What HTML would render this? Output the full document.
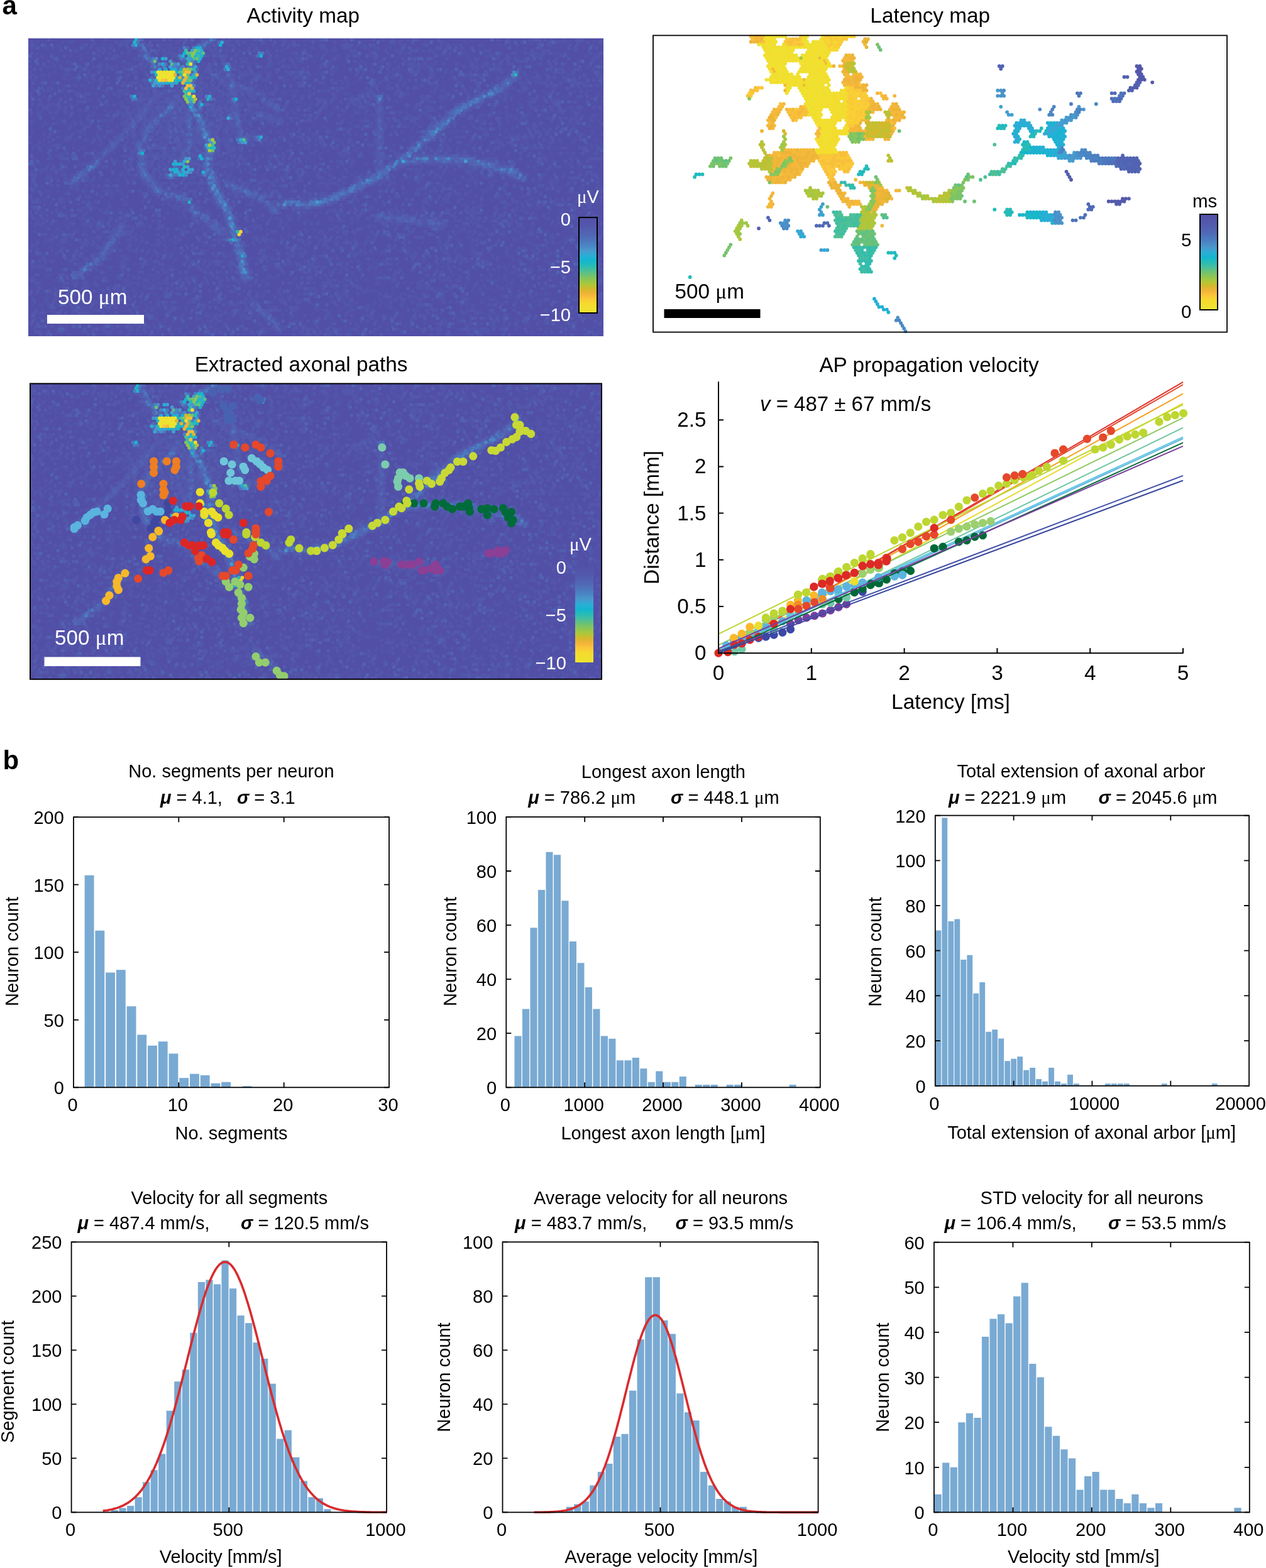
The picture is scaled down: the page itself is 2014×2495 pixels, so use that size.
<!DOCTYPE html>
<html><head><meta charset="utf-8"><title>Figure</title>
<style>html,body{margin:0;padding:0;background:#fff;} svg{display:block;} text{font-family:'Liberation Sans', Arial, Helvetica, sans-serif;}</style>
</head><body>
<svg width="2014" height="2495" viewBox="0 0 2014 2495">
<rect width="2014" height="2495" fill="#fff"/>
<text x="3.5" y="22.7" font-size="42" text-anchor="start" fill="#000" font-weight="bold">a</text>
<text x="4.5" y="1224.2" font-size="42" text-anchor="start" fill="#000" font-weight="bold">b</text>
<defs>
<clipPath id="cpA"><rect x="45" y="61" width="915" height="474"/></clipPath>
<clipPath id="cpE"><rect x="48" y="610" width="909" height="471"/></clipPath>
<linearGradient id="gA" x1="0" y1="0" x2="0" y2="1"><stop offset="0.000" stop-color="#5150a8"/><stop offset="0.100" stop-color="#5459ac"/><stop offset="0.200" stop-color="#4f6ab6"/><stop offset="0.300" stop-color="#4a87c5"/><stop offset="0.350" stop-color="#499acd"/><stop offset="0.400" stop-color="#2aaed6"/><stop offset="0.450" stop-color="#14b5cf"/><stop offset="0.500" stop-color="#25bcb8"/><stop offset="0.550" stop-color="#45bf9e"/><stop offset="0.600" stop-color="#6bc276"/><stop offset="0.650" stop-color="#8dc655"/><stop offset="0.700" stop-color="#acc83a"/><stop offset="0.750" stop-color="#d3b92c"/><stop offset="0.800" stop-color="#f2b33a"/><stop offset="0.850" stop-color="#fbc63a"/><stop offset="0.900" stop-color="#f5da2e"/><stop offset="1.000" stop-color="#eee42f"/></linearGradient>
<g id="actc"><g fill="none" stroke-width="5.8" stroke-linecap="round" ><path d="M62.4 63.2h0m586.5 0h0m69.5 0h0m19.9 0h0m161.5 4.3h0m-484.5 4.3h0m203.7 0h0m179 0h0m-688.4 4.3h0m89.5 0h0m9.9 0h0m357.9 0h0m328 0h0m49.7 0h0m-355.4 4.3h0m114.3 0h0m34.8 0h0m-598.9 4.3h0m700.8 0h0m39.8 0h0m-822.6 4.3h0m69.6 0h0m601.4 0h0m173.9 0h0m-459.7 4.3h0m273.4 0h0m-507 8.6h0m129.2 0h0m44.8 0h0m-146.7 4.3h0m437.4 0h0m-335.5 4.3h0m84.5 0h0m213.7 0h0m-422.4 8.6h0m-146.6 4.3h0m636.1 0h0m-633.6 4.3h0m77.1 4.3h0m417.5 0h0m14.9 0h0m39.7 0h0m5 0h0m54.7 0h0m89.4 0h0m-52.1 4.3h0m-623.8 4.3h0m263.4 0h0m258.5 0h0m-415 4.3h0m19.8 0h0m188.9 0h0m526.8 0h0m-728.1 4.3h0m119.3 0h0m278.3 0h0m84.5 0h0m206.3 4.3h0m-603.9 4.3h0m223.7 0h0m427.4 0h0m-77 13h0m-678.5 4.3h0m770.4 0h0m-608.8 4.3h0m536.7 0h0m-802.6 4.3h0m385.2 4.3h0m-395.2 4.3h0m268.4 0h0m19.9 0h0m402.6 0h0m-176.5 4.3h0m-424.9 4.3h0m338 0h0m255.9 4.3h0m-300.7 4.3h0m34.8 0h0m-116.8 4.3h0m47.2 4.3h0m109.4 0h0m372.7 0h0m-308.1 8.6h0m154.1 0h0m208.7 0h0m-762.9 4.3h0m174 0h0m228.6 0h0m-34.8 8.6h0m27.3 4.3h0m49.7 0h0m238.6 0h0m9.9 0h0m-489.5 4.3h0m84.5 0h0m457.2 0h0m-452.3 8.6h0m-216.2 4.3h0m673.5 4.3h0m-574.1 4.4h0m39.8 0h0m457.2 0h0m-506.9 8.6h0m308.1 0h0m206.3 4.3h0m-603.9 4.3h0m541.8 0h0m99.4 0h0m-521.9 8.6h0m-101.9 4.3h0m24.9 0h0m104.4 0h0m-340.5 4.3h0m59.6 0h0m390.2 4.3h0m-92 4.3h0m183.9 0h0m-544.2 4.3h0m99.4 0h0m54.7 0h0m342.9 0h0m211.2 4.3h0m144.2 0h0m-847.4 4.3h0m656 0h0m5 0h0m-196.3 4.3h0m-141.7 4.3h0m10 0h0m44.7 0h0m99.4 0h0m-280.8 4.3h0m253.5 0h0m370.2 4.3h0m-842.4 4.3h0m298.2 0h0m39.8 0h0m49.7 0h0m422.4 0h0m-598.8 4.3h0m39.7 0h0m183.9 0h0m74.6 0h0m347.9 0h0m-161.6 4.3h0m-395.1 4.3h0m24.9 0h0m541.7 0h0m-668.5 4.3h0m546.7 0h0m-678.4 4.3h0m-32.3 4.4h0m586.5 0h0m154 0h0m-733 4.3h0m357.8 0h0m159.1 0h0m-308.2 8.6h0m-151.6 4.3h0m84.5 0h0m628.7 4.3h0m-434.9 4.3h0m-285.7 4.3h0m581.5 0h0m-544.3 4.3h0m745.5 0h0m-844.9 8.6h0m29.9 0h0m178.9 0h0m59.6 0h0m298.2 0h0m-415 4.3h0m581.5 8.6h0m-489.5 4.3h0m79.5 0h0m9.9 0h0m154.1 0h0m-241 4.3h0m263.4 0h0m-439.9 4.3h0m-72 4.3h0m536.7 0h0m-380.2 4.3h0m671 0h0m-598.9 4.3h0m-82 4.3h0m59.6 0h0m275.9 4.3h0m208.7 0h0m-151.6 4.3h0m308.1 0h0m19.9 0h0m-658.5 4.3h0m99.4 0h0m-226.1 4.4h0m452.2 0h0m243.6 0h0m-62.2 4.3h0m99.4 0h0m-653.5 4.3h0m94.4 0h0m84.5 0h0m-360.3 4.3h0m502 0h0m49.7 0h0m24.8 0h0m298.2 0h0m-802.7 4.3h0m427.5 0h0m198.8 0h0m42.2 4.3h0m99.4 0h0m-708.2 4.3h0m203.8 0h0m178.9 0h0m34.8 0h0m24.8 0h0m-340.4 4.3h0m109.3 0h0m298.2 0h0m29.8 0h0m218.7 0h0m-703.2 4.3h0m347.9 0h0m357.8 0h0m-310.6 4.3h0m-290.8 4.3h0m-231.1 4.3h0m541.8 0h0m203.7 0h0m-429.9 4.3h0m-196.3 4.3h0m377.7 0h0" stroke="#5252a9"/><path d="M77.3 63.2h0m89.5 0h0m39.7 0h0m5 0h0m59.6 0h0m59.7 0h0m24.8 0h0m10 0h0m39.7 0h0m5 0h0m39.8 0h0m144.1 0h0m14.9 0h0m14.9 0h0m74.6 0h0m94.4 0h0m14.9 0h0m49.7 0h0m9.9 0h0m10 0h0m39.7 0h0m5 0h0m5 0h0m-812.6 4.3h0m34.8 0h0m34.8 0h0m14.9 0h0m4.9 0h0m19.9 0h0m5 0h0m129.2 0h0m5 0h0m24.8 0h0m29.9 0h0m34.7 0h0m79.6 0h0m89.4 0h0m5 0h0m9.9 0h0m64.6 0h0m109.4 0h0m49.7 0h0m14.9 0h0m9.9 0h0m34.8 0h0m14.9 0h0m19.9 0h0m5 0h0m-912 4.3h0m24.8 0h0m74.6 0h0m54.7 0h0m29.8 0h0m39.7 0h0m19.9 0h0m39.8 0h0m14.9 0h0m24.8 0h0m10 0h0m54.6 0h0m15 0h0m9.9 0h0m5 0h0m9.9 0h0m34.8 0h0m5 0h0m29.8 0h0m9.9 0h0m39.8 0h0m49.7 0h0m89.4 0h0m29.9 0h0m59.6 0h0m49.7 0h0m34.8 0h0m9.9 0h0m24.9 0h0m-797.7 4.3h0m9.9 0h0m10 0h0m9.9 0h0m29.8 0h0m19.9 0h0m10 0h0m4.9 0h0m14.9 0h0m79.6 0h0m9.9 0h0m29.8 0h0m34.8 0h0m49.7 0h0m39.8 0h0m14.9 0h0m5 0h0m29.8 0h0m4.9 0h0m5 0h0m24.9 0h0m19.8 0h0m99.4 0h0m10 0h0m24.8 0h0m124.3 0h0m54.7 0h0m34.7 0h0m-852.3 4.3h0m24.8 0h0m34.8 0h0m10 0h0m39.7 0h0m44.8 0h0m9.9 0h0m29.8 0h0m44.7 0h0m5 0h0m19.9 0h0m19.9 0h0m24.8 0h0m5 0h0m29.8 0h0m119.3 0h0m5 0h0m49.7 0h0m24.8 0h0m14.9 0h0m5 0h0m24.8 0h0m89.5 0h0m5 0h0m69.6 0h0m19.8 0h0m5 0h0m44.7 0h0m19.9 0h0m-772.8 4.3h0m9.9 0h0m19.9 0h0m9.9 0h0m19.9 0h0m14.9 0h0m34.8 0h0m74.6 0h0m119.3 0h0m4.9 0h0m14.9 0h0m104.4 0h0m24.9 0h0m19.8 0h0m14.9 0h0m144.2 0h0m19.9 0h0m4.9 0h0m14.9 0h0m10 0h0m54.6 0h0m39.8 0h0m14.9 0h0m-887.1 4.3h0m89.4 0h0m24.9 0h0m79.5 0h0m14.9 0h0m54.7 0h0m14.9 0h0m14.9 0h0m14.9 0h0m29.8 0h0m34.8 0h0m74.6 0h0m39.7 0h0m14.9 0h0m223.7 0h0m64.6 0h0m94.4 0h0m-867.2 4.3h0m129.2 0h0m59.6 0h0m10 0h0m69.5 0h0m5 0h0m24.9 0h0m69.5 0h0m10 0h0m49.7 0h0m39.7 0h0m44.8 0h0m59.6 0h0m54.7 0h0m44.7 0h0m5 0h0m44.7 0h0m5 0h0m9.9 0h0m39.8 0h0m24.8 0h0m59.7 0h0m-897.1 4.3h0m29.8 0h0m119.3 0h0m64.6 0h0m14.9 0h0m64.6 0h0m34.8 0h0m9.9 0h0m5 0h0m39.8 0h0m19.9 0h0m14.9 0h0m14.9 0h0m84.5 0h0m193.8 0h0m39.8 0h0m9.9 0h0m14.9 0h0m5 0h0m4.9 0h0m39.8 0h0m9.9 0h0m39.8 0h0m19.9 0h0m-827.5 4.3h0m44.7 0h0m74.6 0h0m4.9 0h0m10 0h0m44.7 0h0m59.6 0h0m54.7 0h0m19.9 0h0m223.6 0h0m5 0h0m19.9 0h0m29.8 0h0m19.9 0h0m49.7 0h0m19.9 0h0m14.9 0h0m49.7 0h0m14.9 0h0m-827.5 4.3h0m49.7 0h0m29.8 0h0m9.9 0h0m34.8 0h0m39.8 0h0m19.9 0h0m34.8 0h0m49.7 0h0m14.9 0h0m4.9 0h0m59.7 0h0m29.8 0h0m24.9 0h0m9.9 0h0m29.8 0h0m19.9 0h0m9.9 0h0m114.3 0h0m19.9 0h0m29.8 0h0m54.7 0h0m14.9 0h0m5 0h0m9.9 0h0m109.4 0h0m69.6 0h0m9.9 0h0m-892.1 4.3h0m94.4 0h0m19.9 0h0m149.1 0h0m14.9 0h0m9.9 0h0m129.3 0h0m44.7 0h0m44.7 0h0m44.8 0h0m9.9 0h0m29.8 0h0m10 0h0m29.8 0h0m94.4 0h0m5 0h0m19.9 0h0m59.6 0h0m19.9 0h0m19.9 0h0m4.9 0h0m-777.8 4.3h0m74.6 0h0m109.3 0h0m5 0h0m14.9 0h0m14.9 0h0m19.9 0h0m9.9 0h0m49.7 0h0m14.9 0h0m5 0h0m9.9 0h0m5 0h0m39.8 0h0m14.9 0h0m39.7 0h0m24.9 0h0m64.6 0h0m5 0h0m24.8 0h0m19.9 0h0m39.8 0h0m49.7 0h0m34.7 0h0m49.7 0h0m5 0h0m10 0h0m14.9 0h0m39.7 0h0m-902 4.3h0m4.9 0h0m14.9 0h0m10 0h0m44.7 0h0m24.9 0h0m54.6 0h0m39.8 0h0m74.6 0h0m29.8 0h0m24.8 0h0m10 0h0m4.9 0h0m5 0h0m14.9 0h0m54.7 0h0m29.8 0h0m34.8 0h0m39.8 0h0m59.6 0h0m9.9 0h0m49.7 0h0m54.7 0h0m9.9 0h0m10 0h0m64.6 0h0m9.9 0h0m19.9 0h0m14.9 0h0m79.5 0h0m5 0h0m-907 4.3h0m54.7 0h0m19.8 0h0m14.9 0h0m10 0h0m24.8 0h0m14.9 0h0m49.7 0h0m94.5 0h0m4.9 0h0m15 0h0m4.9 0h0m14.9 0h0m34.8 0h0m10 0h0m9.9 0h0m24.9 0h0m19.8 0h0m169 0h0m124.3 0h0m4.9 0h0m24.9 0h0m34.8 0h0m29.8 0h0m24.8 0h0m15 0h0m14.9 0h0m9.9 0h0m-797.7 4.3h0m24.9 0h0m9.9 0h0m74.6 0h0m114.3 0h0m9.9 0h0m14.9 0h0m29.8 0h0m19.9 0h0m29.8 0h0m29.9 0h0m44.7 0h0m69.6 0h0m14.9 0h0m24.8 0h0m14.9 0h0m19.9 0h0m24.9 0h0m54.6 0h0m49.7 0h0m114.4 0h0m29.8 0h0m-802.7 4.3h0m19.9 0h0m9.9 0h0m24.9 0h0m14.9 0h0m5 0h0m14.9 0h0m79.5 0h0m24.8 0h0m24.9 0h0m14.9 0h0m5 0h0m94.4 0h0m34.8 0h0m5 0h0m14.9 0h0m4.9 0h0m69.6 0h0m124.3 0h0m29.8 0h0m69.6 0h0m34.8 0h0m4.9 0h0m10 0h0m14.9 0h0m19.9 0h0m4.9 0h0m39.8 0h0m-852.4 4.3h0m54.7 0h0m34.8 0h0m39.8 0h0m54.6 0h0m49.7 0h0m10 0h0m39.7 0h0m19.9 0h0m29.8 0h0m159.1 0h0m19.9 0h0m54.6 0h0m114.3 0h0m49.7 0h0m34.8 0h0m10 0h0m4.9 0h0m34.8 0h0m10 0h0m4.9 0h0m14.9 0h0m-867.2 4.3h0m149.1 0h0m4.9 0h0m5 0h0m29.8 0h0m39.8 0h0m14.9 0h0m49.7 0h0m5 0h0m59.6 0h0m59.7 0h0m34.7 0h0m10 0h0m39.7 0h0m34.8 0h0m5 0h0m24.9 0h0m9.9 0h0m5 0h0m29.8 0h0m44.7 0h0m24.9 0h0m19.8 0h0m49.7 0h0m5 0h0m-767.9 4.3h0m44.8 0h0m54.6 0h0m19.9 0h0m5 0h0m39.8 0h0m24.8 0h0m5 0h0m19.9 0h0m4.9 0h0m44.8 0h0m19.8 0h0m24.9 0h0m9.9 0h0m14.9 0h0m15 0h0m19.8 0h0m84.5 0h0m14.9 0h0m54.7 0h0m39.8 0h0m59.6 0h0m34.8 0h0m14.9 0h0m19.9 0h0m14.9 0h0m49.7 0h0m9.9 0h0m44.8 0h0m44.7 0h0m-877.2 4.3h0m74.5 0h0m5 0h0m9.9 0h0m44.8 0h0m39.7 0h0m5 0h0m9.9 0h0m15 0h0m9.9 0h0m19.9 0h0m4.9 0h0m5 0h0m24.9 0h0m44.7 0h0m39.8 0h0m4.9 0h0m24.9 0h0m69.6 0h0m29.8 0h0m64.6 0h0m14.9 0h0m19.9 0h0m14.9 0h0m119.3 0h0m29.8 0h0m9.9 0h0m129.2 0h0m-882.1 4.3h0m139.1 0h0m34.8 0h0m19.9 0h0m19.9 0h0m49.7 0h0m24.8 0h0m10 0h0m4.9 0h0m10 0h0m34.8 0h0m4.9 0h0m15 0h0m4.9 0h0m44.8 0h0m14.9 0h0m49.7 0h0m84.5 0h0m54.6 0h0m29.8 0h0m5 0h0m49.7 0h0m29.8 0h0m10 0h0m9.9 0h0m49.7 0h0m64.6 0h0m5 0h0m24.8 0h0m-887.1 4.3h0m14.9 0h0m79.5 0h0m64.6 0h0m10 0h0m4.9 0h0m15 0h0m24.8 0h0m5 0h0m84.5 0h0m39.7 0h0m10 0h0m14.9 0h0m4.9 0h0m5 0h0m39.8 0h0m29.8 0h0m19.9 0h0m49.7 0h0m29.8 0h0m64.6 0h0m5 0h0m24.8 0h0m14.9 0h0m24.9 0h0m5 0h0m64.6 0h0m34.8 0h0m4.9 0h0m14.9 0h0m10 0h0m-782.8 4.3h0m29.8 0h0m5 0h0m29.8 0h0m34.8 0h0m24.8 0h0m24.9 0h0m5 0h0m4.9 0h0m5 0h0m69.6 0h0m14.9 0h0m5 0h0m4.9 0h0m24.9 0h0m14.9 0h0m29.8 0h0m49.7 0h0m54.7 0h0m14.9 0h0m14.9 0h0m5 0h0m9.9 0h0m114.3 0h0m49.7 0h0m5 0h0m139.2 0h0m34.8 0h0m44.7 0h0m-907 4.4h0m9.9 0h0m5 0h0m9.9 0h0m34.8 0h0m69.6 0h0m69.6 0h0m44.7 0h0m44.7 0h0m39.8 0h0m4.9 0h0m15 0h0m4.9 0h0m5 0h0m44.7 0h0m49.7 0h0m10 0h0m4.9 0h0m34.8 0h0m10 0h0m9.9 0h0m14.9 0h0m10 0h0m64.6 0h0m4.9 0h0m59.7 0h0m114.3 0h0m39.7 0h0m-812.5 4.3h0m34.8 0h0m49.7 0h0m39.8 0h0m5 0h0m39.7 0h0m59.7 0h0m14.9 0h0m14.9 0h0m24.8 0h0m44.8 0h0m9.9 0h0m10 0h0m9.9 0h0m5 0h0m19.8 0h0m39.8 0h0m19.9 0h0m5 0h0m54.6 0h0m5 0h0m19.9 0h0m24.8 0h0m39.8 0h0m19.9 0h0m74.5 0h0m29.8 0h0m44.8 0h0m14.9 0h0m29.8 0h0m44.7 0h0m5 0h0m19.9 0h0m9.9 0h0m-852.3 4.3h0m24.8 0h0m109.3 0h0m5 0h0m34.8 0h0m64.6 0h0m24.9 0h0m14.9 0h0m14.9 0h0m39.7 0h0m54.7 0h0m54.7 0h0m39.7 0h0m24.9 0h0m74.5 0h0m5 0h0m59.7 0h0m74.5 0h0m39.8 0h0m14.9 0h0m19.9 0h0m-837.5 4.3h0m19.9 0h0m9.9 0h0m14.9 0h0m79.6 0h0m24.8 0h0m24.9 0h0m104.3 0h0m29.9 0h0m74.5 0h0m64.6 0h0m59.7 0h0m14.9 0h0m29.8 0h0m24.8 0h0m39.8 0h0m64.6 0h0m154.1 0h0m19.9 0h0m4.9 0h0m-857.3 4.3h0m49.7 0h0m29.8 0h0m44.7 0h0m10 0h0m9.9 0h0m34.8 0h0m5 0h0m5 0h0m19.8 0h0m5 0h0m5 0h0m4.9 0h0m19.9 0h0m24.9 0h0m59.6 0h0m29.8 0h0m5 0h0m29.8 0h0m84.5 0h0m54.7 0h0m89.4 0h0m15 0h0m9.9 0h0m24.8 0h0m5 0h0m10 0h0m59.6 0h0m109.3 0h0m-832.4 4.3h0m54.6 0h0m39.8 0h0m24.8 0h0m10 0h0m24.8 0h0m19.9 0h0m24.9 0h0m39.7 0h0m19.9 0h0m5 0h0m9.9 0h0m49.7 0h0m5 0h0m5 0h0m19.8 0h0m5 0h0m5 0h0m14.9 0h0m29.8 0h0m9.9 0h0m114.4 0h0m39.7 0h0m10 0h0m19.8 0h0m14.9 0h0m94.5 0h0m24.8 0h0m10 0h0m59.6 0h0m9.9 0h0m10 0h0m-743 4.3h0m34.8 0h0m64.6 0h0m39.7 0h0m24.9 0h0m4.9 0h0m15 0h0m64.6 0h0m9.9 0h0m9.9 0h0m15 0h0m34.7 0h0m5 0h0m5 0h0m24.8 0h0m24.9 0h0m34.8 0h0m4.9 0h0m15 0h0m34.7 0h0m19.9 0h0m5 0h0m64.6 0h0m114.3 0h0m39.8 0h0m14.9 0h0m14.9 0h0m9.9 0h0m5 0h0m19.9 0h0m-892.1 4.3h0m19.8 0h0m15 0h0m34.7 0h0m10 0h0m14.9 0h0m49.7 0h0m9.9 0h0m149.1 0h0m15 0h0m4.9 0h0m59.7 0h0m109.3 0h0m49.7 0h0m19.9 0h0m24.8 0h0m49.7 0h0m5 0h0m29.8 0h0m129.2 0h0m69.6 0h0m-807.6 4.3h0m24.8 0h0m109.4 0h0m19.9 0h0m14.9 0h0m14.9 0h0m14.9 0h0m24.8 0h0m5 0h0m10 0h0m9.9 0h0m5 0h0m4.9 0h0m198.8 0h0m10 0h0m9.9 0h0m10 0h0m14.9 0h0m9.9 0h0m19.9 0h0m24.8 0h0m54.7 0h0m29.8 0h0m69.6 0h0m24.9 0h0m4.9 0h0m34.8 0h0m-777.8 4.3h0m114.3 0h0m5 0h0m24.8 0h0m104.4 0h0m5 0h0m14.9 0h0m99.4 0h0m59.6 0h0m10 0h0m9.9 0h0m19.9 0h0m188.9 0h0m19.8 0h0m54.7 0h0m9.9 0h0m24.9 0h0m9.9 0h0m24.9 0h0m-782.8 4.3h0m49.7 0h0m19.9 0h0m59.6 0h0m5 0h0m24.8 0h0m24.9 0h0m24.8 0h0m5 0h0m14.9 0h0m19.9 0h0m54.7 0h0m44.7 0h0m44.7 0h0m5 0h0m74.6 0h0m29.8 0h0m39.7 0h0m183.9 0h0m5 0h0m14.9 0h0m34.8 0h0m-837.4 4.3h0m10 0h0m34.8 0h0m39.7 0h0m49.7 0h0m19.9 0h0m24.9 0h0m29.8 0h0m9.9 0h0m19.9 0h0m34.8 0h0m19.9 0h0m14.9 0h0m19.9 0h0m4.9 0h0m15 0h0m44.7 0h0m39.7 0h0m193.9 0h0m4.9 0h0m69.6 0h0m5 0h0m59.6 0h0m24.9 0h0m9.9 0h0m49.7 0h0m5 0h0m34.8 0h0m-912 4.3h0m29.8 0h0m14.9 0h0m14.9 0h0m59.7 0h0m14.9 0h0m19.9 0h0m24.8 0h0m29.8 0h0m5 0h0m24.8 0h0m5 0h0m14.9 0h0m10 0h0m19.8 0h0m5 0h0m34.8 0h0m24.9 0h0m24.8 0h0m19.9 0h0m5 0h0m14.9 0h0m9.9 0h0m5 0h0m9.9 0h0m208.8 0h0m9.9 0h0m19.9 0h0m9.9 0h0m84.5 0h0m14.9 0h0m84.5 0h0m-817.6 4.3h0m5 0h0m49.7 0h0m14.9 0h0m10 0h0m34.7 0h0m15 0h0m14.9 0h0m19.9 0h0m39.7 0h0m5 0h0m5 0h0m39.7 0h0m39.8 0h0m4.9 0h0m129.3 0h0m49.7 0h0m14.9 0h0m9.9 0h0m99.4 0h0m10 0h0m34.7 0h0m74.6 0h0m39.8 0h0m24.8 0h0m-842.4 4.3h0m14.9 0h0m14.9 0h0m69.6 0h0m54.7 0h0m9.9 0h0m5 0h0m39.7 0h0m19.9 0h0m14.9 0h0m19.9 0h0m9.9 0h0m24.9 0h0m14.9 0h0m5 0h0m64.6 0h0m44.7 0h0m9.9 0h0m24.9 0h0m5 0h0m39.7 0h0m149.1 0h0m24.9 0h0m4.9 0h0m59.7 0h0m14.9 0h0m49.7 0h0m19.9 0h0m-792.7 4.3h0m4.9 0h0m5 0h0m79.5 0h0m24.9 0h0m14.9 0h0m19.9 0h0m19.8 0h0m10 0h0m44.7 0h0m10 0h0m39.7 0h0m5 0h0m29.8 0h0m44.7 0h0m24.9 0h0m39.7 0h0m34.8 0h0m24.9 0h0m24.8 0h0m5 0h0m9.9 0h0m59.7 0h0m14.9 0h0m124.2 0h0m15 0h0m14.9 0h0m19.8 0h0m109.4 0h0m-907 4.3h0m144.1 0h0m5 0h0m44.7 0h0m5 0h0m39.7 0h0m69.6 0h0m5 0h0m4.9 0h0m10 0h0m169 0h0m49.7 0h0m9.9 0h0m39.8 0h0m54.6 0h0m10 0h0m74.5 0h0m5 0h0m39.7 0h0m19.9 0h0m19.9 0h0m24.9 0h0m24.8 0h0m5 0h0m4.9 0h0m-867.2 4.3h0m114.3 0h0m29.8 0h0m5 0h0m4.9 0h0m19.9 0h0m19.9 0h0m5 0h0m54.7 0h0m29.8 0h0m14.9 0h0m5 0h0m4.9 0h0m10 0h0m14.9 0h0m34.8 0h0m24.8 0h0m44.7 0h0m119.3 0h0m44.8 0h0m4.9 0h0m5 0h0m19.9 0h0m19.9 0h0m24.8 0h0m14.9 0h0m174 0h0m24.8 0h0m-847.4 4.3h0m34.8 0h0m14.9 0h0m5 0h0m9.9 0h0m39.8 0h0m39.8 0h0m14.9 0h0m29.8 0h0m9.9 0h0m10 0h0m29.8 0h0m14.9 0h0m89.5 0h0m49.7 0h0m39.7 0h0m59.7 0h0m29.8 0h0m99.4 0h0m9.9 0h0m29.8 0h0m39.8 0h0m49.7 0h0m34.8 0h0m19.9 0h0m34.8 0h0m-867.3 4.3h0m14.9 0h0m5 0h0m49.7 0h0m49.7 0h0m34.8 0h0m29.8 0h0m5 0h0m4.9 0h0m5 0h0m24.8 0h0m10 0h0m9.9 0h0m24.9 0h0m4.9 0h0m15 0h0m4.9 0h0m34.8 0h0m10 0h0m9.9 0h0m5 0h0m9.9 0h0m9.9 0h0m10 0h0m84.5 0h0m49.7 0h0m14.9 0h0m19.9 0h0m79.5 0h0m19.9 0h0m24.8 0h0m84.5 0h0m-762.9 4.3h0m19.9 0h0m5 0h0m59.6 0h0m14.9 0h0m34.8 0h0m19.9 0h0m29.8 0h0m14.9 0h0m5 0h0m59.6 0h0m39.8 0h0m29.8 0h0m29.8 0h0m10 0h0m9.9 0h0m49.7 0h0m44.7 0h0m44.8 0h0m9.9 0h0m5 0h0m159 0h0m5 0h0m9.9 0h0m39.8 0h0m39.7 0h0m39.8 0h0m29.8 0h0m5 0h0m5 0h0m4.9 0h0m5 0h0m-807.6 4.3h0m9.9 0h0m19.9 0h0m29.8 0h0m9.9 0h0m19.9 0h0m44.8 0h0m24.8 0h0m5 0h0m24.8 0h0m14.9 0h0m24.9 0h0m9.9 0h0m19.9 0h0m34.8 0h0m24.9 0h0m59.6 0h0m14.9 0h0m19.9 0h0m39.7 0h0m19.9 0h0m159.1 0h0m4.9 0h0m29.9 0h0m119.2 0h0m-837.4 4.3h0m39.7 0h0m5 0h0m64.6 0h0m44.8 0h0m9.9 0h0m59.6 0h0m19.9 0h0m10 0h0m4.9 0h0m5 0h0m5 0h0m24.8 0h0m59.7 0h0m9.9 0h0m49.7 0h0m34.8 0h0m14.9 0h0m49.7 0h0m44.7 0h0m14.9 0h0m14.9 0h0m5 0h0m5 0h0m9.9 0h0m5 0h0m5 0h0m4.9 0h0m5 0h0m14.9 0h0m64.6 0h0m54.7 0h0m64.6 0h0m-847.4 4.3h0m10 0h0m79.5 0h0m4.9 0h0m29.9 0h0m9.9 0h0m29.8 0h0m24.9 0h0m44.7 0h0m44.7 0h0m24.9 0h0m34.8 0h0m14.9 0h0m5 0h0m59.6 0h0m44.7 0h0m59.7 0h0m4.9 0h0m34.8 0h0m5 0h0m29.8 0h0m64.6 0h0m10 0h0m4.9 0h0m15 0h0m74.5 0h0m34.8 0h0m9.9 0h0m5 0h0m19.9 0h0m24.8 0h0m-862.3 4.4h0m10 0h0m14.9 0h0m34.8 0h0m119.3 0h0m94.4 0h0m89.4 0h0m15 0h0m24.8 0h0m5 0h0m19.9 0h0m49.7 0h0m74.5 0h0m24.9 0h0m4.9 0h0m54.7 0h0m14.9 0h0m29.8 0h0m5 0h0m114.3 0h0m-807.6 4.3h0m139.1 0h0m39.8 0h0m9.9 0h0m10 0h0m44.7 0h0m49.7 0h0m24.9 0h0m14.9 0h0m59.6 0h0m14.9 0h0m193.9 0h0m39.7 0h0m124.3 0h0m104.3 0h0m5 0h0m-892.1 4.3h0m5 0h0m4.9 0h0m44.8 0h0m89.4 0h0m49.7 0h0m14.9 0h0m5 0h0m54.7 0h0m49.7 0h0m39.7 0h0m49.7 0h0m49.7 0h0m19.9 0h0m49.7 0h0m9.9 0h0m5 0h0m29.8 0h0m44.8 0h0m29.8 0h0m74.5 0h0m29.9 0h0m39.7 0h0m24.9 0h0m4.9 0h0m54.7 0h0m19.9 0h0m5 0h0m-892.2 4.3h0m19.9 0h0m5 0h0m24.8 0h0m29.9 0h0m4.9 0h0m10 0h0m74.5 0h0m29.8 0h0m10 0h0m14.9 0h0m29.8 0h0m54.7 0h0m84.5 0h0m9.9 0h0m19.9 0h0m34.8 0h0m19.9 0h0m34.8 0h0m59.6 0h0m19.9 0h0m19.9 0h0m34.7 0h0m34.8 0h0m14.9 0h0m64.7 0h0m94.4 0h0m5 0h0m34.7 0h0m-857.3 4.3h0m10 0h0m34.7 0h0m10 0h0m24.8 0h0m29.9 0h0m9.9 0h0m19.9 0h0m14.9 0h0m44.7 0h0m79.5 0h0m49.7 0h0m5 0h0m14.9 0h0m34.8 0h0m5 0h0m84.5 0h0m4.9 0h0m34.8 0h0m5 0h0m9.9 0h0m44.8 0h0m164 0h0m19.9 0h0m9.9 0h0m19.9 0h0m-822.6 4.3h0m24.9 0h0m44.7 0h0m79.5 0h0m24.9 0h0m29.8 0h0m5 0h0m9.9 0h0m29.8 0h0m5 0h0m14.9 0h0m5 0h0m19.9 0h0m39.7 0h0m24.9 0h0m19.9 0h0m29.8 0h0m49.7 0h0m19.9 0h0m14.9 0h0m49.7 0h0m24.8 0h0m5 0h0m59.6 0h0m44.8 0h0m24.8 0h0m49.7 0h0m69.6 0h0m29.8 0h0m10 0h0m-832.5 4.3h0m9.9 0h0m19.9 0h0m9.9 0h0m34.8 0h0m10 0h0m14.9 0h0m69.6 0h0m24.8 0h0m74.6 0h0m29.8 0h0m14.9 0h0m39.7 0h0m15 0h0m14.9 0h0m19.8 0h0m34.8 0h0m69.6 0h0m14.9 0h0m14.9 0h0m164 0h0m19.9 0h0m14.9 0h0m39.8 0h0m5 0h0m14.9 0h0m49.7 0h0m-812.6 4.3h0m178.9 0h0m69.6 0h0m263.4 0h0m64.6 0h0m19.9 0h0m89.4 0h0m69.6 0h0m79.5 0h0m10 0h0m-907 4.3h0m79.5 0h0m39.7 0h0m14.9 0h0m34.8 0h0m44.8 0h0m9.9 0h0m9.9 0h0m15 0h0m4.9 0h0m5 0h0m39.8 0h0m4.9 0h0m44.8 0h0m9.9 0h0m19.9 0h0m4.9 0h0m5 0h0m24.9 0h0m104.3 0h0m94.5 0h0m19.8 0h0m10 0h0m9.9 0h0m19.9 0h0m79.5 0h0m49.7 0h0m74.6 0h0m9.9 0h0m19.9 0h0m-698.3 4.3h0m24.9 0h0m4.9 0h0m10 0h0m9.9 0h0m19.9 0h0m34.8 0h0m14.9 0h0m39.8 0h0m24.8 0h0m49.7 0h0m19.9 0h0m5 0h0m49.7 0h0m94.4 0h0m5 0h0m49.7 0h0m9.9 0h0m5 0h0m9.9 0h0m64.6 0h0m54.7 0h0m79.5 0h0m-892.1 4.3h0m94.4 0h0m59.7 0h0m49.7 0h0m59.6 0h0m79.5 0h0m19.9 0h0m14.9 0h0m84.5 0h0m5 0h0m39.7 0h0m24.9 0h0m9.9 0h0m39.8 0h0m69.6 0h0m14.9 0h0m44.7 0h0m34.8 0h0m-743 4.3h0m34.8 0h0m9.9 0h0m5 0h0m94.4 0h0m44.7 0h0m24.9 0h0m9.9 0h0m59.7 0h0m119.2 0h0m15 0h0m9.9 0h0m14.9 0h0m14.9 0h0m34.8 0h0m19.9 0h0m34.8 0h0m49.7 0h0m29.8 0h0m9.9 0h0m19.9 0h0m5 0h0m19.9 0h0m84.5 0h0m29.8 0h0m29.8 0h0m19.9 0h0m9.9 0h0m14.9 0h0m-867.2 4.3h0m44.7 0h0m34.8 0h0m9.9 0h0m10 0h0m129.2 0h0m119.3 0h0m9.9 0h0m19.9 0h0m4.9 0h0m10 0h0m89.4 0h0m19.9 0h0m14.9 0h0m39.8 0h0m64.6 0h0m5 0h0m49.7 0h0m24.8 0h0m44.8 0h0m19.8 0h0m5 0h0m14.9 0h0m79.5 0h0m14.9 0h0m5 0h0m-762.9 4.3h0m24.9 0h0m99.4 0h0m74.5 0h0m154.1 0h0m49.7 0h0m34.8 0h0m29.8 0h0m188.9 0h0m24.8 0h0m10 0h0m19.8 0h0m24.9 0h0m14.9 0h0m9.9 0h0m5 0h0m-887.1 4.3h0m4.9 0h0m89.5 0h0m94.4 0h0m44.7 0h0m10 0h0m5 0h0m14.9 0h0m29.8 0h0m24.8 0h0m49.7 0h0m79.6 0h0m9.9 0h0m54.7 0h0m24.8 0h0m84.5 0h0m69.6 0h0m9.9 0h0m10 0h0m24.8 0h0m14.9 0h0m109.4 0h0m24.8 0h0m-877.2 4.3h0m29.8 0h0m34.8 0h0m5 0h0m29.8 0h0m9.9 0h0m39.8 0h0m84.5 0h0m5 0h0m94.4 0h0m34.8 0h0m14.9 0h0m89.5 0h0m34.8 0h0m9.9 0h0m54.7 0h0m9.9 0h0m34.8 0h0m34.8 0h0m29.8 0h0m9.9 0h0m39.8 0h0m124.3 0h0m-867.3 4.3h0m34.8 0h0m14.9 0h0m74.5 0h0m79.6 0h0m14.9 0h0m24.8 0h0m29.8 0h0m10 0h0m44.7 0h0m54.7 0h0m14.9 0h0m39.7 0h0m34.8 0h0m14.9 0h0m39.8 0h0m29.8 0h0m29.8 0h0m29.9 0h0m44.7 0h0m34.8 0h0m9.9 0h0m5 0h0m5 0h0m39.7 0h0m34.8 0h0m54.7 0h0m-842.4 4.3h0m24.8 0h0m29.8 0h0m29.9 0h0m64.6 0h0m44.7 0h0m89.5 0h0m39.7 0h0m19.9 0h0m84.5 0h0m24.8 0h0m69.6 0h0m44.8 0h0m9.9 0h0m5 0h0m29.8 0h0m14.9 0h0m44.7 0h0m64.6 0h0m10 0h0m4.9 0h0m19.9 0h0m44.8 0h0m69.5 0h0m10 0h0m-892.1 4.3h0m14.9 0h0m39.7 0h0m69.6 0h0m19.9 0h0m64.6 0h0m44.7 0h0m5 0h0m99.4 0h0m49.7 0h0m14.9 0h0m49.7 0h0m34.8 0h0m9.9 0h0m14.9 0h0m84.5 0h0m5 0h0m5 0h0m9.9 0h0m54.7 0h0m9.9 0h0m10 0h0m29.8 0h0m19.9 0h0m19.8 0h0m19.9 0h0m19.9 0h0m14.9 0h0m14.9 0h0m-827.5 4.3h0m84.5 0h0m14.9 0h0m10 0h0m14.9 0h0m24.8 0h0m19.9 0h0m9.9 0h0m69.6 0h0m34.8 0h0m14.9 0h0m5 0h0m14.9 0h0m34.8 0h0m19.9 0h0m94.4 0h0m54.7 0h0m4.9 0h0m5 0h0m64.6 0h0m5 0h0m54.7 0h0m39.7 0h0m19.9 0h0m29.8 0h0m59.7 0h0m19.8 0h0m-832.4 4.3h0m14.9 0h0m79.5 0h0m34.8 0h0m19.9 0h0m9.9 0h0m24.9 0h0m64.6 0h0m129.2 0h0m49.7 0h0m9.9 0h0m54.7 0h0m64.6 0h0m9.9 0h0m5 0h0m10 0h0m9.9 0h0m14.9 0h0m34.8 0h0m84.5 0h0m14.9 0h0m5 0h0m9.9 0h0m5 0h0m19.9 0h0m29.8 0h0m9.9 0h0m19.9 0h0m49.7 0h0m-812.6 4.3h0m9.9 0h0m5 0h0m14.9 0h0m24.9 0h0m4.9 0h0m14.9 0h0m19.9 0h0m14.9 0h0m39.8 0h0m29.8 0h0m29.8 0h0m24.9 0h0m29.8 0h0m5 0h0m173.9 0h0m59.7 0h0m19.9 0h0m14.9 0h0m19.8 0h0m24.9 0h0m39.8 0h0m59.6 0h0m5 0h0m69.5 0h0m29.9 0h0m-852.4 4.3h0m14.9 0h0m64.6 0h0m29.8 0h0m24.9 0h0m39.8 0h0m14.9 0h0m69.5 0h0m24.9 0h0m54.7 0h0m109.3 0h0m5 0h0m14.9 0h0m29.8 0h0m69.6 0h0m14.9 0h0m39.8 0h0m4.9 0h0m34.8 0h0m79.5 0h0m99.4 0h0m10 0h0m-807.7 4.3h0m44.8 0h0m9.9 0h0m5 0h0m5 0h0m14.9 0h0m9.9 0h0m79.5 0h0m5 0h0m14.9 0h0m44.7 0h0m79.6 0h0m4.9 0h0m49.7 0h0m19.9 0h0m5 0h0m24.8 0h0m10 0h0m44.7 0h0m59.6 0h0m5 0h0m19.9 0h0m44.7 0h0m24.9 0h0m9.9 0h0m89.5 0h0m9.9 0h0m59.7 0h0m44.7 0h0m-892.1 4.4h0m4.9 0h0m34.8 0h0m5 0h0m19.9 0h0m4.9 0h0m39.8 0h0m24.9 0h0m4.9 0h0m44.8 0h0m14.9 0h0m79.5 0h0m14.9 0h0m5 0h0m19.8 0h0m39.8 0h0m89.5 0h0m34.8 0h0m14.9 0h0m44.7 0h0m5 0h0m24.8 0h0m5 0h0m44.7 0h0m74.6 0h0m14.9 0h0m19.9 0h0m44.7 0h0m5 0h0m-743.1 4.3h0m10 0h0m39.7 0h0m5 0h0m169 0h0m39.8 0h0m34.7 0h0m5 0h0m119.3 0h0m9.9 0h0m84.5 0h0m10 0h0m29.8 0h0m5 0h0m4.9 0h0m159.1 0h0m49.7 0h0m29.8 0h0m14.9 0h0m29.8 0h0m-877.2 4.3h0m5 0h0m14.9 0h0m5 0h0m24.8 0h0m79.5 0h0m10 0h0m9.9 0h0m24.9 0h0m34.7 0h0m54.7 0h0m5 0h0m5 0h0m59.6 0h0m14.9 0h0m24.9 0h0m24.8 0h0m5 0h0m29.8 0h0m9.9 0h0m74.6 0h0m34.8 0h0m14.9 0h0m54.7 0h0m14.9 0h0m39.7 0h0m5 0h0m34.8 0h0m24.8 0h0m49.7 0h0m79.6 0h0m-847.4 4.3h0m39.7 0h0m10 0h0m19.8 0h0m19.9 0h0m89.5 0h0m69.6 0h0m54.6 0h0m10 0h0m69.6 0h0m9.9 0h0m44.7 0h0m19.9 0h0m24.9 0h0m59.6 0h0m9.9 0h0m59.7 0h0m19.9 0h0m59.6 0h0m79.5 0h0m10 0h0m19.8 0h0m10 0h0m-857.3 4.3h0m79.5 0h0m4.9 0h0m10 0h0m59.6 0h0m44.8 0h0m104.3 0h0m34.8 0h0m64.6 0h0m49.7 0h0m10 0h0m4.9 0h0m14.9 0h0m94.5 0h0m84.5 0h0m44.7 0h0m54.7 0h0m39.7 0h0m14.9 0h0m69.6 0h0m5 0h0m-842.4 4.3h0m54.6 0h0m5 0h0m5 0h0m39.7 0h0m94.5 0h0m159 0h0m5 0h0m14.9 0h0m44.7 0h0m104.4 0h0m39.8 0h0m24.8 0h0m9.9 0h0m124.3 0h0m29.8 0h0m69.6 0h0m5 0h0m19.8 0h0m-902 4.3h0m9.9 0h0m104.4 0h0m29.8 0h0m24.9 0h0m29.8 0h0m59.6 0h0m14.9 0h0m99.4 0h0m64.6 0h0m89.5 0h0m14.9 0h0m119.3 0h0m44.7 0h0m54.7 0h0m29.8 0h0m19.9 0h0m69.6 0h0m-862.3 4.3h0m24.8 0h0m10 0h0m19.8 0h0m54.7 0h0m59.7 0h0m14.9 0h0m39.7 0h0m34.8 0h0m14.9 0h0m14.9 0h0m15 0h0m44.7 0h0m44.7 0h0m99.4 0h0m10 0h0m79.5 0h0m14.9 0h0m14.9 0h0m34.8 0h0m44.7 0h0m49.7 0h0m49.7 0h0m19.9 0h0m9.9 0h0m19.9 0h0m-777.8 4.3h0m29.8 0h0m39.8 0h0m74.5 0h0m74.6 0h0m9.9 0h0m19.9 0h0m89.5 0h0m14.9 0h0m19.9 0h0m14.9 0h0m49.7 0h0m89.4 0h0m5 0h0m24.8 0h0m10 0h0m19.9 0h0m14.9 0h0m104.3 0h0m-762.9 4.3h0m49.7 0h0m15 0h0m4.9 0h0m29.8 0h0m34.8 0h0m24.9 0h0m29.8 0h0m154.1 0h0m5 0h0m4.9 0h0m10 0h0m9.9 0h0m14.9 0h0m44.7 0h0m19.9 0h0m5 0h0m9.9 0h0m84.5 0h0m34.8 0h0m19.9 0h0m19.9 0h0m29.8 0h0m64.6 0h0m49.7 0h0m5 0h0m49.7 0h0m24.8 0h0m19.9 0h0m14.9 0h0m-892.1 4.3h0m9.9 0h0m10 0h0m29.8 0h0m24.8 0h0m59.7 0h0m54.7 0h0m54.6 0h0m19.9 0h0m14.9 0h0m10 0h0m19.8 0h0m89.5 0h0m29.8 0h0m79.5 0h0m44.8 0h0m99.4 0h0m19.8 0h0m10 0h0m14.9 0h0m69.6 0h0m64.6 0h0m19.9 0h0m39.7 0h0m-757.9 4.3h0m59.6 0h0m5 0h0m44.7 0h0m10 0h0m19.9 0h0m9.9 0h0m5 0h0m24.8 0h0m34.8 0h0m29.8 0h0m14.9 0h0m19.9 0h0m5 0h0m14.9 0h0m5 0h0m54.6 0h0m59.7 0h0m9.9 0h0m144.2 0h0m4.9 0h0m5 0h0m59.6 0h0m39.8 0h0m79.5 0h0m-902 4.3h0m9.9 0h0m84.5 0h0m29.8 0h0m14.9 0h0m34.8 0h0m74.6 0h0m14.9 0h0m14.9 0h0m44.7 0h0m69.6 0h0m34.8 0h0m19.9 0h0m4.9 0h0m10 0h0m44.7 0h0m109.3 0h0m44.8 0h0m9.9 0h0m69.6 0h0m94.4 0h0m-787.7 4.3h0m54.6 0h0m39.8 0h0m64.6 0h0m59.7 0h0m49.7 0h0m9.9 0h0m69.6 0h0m34.8 0h0m29.8 0h0m39.7 0h0m34.8 0h0m34.8 0h0m14.9 0h0m39.8 0h0m39.8 0h0m14.9 0h0m44.7 0h0m9.9 0h0m59.7 0h0m14.9 0h0m5 0h0m29.8 0h0m4.9 0h0m19.9 0h0m10 0h0m4.9 0h0m-797.7 4.3h0m59.7 0h0m24.8 0h0m5 0h0m59.6 0h0m39.8 0h0m124.3 0h0m39.7 0h0m39.8 0h0m99.4 0h0m64.6 0h0m9.9 0h0m34.8 0h0m79.5 0h0m19.9 0h0m54.7 0h0m-797.7 4.3h0m5 0h0m89.4 0h0m14.9 0h0m134.2 0h0m104.4 0h0m19.9 0h0m39.7 0h0m15 0h0m109.3 0h0m54.7 0h0m64.6 0h0m19.9 0h0m14.9 0h0m49.7 0h0m34.8 0h0m29.8 0h0m34.8 0h0m19.8 0h0m-822.5 4.3h0m39.8 0h0m19.8 0h0m5 0h0m29.8 0h0m44.8 0h0m29.8 0h0m29.8 0h0m19.9 0h0m14.9 0h0m119.3 0h0m9.9 0h0m5 0h0m104.4 0h0m9.9 0h0m104.4 0h0m89.4 0h0m54.7 0h0m79.5 0h0m19.9 0h0m-902.1 4.3h0m39.8 0h0m39.8 0h0m34.7 0h0m59.7 0h0m34.8 0h0m19.9 0h0m14.9 0h0m29.8 0h0m34.8 0h0m9.9 0h0m5 0h0m19.9 0h0m124.2 0h0m10 0h0m19.8 0h0m5 0h0m114.3 0h0m34.8 0h0m10 0h0m14.9 0h0m44.7 0h0m54.7 0h0m94.4 0h0m9.9 0h0m-877.2 4.3h0m5 0h0m39.8 0h0m4.9 0h0m14.9 0h0m14.9 0h0m15 0h0m114.3 0h0m9.9 0h0m24.9 0h0m9.9 0h0m9.9 0h0m10 0h0m19.9 0h0m29.8 0h0m9.9 0h0m14.9 0h0m19.9 0h0m34.8 0h0m59.6 0h0m5 0h0m74.6 0h0m34.7 0h0m34.8 0h0m89.5 0h0m54.7 0h0m24.8 0h0m19.9 0h0m39.8 0h0m54.6 0h0m5 0h0m-837.5 4.3h0m15 0h0m19.8 0h0m74.6 0h0m14.9 0h0m29.8 0h0m74.6 0h0m49.7 0h0m74.5 0h0m54.7 0h0m5 0h0m19.8 0h0m10 0h0m5 0h0m188.8 0h0m14.9 0h0m104.4 0h0m74.5 0h0m-887.1 4.3h0m39.8 0h0m34.7 0h0m99.4 0h0m29.9 0h0m14.9 0h0m29.8 0h0m134.2 0h0m44.7 0h0m10 0h0m14.9 0h0m54.6 0h0m5 0h0m104.4 0h0m9.9 0h0m29.8 0h0m19.9 0h0m59.7 0h0m64.6 0h0m39.7 0h0m19.9 0h0m-862.3 4.3h0m19.9 0h0m9.9 0h0m59.7 0h0m14.9 0h0m9.9 0h0m24.9 0h0m64.6 0h0m9.9 0h0m34.8 0h0m34.8 0h0m84.5 0h0m14.9 0h0m139.2 0h0m74.5 0h0m34.8 0h0m134.2 0h0m114.3 0h0m-892.1 4.3h0m59.6 0h0m5 0h0m5 0h0m79.5 0h0m29.8 0h0m9.9 0h0m24.9 0h0m19.9 0h0m4.9 0h0m94.5 0h0m64.6 0h0m39.7 0h0m5 0h0m10 0h0m49.7 0h0m19.8 0h0m34.8 0h0m10 0h0m59.6 0h0m154.1 0h0m24.8 0h0m-762.9 4.3h0m84.5 0h0m29.8 0h0m10 0h0m104.4 0h0m79.5 0h0m39.7 0h0m24.9 0h0m64.6 0h0m9.9 0h0m5 0h0m9.9 0h0m59.7 0h0m9.9 0h0m14.9 0h0m14.9 0h0m29.9 0h0m19.8 0h0m144.2 0h0m-792.7 4.4h0m19.8 0h0m14.9 0h0m94.5 0h0m24.8 0h0m99.4 0h0m5 0h0m5 0h0m29.8 0h0m44.7 0h0m10 0h0m44.7 0h0m14.9 0h0m169 0h0m9.9 0h0m5 0h0m24.8 0h0m34.8 0h0m34.8 0h0m5 0h0m39.7 0h0m89.5 0h0m39.8 0h0m4.9 0h0m14.9 0h0m5 0h0m-882.2 4.3h0m29.9 0h0m14.9 0h0m54.6 0h0m10 0h0m49.7 0h0m24.8 0h0m24.9 0h0m9.9 0h0m5 0h0m29.8 0h0m24.9 0h0m14.9 0h0m39.7 0h0m19.9 0h0m19.9 0h0m19.9 0h0m24.8 0h0m5 0h0m14.9 0h0m39.8 0h0m89.4 0h0m34.8 0h0m49.7 0h0m24.9 0h0m74.5 0h0m24.9 0h0m54.6 0h0m64.6 0h0m-872.2 4.3h0m24.9 0h0m9.9 0h0m64.6 0h0m24.9 0h0m49.7 0h0m9.9 0h0m59.6 0h0m5 0h0m39.8 0h0m4.9 0h0m5 0h0m79.5 0h0m79.5 0h0m19.9 0h0m29.8 0h0m54.7 0h0m29.8 0h0m5 0h0m59.6 0h0m19.9 0h0m24.9 0h0m19.9 0h0m59.6 0h0m39.8 0h0m4.9 0h0m-822.5 4.3h0m64.6 0h0m39.8 0h0m29.8 0h0m59.6 0h0m5 0h0m44.7 0h0m10 0h0m59.6 0h0m9.9 0h0m34.8 0h0m29.9 0h0m4.9 0h0m104.4 0h0m44.7 0h0m64.6 0h0m24.9 0h0m134.2 0h0m74.5 0h0m24.9 0h0m-887.2 4.3h0m39.8 0h0m59.6 0h0m49.7 0h0m24.9 0h0m9.9 0h0m29.8 0h0m5 0h0m94.4 0h0m19.9 0h0m5 0h0m5 0h0m24.8 0h0m14.9 0h0m5 0h0m19.9 0h0m4.9 0h0m49.7 0h0m39.8 0h0m24.8 0h0m10 0h0m54.7 0h0m9.9 0h0m19.9 0h0m9.9 0h0m5 0h0m54.7 0h0m4.9 0h0m44.8 0h0m19.8 0h0m49.7 0h0m49.7 0h0m24.9 0h0m-887.2 4.3h0m10 0h0m4.9 0h0m19.9 0h0m14.9 0h0m24.9 0h0m5 0h0m4.9 0h0m24.9 0h0m19.9 0h0m84.5 0h0m89.4 0h0m164 0h0m29.8 0h0m129.3 0h0m54.6 0h0m19.9 0h0m5 0h0m24.8 0h0m54.7 0h0m39.8 0h0m49.7 0h0m-812.6 4.3h0m4.9 0h0m14.9 0h0m10 0h0m64.6 0h0m19.9 0h0m99.4 0h0m19.9 0h0m19.8 0h0m94.5 0h0m19.8 0h0m34.8 0h0m39.8 0h0m29.8 0h0m19.9 0h0m64.6 0h0m19.9 0h0m29.8 0h0m79.5 0h0m39.8 0h0m9.9 0h0m-693.3 4.3h0m14.9 0h0m49.7 0h0m19.9 0h0m44.7 0h0m24.9 0h0m29.8 0h0m49.7 0h0m5 0h0m24.8 0h0m10 0h0m4.9 0h0m69.6 0h0m10 0h0m74.5 0h0m29.8 0h0m5 0h0m34.8 0h0m59.6 0h0m129.2 0h0m54.7 0h0m5 0h0m14.9 0h0m-817.6 4.3h0m29.8 0h0m49.7 0h0m89.5 0h0m59.6 0h0m15 0h0m149.1 0h0m74.5 0h0m9.9 0h0m69.6 0h0m49.7 0h0m29.8 0h0m49.7 0h0m5 0h0m5 0h0m9.9 0h0m64.6 0h0m5 0h0m9.9 0h0m5 0h0m14.9 0h0m-852.3 4.3h0m54.6 0h0m10 0h0m89.4 0h0m49.7 0h0m104.4 0h0m54.7 0h0m144.1 0h0m139.2 0h0m24.8 0h0m29.8 0h0m34.8 0h0m24.9 0h0m44.7 0h0m54.7 0h0m5 0h0m-857.4 4.3h0m10 0h0m14.9 0h0m14.9 0h0m69.6 0h0m19.8 0h0m19.9 0h0m14.9 0h0m10 0h0m14.9 0h0m89.4 0h0m144.2 0h0m4.9 0h0m19.9 0h0m64.6 0h0m34.8 0h0m19.9 0h0m119.3 0h0m-593.9 4.3h0m14.9 0h0m44.7 0h0m9.9 0h0m10 0h0m159 0h0m49.7 0h0m10 0h0m19.9 0h0m14.9 0h0m4.9 0h0m5 0h0m44.7 0h0m24.9 0h0m5 0h0m29.8 0h0m34.8 0h0m54.6 0h0m10 0h0m39.7 0h0m10 0h0m9.9 0h0m10 0h0m4.9 0h0m14.9 0h0m14.9 0h0m34.8 0h0m24.9 0h0m39.7 0h0m15 0h0m14.9 0h0m29.8 0h0m-867.3 4.3h0m39.8 0h0m14.9 0h0m44.7 0h0m39.8 0h0m39.7 0h0m14.9 0h0m15 0h0m14.9 0h0m34.8 0h0m49.7 0h0m19.8 0h0m59.7 0h0m9.9 0h0m19.9 0h0m19.9 0h0m64.6 0h0m44.7 0h0m59.7 0h0m44.7 0h0m19.9 0h0m9.9 0h0m29.8 0h0m34.8 0h0m39.8 0h0m-812.6 4.3h0m9.9 0h0m164 0h0m34.8 0h0m19.9 0h0m74.6 0h0m99.4 0h0m19.8 0h0m5 0h0m9.9 0h0m19.9 0h0m14.9 0h0m14.9 0h0m5 0h0m129.2 0h0m64.6 0h0m10 0h0m5 0h0m34.7 0h0m134.2 0h0m10 0h0m4.9 0h0m10 0h0" stroke="#5357ab"/><path d="M146.9 63.2h0m114.3 0h0m253.5 0h0m144.1 0h0m193.8 0h0m-559.1 4.3h0m511.9 0h0m14.9 0h0m-579 4.3h0m10 0h0m-191.4 4.3h0m69.6 0h0m84.5 0h0m427.4 0h0m9.9 0h0m64.7 0h0m34.7 0h0m59.7 0h0m-698.3 4.3h0m134.2 0h0m39.7 0h0m84.5 0h0m338 0h0m14.9 0h0m29.8 0h0m-603.8 4.3h0m447.3 0h0m-514.4 4.3h0m139.1 0h0m5 0h0m99.4 0h0m14.9 0h0m10 0h0m233.5 0h0m109.4 0h0m154.1 0h0m49.7 0h0m-728.1 4.3h0m59.7 0h0m139.2 0h0m472.1 0h0m9.9 0h0m-613.8 4.3h0m-176.4 4.3h0m556.7 0h0m24.8 0h0m253.5 0h0m-598.9 4.3h0m89.4 0h0m144.2 0h0m308.1 0h0m-728.1 4.3h0m24.9 0h0m114.3 0h0m124.2 0h0m69.6 0h0m114.3 0h0m10 0h0m119.2 0h0m94.5 0h0m44.7 0h0m59.6 0h0m-231.1 4.3h0m293.3 0h0m-713.2 4.3h0m243.5 0h0m183.9 0h0m69.6 0h0m-569.1 4.3h0m54.7 0h0m29.8 0h0m99.4 0h0m34.8 0h0m29.8 0h0m34.8 0h0m169 0h0m193.8 0h0m5 0h0m-584 4.3h0m124.2 0h0m54.7 0h0m94.4 0h0m318.1 0h0m114.3 0h0m19.9 0h0m-524.3 4.3h0m164 0h0m99.4 0h0m69.6 0h0m34.8 0h0m44.7 0h0m-733.1 4.3h0m114.3 0h0m89.5 0h0m178.9 0h0m99.4 0h0m39.8 0h0m104.3 0h0m24.9 0h0m14.9 0h0m34.8 0h0m99.4 0h0m-847.4 4.3h0m94.4 0h0m59.7 0h0m154 0h0m14.9 0h0m10 0h0m5 0h0m129.2 0h0m273.3 0h0m-708.2 4.3h0m14.9 0h0m164 0h0m94.5 0h0m29.8 0h0m402.5 0h0m49.7 0h0m-787.7 4.3h0m24.8 0h0m169 0h0m49.7 0h0m64.6 0h0m5 0h0m263.4 0h0m203.8 0h0m64.6 0h0m-827.5 4.3h0m203.8 0h0m89.4 0h0m213.7 0h0m10 0h0m39.7 0h0m124.3 0h0m-648.6 4.3h0m129.2 0h0m24.9 0h0m19.8 0h0m263.5 0h0m19.8 0h0m49.7 0h0m328.1 0h0m-842.5 4.3h0m64.6 0h0m94.5 0h0m14.9 0h0m9.9 0h0m79.6 0h0m49.7 0h0m9.9 0h0m29.8 0h0m59.7 0h0m64.6 0h0m89.4 0h0m218.7 0h0m14.9 0h0m-668.5 4.4h0m54.7 0h0m44.7 0h0m59.7 0h0m337.9 0h0m19.9 0h0m5 0h0m19.9 0h0m9.9 0h0m99.4 0h0m-772.8 4.3h0m119.3 0h0m54.6 0h0m49.7 0h0m39.8 0h0m173.9 0h0m54.7 0h0m94.4 0h0m188.9 0h0m-842.4 4.3h0m173.9 0h0m39.8 0h0m59.6 0h0m69.6 0h0m49.7 0h0m5 0h0m29.8 0h0m9.9 0h0m24.9 0h0m208.7 0h0m24.9 0h0m109.3 0h0m-623.7 4.3h0m29.8 0h0m10 0h0m29.8 0h0m29.8 0h0m49.7 0h0m34.8 0h0m89.4 0h0m119.3 0h0m164 0h0m-613.8 4.3h0m10 0h0m44.7 0h0m69.6 0h0m44.7 0h0m39.8 0h0m49.7 0h0m283.3 0h0m144.1 0h0m-792.7 4.3h0m188.8 0h0m19.9 0h0m24.9 0h0m54.6 0h0m19.9 0h0m59.7 0h0m168.9 0h0m104.4 0h0m5 0h0m169 0h0m-777.8 4.3h0m54.6 0h0m64.6 0h0m124.3 0h0m29.8 0h0m69.6 0h0m34.8 0h0m213.7 0h0m64.6 0h0m-549.2 4.3h0m34.8 0h0m9.9 0h0m24.9 0h0m54.7 0h0m4.9 0h0m134.2 0h0m129.2 0h0m-444.8 4.3h0m74.6 0h0m39.7 0h0m14.9 0h0m44.8 0h0m352.8 0h0m5 0h0m-449.8 4.3h0m5 0h0m24.9 0h0m29.8 0h0m14.9 0h0m69.6 0h0m298.2 0h0m4.9 0h0m5 0h0m14.9 0h0m74.6 0h0m-539.3 4.3h0m59.7 0h0m19.8 0h0m59.7 0h0m213.7 0h0m9.9 0h0m74.6 0h0m19.9 0h0m44.7 0h0m-549.2 4.3h0m198.8 0h0m89.5 0h0m119.2 0h0m154.1 0h0m-628.7 4.3h0m64.6 0h0m89.5 0h0m39.7 0h0m24.9 0h0m49.7 0h0m357.8 0h0m-564.1 4.3h0m89.5 0h0m5 0h0m14.9 0h0m24.8 0h0m24.9 0h0m144.1 0h0m178.9 0h0m14.9 0h0m14.9 0h0m-524.3 4.3h0m5 0h0m4.9 0h0m39.8 0h0m44.7 0h0m34.8 0h0m10 0h0m99.4 0h0m258.4 0h0m109.3 0h0m149.1 0h0m-747.9 4.3h0m333 0h0m89.4 0h0m64.6 0h0m29.8 0h0m159.1 0h0m-683.4 4.3h0m5 0h0m114.3 0h0m49.7 0h0m492 0h0m-757.9 4.3h0m94.4 0h0m104.4 0h0m14.9 0h0m19.9 0h0m233.6 0h0m4.9 0h0m104.4 0h0m44.7 0h0m74.6 0h0m-454.8 4.3h0m19.9 0h0m14.9 0h0m248.5 0h0m5 0h0m-559.1 4.3h0m69.5 0h0m44.8 0h0m84.5 0h0m89.4 0h0m233.6 0h0m34.8 0h0m54.7 0h0m14.9 0h0m5 0h0m9.9 0h0m9.9 0h0m5 0h0m14.9 0h0m-613.8 4.3h0m49.7 0h0m49.7 0h0m14.9 0h0m24.9 0h0m39.7 0h0m188.9 0h0m159 0h0m15 0h0m34.7 0h0m174 0h0m-797.7 4.3h0m169 0h0m74.5 0h0m29.9 0h0m352.8 0h0m233.6 0h0m-867.2 4.3h0m104.3 0h0m178.9 0h0m44.8 0h0m49.7 0h0m14.9 0h0m69.6 0h0m104.3 0h0m5 0h0m9.9 0h0m5 0h0m5 0h0m5 0h0m9.9 0h0m69.6 0h0m64.6 0h0m69.6 0h0m-743.1 4.3h0m109.4 0h0m94.4 0h0m10 0h0m154 0h0m34.8 0h0m208.8 0h0m24.8 0h0m34.8 0h0m5 0h0m4.9 0h0m5 0h0m5 0h0m119.3 0h0m-792.8 4.4h0m10 0h0m64.6 0h0m49.7 0h0m24.8 0h0m29.9 0h0m283.3 0h0m4.9 0h0m24.9 0h0m-449.8 4.3h0m54.7 0h0m79.5 0h0m169 0h0m203.7 0h0m79.6 0h0m29.8 0h0m9.9 0h0m19.9 0h0m84.5 0h0m-772.9 4.3h0m24.9 0h0m159 0h0m10 0h0m19.9 0h0m432.3 0h0m24.9 0h0m-678.4 4.3h0m442.3 0h0m14.9 0h0m213.7 0h0m84.5 0h0m-832.4 4.3h0m29.8 0h0m263.4 0h0m9.9 0h0m24.9 0h0m24.8 0h0m44.8 0h0m-340.5 4.3h0m104.4 0h0m34.8 0h0m39.7 0h0m69.6 0h0m5 0h0m5 0h0m124.2 0h0m203.8 0h0m238.5 0h0m-877.2 4.3h0m114.3 0h0m193.9 0h0m19.8 0h0m69.6 0h0m288.3 0h0m-350.4 4.3h0m19.9 0h0m134.2 0h0m29.8 0h0m139.2 0h0m114.3 0h0m19.8 0h0m-479.6 4.3h0m10 0h0m24.8 0h0m79.5 0h0m129.3 0h0m9.9 0h0m-454.8 4.3h0m64.7 0h0m44.7 0h0m154.1 0h0m69.5 0h0m54.7 0h0m74.6 0h0m159 0h0m19.9 0h0m29.8 0h0m-544.2 4.3h0m99.4 0h0m5 0h0m29.8 0h0m44.7 0h0m69.6 0h0m5 0h0m54.6 0h0m-275.8 4.3h0m14.9 0h0m119.3 0h0m-350.4 4.3h0m124.2 0h0m54.7 0h0m124.3 0h0m4.9 0h0m19.9 0h0m39.8 0h0m4.9 0h0m39.8 0h0m34.8 0h0m134.2 0h0m183.9 0h0m-738.1 4.3h0m164 0h0m5 0h0m139.2 0h0m74.5 0h0m318.1 0h0m49.7 0h0m5 0h0m9.9 0h0m-420 4.3h0m-410 4.3h0m39.8 0h0m253.5 0h0m173.9 0h0m-350.4 4.3h0m114.3 0h0m49.7 0h0m79.5 0h0m119.3 0h0m178.9 0h0m-633.6 4.3h0m14.9 0h0m4.9 0h0m104.4 0h0m29.8 0h0m54.7 0h0m5 0h0m44.7 0h0m263.4 0h0m19.9 0h0m5 0h0m24.8 0h0m-459.7 4.3h0m19.9 0h0m367.8 0h0m4.9 0h0m19.9 0h0m5 0h0m14.9 0h0m49.7 0h0m134.2 0h0m-743 4.3h0m228.6 0h0m89.4 0h0m213.8 0h0m14.9 0h0m9.9 0h0m49.7 0h0m14.9 0h0m5 0h0m94.4 0h0m-584 4.3h0m119.3 0h0m323.1 0h0m29.8 0h0m-504.5 4.3h0m114.3 0h0m59.7 0h0m253.5 0h0m323 0h0m-588.9 4.3h0m24.8 0h0m5 0h0m308.1 0h0m-519.4 4.3h0m24.9 0h0m407.5 0h0m-419.9 4.4h0m14.9 0h0m94.4 0h0m34.8 0h0m24.9 0h0m248.5 0h0m34.7 0h0m49.7 0h0m-593.9 4.3h0m377.8 0h0m49.7 0h0m178.9 0h0m19.9 0h0m-539.3 4.3h0m139.2 0h0m596.4 0h0m-584 4.3h0m44.7 0h0m74.6 0h0m144.1 0h0m178.9 0h0m-593.9 4.3h0m293.2 0h0m94.5 0h0m168.9 0h0m129.3 0h0m54.6 0h0m-787.7 4.3h0m44.7 0h0m114.3 0h0m179 0h0m218.6 0h0m24.9 0h0m64.6 0h0m5 0h0m114.3 0h0m-787.8 4.3h0m357.9 0h0m64.6 0h0m-469.7 4.3h0m99.4 0h0m9.9 0h0m149.2 0h0m29.8 0h0m94.4 0h0m238.6 0h0m-564.1 4.3h0m49.7 0h0m506.9 0h0m193.8 0h0m-718.1 4.3h0m9.9 0h0m472.2 0h0m-216.2 4.3h0m308.1 0h0m44.7 0h0m-618.7 4.3h0m631.2 0h0m49.7 0h0m89.4 0h0m-787.7 4.3h0m64.6 0h0m223.6 0h0m333 0h0m-673.4 4.3h0m24.8 0h0m99.4 0h0m273.4 0h0m14.9 0h0m382.7 0h0m-753 4.3h0m39.8 0h0m218.7 0h0m362.8 0h0m99.4 0h0m-459.7 4.3h0m193.8 0h0m27.3 4.3h0m10 0h0m4.9 0h0m19.9 0h0m208.8 0h0m49.7 0h0m-797.7 4.3h0m64.6 0h0m223.6 0h0m298.2 0h0m5 0h0m-211.2 4.3h0m79.5 0h0m119.3 0h0m213.7 0h0m-703.3 4.3h0m328.1 0h0m19.8 0h0m174 0h0m139.1 0h0m29.9 0h0m24.8 0h0m-733.1 4.3h0m313.1 0h0m164.1 0h0m293.2 0h0m-484.6 4.3h0m94.4 0h0m258.5 0h0m-539.3 4.3h0m79.6 0h0m44.7 0h0m139.1 0h0m169 0h0m39.8 0h0m24.8 0h0m-504.4 4.3h0m5 0h0m407.5 0h0m129.2 0h0m19.9 0h0m-718.2 4.4h0m19.9 0h0m223.7 0h0m134.1 0h0m5 0h0m49.7 0h0m387.7 0h0m-559.1 4.3h0m34.7 0h0m-86.9 4.3h0m203.7 0h0m323.1 0h0m-757.9 4.3h0m825 0h0m-534.3 4.3h0m328 0h0m-390.1 4.3h0m59.6 0h0m49.7 0h0m39.8 0h0m129.2 0h0m39.8 0h0m-579 4.3h0m183.8 0h0m188.9 0h0m263.4 0h0m-613.8 4.3h0m124.3 0h0m39.7 0h0m64.6 0h0m308.2 0h0m139.1 0h0m29.9 0h0m89.4 0h0m-787.7 4.3h0m19.9 0h0m124.2 0h0m64.6 0h0m139.2 0h0m19.9 0h0m288.2 0h0m99.4 0h0m-623.7 4.3h0m228.6 0h0m19.9 0h0m417.5 0h0m-817.6 4.3h0m54.7 0h0m546.7 0h0m19.8 0h0m29.9 0h0m-350.4 4.3h0m442.3 0h0m-564.1 4.3h0m84.5 0h0m5 0h0m169 0h0m79.5 0h0m313.1 0h0m44.7 0h0m-857.3 4.3h0m69.6 0h0m208.7 0h0m54.7 0h0" stroke="#535dae"/><path d="M201.6 63.2h0m49.7 0h0m34.7 0h0m5 0h0m29.8 0h0m24.9 0h0m29.8 0h0m5 0h0m39.7 0h0m34.8 0h0m34.8 0h0m10 0h0m49.7 0h0m14.9 0h0m74.5 0h0m109.4 0h0m84.4 0h0m10 0h0m5 0h0m49.7 0h0m59.6 0h0m-907 4.3h0m9.9 0h0m39.8 0h0m9.9 0h0m79.5 0h0m5 0h0m84.5 0h0m5 0h0m19.8 0h0m15 0h0m233.5 0h0m124.3 0h0m29.8 0h0m34.8 0h0m89.5 0h0m14.9 0h0m44.7 0h0m5 0h0m9.9 0h0m19.9 0h0m-832.5 4.3h0m39.8 0h0m29.8 0h0m5 0h0m9.9 0h0m19.9 0h0m59.6 0h0m5 0h0m5 0h0m39.7 0h0m5 0h0m24.8 0h0m24.9 0h0m5 0h0m34.8 0h0m4.9 0h0m79.5 0h0m84.5 0h0m10 0h0m59.6 0h0m34.8 0h0m29.8 0h0m19.9 0h0m44.7 0h0m24.9 0h0m9.9 0h0m74.6 0h0m-827.5 4.3h0m4.9 0h0m14.9 0h0m5 0h0m10 0h0m9.9 0h0m39.8 0h0m24.8 0h0m19.9 0h0m9.9 0h0m79.6 0h0m4.9 0h0m5 0h0m5 0h0m4.9 0h0m64.6 0h0m10 0h0m34.8 0h0m134.2 0h0m44.7 0h0m19.9 0h0m24.8 0h0m44.8 0h0m168.9 0h0m49.7 0h0m-767.8 4.3h0m44.7 0h0m109.3 0h0m74.6 0h0m99.4 0h0m5 0h0m69.5 0h0m10 0h0m4.9 0h0m94.5 0h0m4.9 0h0m39.8 0h0m14.9 0h0m44.7 0h0m29.9 0h0m99.4 0h0m-802.7 4.3h0m203.8 0h0m5 0h0m9.9 0h0m5 0h0m4.9 0h0m39.8 0h0m9.9 0h0m5 0h0m34.8 0h0m44.7 0h0m39.8 0h0m54.7 0h0m44.7 0h0m5 0h0m79.5 0h0m44.7 0h0m24.9 0h0m19.8 0h0m5 0h0m39.8 0h0m69.5 0h0m5 0h0m29.8 0h0m5 0h0m-777.8 4.3h0m129.2 0h0m24.9 0h0m4.9 0h0m129.3 0h0m69.5 0h0m10 0h0m24.8 0h0m29.8 0h0m5 0h0m54.7 0h0m109.3 0h0m10 0h0m19.8 0h0m10 0h0m29.8 0h0m5 0h0m4.9 0h0m59.7 0h0m9.9 0h0m10 0h0m29.8 0h0m39.7 0h0m15 0h0m-897.1 4.3h0m79.5 0h0m44.7 0h0m10 0h0m34.7 0h0m5 0h0m114.3 0h0m34.8 0h0m14.9 0h0m5 0h0m14.9 0h0m64.6 0h0m5 0h0m59.6 0h0m104.4 0h0m149.1 0h0m34.8 0h0m9.9 0h0m114.3 0h0m-857.3 4.3h0m14.9 0h0m39.8 0h0m79.5 0h0m5 0h0m19.9 0h0m34.7 0h0m34.8 0h0m124.3 0h0m29.8 0h0m24.9 0h0m24.8 0h0m49.7 0h0m29.8 0h0m5 0h0m19.9 0h0m14.9 0h0m5 0h0m9.9 0h0m14.9 0h0m5 0h0m14.9 0h0m54.7 0h0m24.8 0h0m74.6 0h0m109.3 0h0m-872.2 4.3h0m49.7 0h0m34.7 0h0m34.8 0h0m24.9 0h0m94.4 0h0m49.7 0h0m19.9 0h0m5 0h0m34.8 0h0m9.9 0h0m24.9 0h0m44.7 0h0m9.9 0h0m49.7 0h0m10 0h0m9.9 0h0m29.8 0h0m39.8 0h0m29.8 0h0m39.8 0h0m39.7 0h0m44.8 0h0m39.7 0h0m44.7 0h0m-827.5 4.3h0m5 0h0m9.9 0h0m24.9 0h0m34.8 0h0m5 0h0m9.9 0h0m14.9 0h0m5 0h0m4.9 0h0m10 0h0m24.8 0h0m5 0h0m99.4 0h0m19.9 0h0m9.9 0h0m14.9 0h0m5 0h0m5 0h0m49.7 0h0m24.8 0h0m14.9 0h0m44.8 0h0m19.8 0h0m69.6 0h0m14.9 0h0m39.8 0h0m5 0h0m4.9 0h0m10 0h0m69.6 0h0m29.8 0h0m9.9 0h0m5 0h0m34.8 0h0m109.3 0h0m-837.4 4.3h0m14.9 0h0m14.9 0h0m9.9 0h0m29.8 0h0m29.9 0h0m14.9 0h0m9.9 0h0m5 0h0m9.9 0h0m79.6 0h0m59.6 0h0m59.6 0h0m94.5 0h0m4.9 0h0m39.8 0h0m14.9 0h0m119.3 0h0m44.7 0h0m5 0h0m129.2 0h0m34.8 0h0m19.9 0h0m9.9 0h0m-907 4.3h0m39.7 0h0m19.9 0h0m19.9 0h0m69.6 0h0m14.9 0h0m19.9 0h0m84.5 0h0m39.7 0h0m59.7 0h0m9.9 0h0m5 0h0m54.6 0h0m94.5 0h0m39.7 0h0m14.9 0h0m49.7 0h0m34.8 0h0m39.8 0h0m54.7 0h0m14.9 0h0m24.8 0h0m39.8 0h0m-827.5 4.3h0m39.7 0h0m5 0h0m29.8 0h0m5 0h0m178.9 0h0m10 0h0m24.8 0h0m39.8 0h0m4.9 0h0m54.7 0h0m14.9 0h0m10 0h0m19.8 0h0m10 0h0m64.6 0h0m39.8 0h0m39.7 0h0m14.9 0h0m19.9 0h0m54.7 0h0m64.6 0h0m84.5 0h0m9.9 0h0m5 0h0m-832.5 4.3h0m39.8 0h0m84.5 0h0m124.2 0h0m59.6 0h0m44.8 0h0m44.7 0h0m5 0h0m9.9 0h0m99.4 0h0m34.8 0h0m5 0h0m59.6 0h0m29.8 0h0m19.9 0h0m10 0h0m54.6 0h0m34.8 0h0m10 0h0m4.9 0h0m24.9 0h0m24.8 0h0m29.8 0h0m19.9 0h0m5 0h0m-902.1 4.3h0m54.7 0h0m24.9 0h0m4.9 0h0m24.9 0h0m54.6 0h0m94.5 0h0m5 0h0m44.7 0h0m34.8 0h0m19.9 0h0m9.9 0h0m29.8 0h0m10 0h0m74.5 0h0m9.9 0h0m19.9 0h0m154.1 0h0m64.6 0h0m34.8 0h0m14.9 0h0m14.9 0h0m14.9 0h0m29.8 0h0m-817.5 4.3h0m4.9 0h0m119.3 0h0m14.9 0h0m14.9 0h0m49.7 0h0m29.9 0h0m9.9 0h0m14.9 0h0m49.7 0h0m49.7 0h0m39.8 0h0m64.6 0h0m9.9 0h0m29.8 0h0m49.7 0h0m10 0h0m44.7 0h0m19.9 0h0m24.8 0h0m49.7 0h0m10 0h0m39.7 0h0m5 0h0m14.9 0h0m5 0h0m49.7 0h0m19.9 0h0m4.9 0h0m-812.6 4.3h0m10 0h0m5 0h0m64.6 0h0m64.6 0h0m54.7 0h0m79.5 0h0m24.8 0h0m129.2 0h0m49.7 0h0m39.8 0h0m19.9 0h0m24.8 0h0m10 0h0m134.2 0h0m44.7 0h0m79.5 0h0m-902 4.3h0m24.8 0h0m24.9 0h0m34.7 0h0m10 0h0m54.7 0h0m59.6 0h0m14.9 0h0m5 0h0m4.9 0h0m29.9 0h0m14.9 0h0m4.9 0h0m5 0h0m19.9 0h0m44.7 0h0m19.9 0h0m99.4 0h0m14.9 0h0m10 0h0m39.7 0h0m44.7 0h0m114.4 0h0m9.9 0h0m19.9 0h0m34.8 0h0m4.9 0h0m64.6 0h0m39.8 0h0m-867.3 4.3h0m19.9 0h0m5 0h0m19.9 0h0m64.6 0h0m39.7 0h0m49.7 0h0m69.6 0h0m5 0h0m9.9 0h0m5 0h0m19.9 0h0m49.7 0h0m39.7 0h0m10 0h0m9.9 0h0m19.9 0h0m19.9 0h0m5 0h0m69.5 0h0m14.9 0h0m84.5 0h0m14.9 0h0m5 0h0m99.4 0h0m24.9 0h0m34.8 0h0m49.7 0h0m24.8 0h0m-787.7 4.3h0m19.8 0h0m19.9 0h0m5 0h0m19.9 0h0m14.9 0h0m34.8 0h0m4.9 0h0m5 0h0m54.7 0h0m9.9 0h0m10 0h0m99.4 0h0m4.9 0h0m14.9 0h0m24.9 0h0m54.7 0h0m4.9 0h0m19.9 0h0m5 0h0m9.9 0h0m59.7 0h0m94.4 0h0m14.9 0h0m39.8 0h0m9.9 0h0m64.6 0h0m79.5 0h0m-882.1 4.3h0m34.8 0h0m19.9 0h0m10 0h0m94.4 0h0m5 0h0m24.8 0h0m10 0h0m4.9 0h0m94.5 0h0m9.9 0h0m5 0h0m4.9 0h0m19.9 0h0m5 0h0m149.1 0h0m19.9 0h0m9.9 0h0m49.7 0h0m34.8 0h0m9.9 0h0m24.9 0h0m104.4 0h0m49.7 0h0m39.7 0h0m54.7 0h0m-822.6 4.3h0m5 0h0m59.7 0h0m59.6 0h0m54.7 0h0m29.8 0h0m9.9 0h0m5 0h0m19.9 0h0m9.9 0h0m10 0h0m24.8 0h0m39.8 0h0m54.6 0h0m14.9 0h0m19.9 0h0m19.9 0h0m14.9 0h0m5 0h0m114.3 0h0m64.6 0h0m5 0h0m4.9 0h0m5 0h0m39.8 0h0m14.9 0h0m44.7 0h0m-822.5 4.3h0m139.1 0h0m5 0h0m5 0h0m14.9 0h0m84.5 0h0m19.9 0h0m24.8 0h0m24.9 0h0m4.9 0h0m10 0h0m79.5 0h0m34.8 0h0m54.7 0h0m19.8 0h0m44.8 0h0m49.7 0h0m19.8 0h0m69.6 0h0m34.8 0h0m34.8 0h0m5 0h0m64.6 0h0m-827.5 4.4h0m4.9 0h0m34.8 0h0m34.8 0h0m10 0h0m4.9 0h0m19.9 0h0m5 0h0m14.9 0h0m5 0h0m4.9 0h0m5 0h0m29.8 0h0m5 0h0m5 0h0m19.8 0h0m64.7 0h0m4.9 0h0m5 0h0m59.6 0h0m24.9 0h0m39.7 0h0m10 0h0m74.5 0h0m14.9 0h0m59.7 0h0m79.5 0h0m59.6 0h0m10 0h0m34.8 0h0m-767.9 4.3h0m89.5 0h0m69.5 0h0m5 0h0m19.9 0h0m19.9 0h0m59.6 0h0m10 0h0m9.9 0h0m19.9 0h0m19.9 0h0m19.8 0h0m10 0h0m44.7 0h0m14.9 0h0m5 0h0m54.7 0h0m49.7 0h0m64.6 0h0m29.8 0h0m9.9 0h0m19.9 0h0m144.1 0h0m5 0h0m24.9 0h0m24.8 0h0m5 0h0m-842.4 4.3h0m9.9 0h0m14.9 0h0m74.6 0h0m44.7 0h0m5 0h0m29.8 0h0m9.9 0h0m24.9 0h0m9.9 0h0m119.3 0h0m5 0h0m9.9 0h0m39.8 0h0m84.5 0h0m14.9 0h0m94.4 0h0m19.9 0h0m14.9 0h0m14.9 0h0m178.9 0h0m24.9 0h0m9.9 0h0m-857.3 4.3h0m19.9 0h0m64.6 0h0m24.8 0h0m19.9 0h0m5 0h0m14.9 0h0m4.9 0h0m19.9 0h0m10 0h0m34.8 0h0m49.7 0h0m29.8 0h0m29.8 0h0m5 0h0m4.9 0h0m19.9 0h0m5 0h0m9.9 0h0m19.9 0h0m10 0h0m59.6 0h0m19.9 0h0m24.8 0h0m34.8 0h0m39.8 0h0m24.8 0h0m109.4 0h0m14.9 0h0m9.9 0h0m19.9 0h0m14.9 0h0m24.9 0h0m4.9 0h0m19.9 0h0m69.6 0h0m-912 4.3h0m79.5 0h0m19.9 0h0m19.9 0h0m34.8 0h0m89.4 0h0m44.7 0h0m10 0h0m14.9 0h0m24.8 0h0m15 0h0m34.7 0h0m5 0h0m49.7 0h0m14.9 0h0m19.9 0h0m34.8 0h0m29.8 0h0m10 0h0m9.9 0h0m39.8 0h0m4.9 0h0m14.9 0h0m10 0h0m49.7 0h0m34.8 0h0m4.9 0h0m14.9 0h0m29.9 0h0m24.8 0h0m89.5 0h0m14.9 0h0m5 0h0m-753 4.3h0m39.8 0h0m29.8 0h0m5 0h0m119.2 0h0m69.6 0h0m14.9 0h0m109.4 0h0m14.9 0h0m44.7 0h0m9.9 0h0m29.9 0h0m49.7 0h0m29.8 0h0m44.7 0h0m29.8 0h0m34.8 0h0m5 0h0m39.8 0h0m24.8 0h0m-892.1 4.3h0m5 0h0m44.7 0h0m19.9 0h0m9.9 0h0m14.9 0h0m19.9 0h0m9.9 0h0m5 0h0m19.9 0h0m29.8 0h0m29.8 0h0m54.7 0h0m59.6 0h0m14.9 0h0m5 0h0m5 0h0m5 0h0m4.9 0h0m59.7 0h0m109.3 0h0m34.8 0h0m9.9 0h0m24.9 0h0m44.7 0h0m10 0h0m69.5 0h0m5 0h0m34.8 0h0m19.9 0h0m29.8 0h0m94.4 0h0m-877.2 4.3h0m14.9 0h0m10 0h0m4.9 0h0m94.5 0h0m19.8 0h0m15 0h0m29.8 0h0m29.8 0h0m34.8 0h0m14.9 0h0m5 0h0m9.9 0h0m5 0h0m64.6 0h0m29.8 0h0m99.4 0h0m104.4 0h0m54.7 0h0m9.9 0h0m24.8 0h0m15 0h0m74.5 0h0m24.9 0h0m39.7 0h0m5 0h0m5 0h0m9.9 0h0m-857.3 4.3h0m14.9 0h0m59.6 0h0m29.8 0h0m14.9 0h0m15 0h0m24.8 0h0m24.9 0h0m9.9 0h0m14.9 0h0m29.8 0h0m94.5 0h0m19.8 0h0m14.9 0h0m5 0h0m74.6 0h0m49.7 0h0m44.7 0h0m29.8 0h0m10 0h0m89.4 0h0m24.9 0h0m29.8 0h0m109.3 0h0m10 0h0m24.8 0h0m-887.1 4.3h0m208.7 0h0m5 0h0m9.9 0h0m10 0h0m9.9 0h0m44.7 0h0m5 0h0m24.9 0h0m4.9 0h0m14.9 0h0m5 0h0m64.6 0h0m34.8 0h0m29.8 0h0m74.6 0h0m14.9 0h0m44.7 0h0m104.4 0h0m9.9 0h0m24.9 0h0m9.9 0h0m10 0h0m49.7 0h0m49.7 0h0m-862.3 4.3h0m39.7 0h0m29.8 0h0m10 0h0m74.5 0h0m14.9 0h0m24.9 0h0m19.9 0h0m9.9 0h0m19.9 0h0m74.5 0h0m29.9 0h0m4.9 0h0m34.8 0h0m5 0h0m193.8 0h0m24.9 0h0m39.7 0h0m10 0h0m4.9 0h0m5 0h0m5 0h0m9.9 0h0m34.8 0h0m29.8 0h0m64.6 0h0m14.9 0h0m59.7 0h0m-807.6 4.3h0m34.7 0h0m19.9 0h0m10 0h0m9.9 0h0m9.9 0h0m24.9 0h0m14.9 0h0m10 0h0m14.9 0h0m54.6 0h0m10 0h0m9.9 0h0m10 0h0m39.7 0h0m5 0h0m84.5 0h0m34.8 0h0m14.9 0h0m9.9 0h0m10 0h0m104.3 0h0m139.2 0h0m5 0h0m9.9 0h0m24.8 0h0m79.6 0h0m-713.2 4.3h0m34.8 0h0m24.8 0h0m79.5 0h0m5 0h0m5 0h0m159 0h0m49.7 0h0m24.9 0h0m54.6 0h0m5 0h0m64.6 0h0m9.9 0h0m24.9 0h0m14.9 0h0m29.8 0h0m5 0h0m9.9 0h0m10 0h0m14.9 0h0m-772.9 4.3h0m49.7 0h0m15 0h0m4.9 0h0m64.6 0h0m10 0h0m9.9 0h0m19.9 0h0m9.9 0h0m10 0h0m79.5 0h0m9.9 0h0m10 0h0m54.7 0h0m14.9 0h0m69.5 0h0m5 0h0m29.8 0h0m5 0h0m99.4 0h0m24.9 0h0m99.4 0h0m24.8 0h0m44.7 0h0m79.6 0h0m34.7 0h0m-787.7 4.3h0m74.5 0h0m10 0h0m14.9 0h0m5 0h0m84.5 0h0m4.9 0h0m14.9 0h0m24.9 0h0m5 0h0m24.8 0h0m14.9 0h0m19.9 0h0m29.8 0h0m54.7 0h0m14.9 0h0m94.4 0h0m5 0h0m24.8 0h0m104.4 0h0m10 0h0m39.7 0h0m34.8 0h0m19.9 0h0m19.9 0h0m-857.4 4.3h0m5 0h0m9.9 0h0m89.5 0h0m29.8 0h0m39.8 0h0m9.9 0h0m19.9 0h0m34.8 0h0m19.9 0h0m9.9 0h0m59.7 0h0m14.9 0h0m14.9 0h0m5 0h0m9.9 0h0m64.6 0h0m19.9 0h0m34.8 0h0m79.5 0h0m9.9 0h0m74.6 0h0m29.8 0h0m5 0h0m9.9 0h0m10 0h0m14.9 0h0m14.9 0h0m44.7 0h0m24.9 0h0m9.9 0h0m64.6 0h0m9.9 0h0m-872.2 4.3h0m39.8 0h0m14.9 0h0m34.8 0h0m39.7 0h0m24.9 0h0m34.8 0h0m39.7 0h0m10 0h0m34.8 0h0m24.8 0h0m69.6 0h0m39.7 0h0m5 0h0m24.9 0h0m19.8 0h0m34.8 0h0m114.3 0h0m15 0h0m29.8 0h0m99.4 0h0m14.9 0h0m5 0h0m9.9 0h0m24.8 0h0m10 0h0m9.9 0h0m39.8 0h0m14.9 0h0m-867.3 4.3h0m14.9 0h0m19.9 0h0m24.9 0h0m14.9 0h0m104.4 0h0m4.9 0h0m10 0h0m19.8 0h0m5 0h0m14.9 0h0m104.4 0h0m49.7 0h0m44.7 0h0m44.8 0h0m29.8 0h0m9.9 0h0m19.9 0h0m84.5 0h0m14.9 0h0m9.9 0h0m29.9 0h0m19.8 0h0m164 0h0m-852.3 4.3h0m5 0h0m79.5 0h0m34.8 0h0m19.8 0h0m5 0h0m5 0h0m34.8 0h0m4.9 0h0m24.9 0h0m54.7 0h0m9.9 0h0m59.6 0h0m59.7 0h0m14.9 0h0m34.8 0h0m5 0h0m44.7 0h0m39.7 0h0m29.9 0h0m4.9 0h0m10 0h0m9.9 0h0m10 0h0m14.9 0h0m69.5 0h0m59.7 0h0m59.6 0h0m-812.6 4.3h0m44.8 0h0m19.8 0h0m5 0h0m9.9 0h0m24.9 0h0m9.9 0h0m5 0h0m29.8 0h0m14.9 0h0m89.5 0h0m104.4 0h0m59.6 0h0m34.8 0h0m34.8 0h0m39.8 0h0m188.8 0h0m59.7 0h0m44.7 0h0m49.7 0h0m-907 4.3h0m29.8 0h0m159 0h0m64.6 0h0m54.7 0h0m9.9 0h0m14.9 0h0m5 0h0m39.8 0h0m39.7 0h0m19.9 0h0m69.6 0h0m59.6 0h0m139.2 0h0m5 0h0m4.9 0h0m14.9 0h0m79.6 0h0m54.6 0h0m-862.3 4.3h0m54.7 0h0m34.8 0h0m39.8 0h0m69.5 0h0m5 0h0m14.9 0h0m44.8 0h0m29.8 0h0m9.9 0h0m5 0h0m5 0h0m168.9 0h0m263.4 0h0m44.8 0h0m24.8 0h0m10 0h0m4.9 0h0m24.9 0h0m-847.4 4.3h0m14.9 0h0m49.7 0h0m5 0h0m64.6 0h0m39.7 0h0m19.9 0h0m10 0h0m34.8 0h0m84.4 0h0m84.5 0h0m109.4 0h0m4.9 0h0m10 0h0m5 0h0m99.4 0h0m44.7 0h0m54.7 0h0m109.3 0h0m-852.4 4.3h0m188.9 0h0m24.9 0h0m4.9 0h0m29.8 0h0m10 0h0m49.7 0h0m5 0h0m29.8 0h0m4.9 0h0m64.7 0h0m89.4 0h0m164 0h0m129.2 0h0m69.6 0h0m-857.3 4.4h0m5 0h0m19.8 0h0m5 0h0m84.5 0h0m24.9 0h0m34.7 0h0m19.9 0h0m10 0h0m44.7 0h0m9.9 0h0m19.9 0h0m24.9 0h0m14.9 0h0m9.9 0h0m10 0h0m44.7 0h0m69.6 0h0m9.9 0h0m64.6 0h0m44.7 0h0m24.9 0h0m5 0h0m4.9 0h0m29.9 0h0m39.7 0h0m5 0h0m5 0h0m24.8 0h0m79.5 0h0m-802.6 4.3h0m4.9 0h0m44.8 0h0m44.7 0h0m5 0h0m44.7 0h0m24.8 0h0m149.2 0h0m74.5 0h0m64.6 0h0m10 0h0m34.7 0h0m15 0h0m29.8 0h0m64.6 0h0m19.9 0h0m9.9 0h0m24.9 0h0m24.8 0h0m9.9 0h0m34.8 0h0m5 0h0m-713.2 4.3h0m19.9 0h0m14.9 0h0m5 0h0m79.5 0h0m9.9 0h0m5 0h0m9.9 0h0m24.9 0h0m99.4 0h0m9.9 0h0m44.8 0h0m19.8 0h0m54.7 0h0m14.9 0h0m54.7 0h0m14.9 0h0m64.6 0h0m29.8 0h0m29.8 0h0m15 0h0m4.9 0h0m44.8 0h0m9.9 0h0m44.7 0h0m29.8 0h0m64.7 0h0m34.7 0h0m-842.4 4.3h0m24.9 0h0m44.7 0h0m39.8 0h0m59.6 0h0m24.9 0h0m14.9 0h0m4.9 0h0m15 0h0m29.8 0h0m24.8 0h0m10 0h0m69.5 0h0m74.6 0h0m24.8 0h0m24.9 0h0m34.8 0h0m39.7 0h0m19.9 0h0m19.9 0h0m79.5 0h0m5 0h0m5 0h0m29.8 0h0m84.5 0h0m9.9 0h0m-797.7 4.3h0m19.9 0h0m14.9 0h0m24.9 0h0m19.8 0h0m39.8 0h0m24.9 0h0m29.8 0h0m19.9 0h0m49.7 0h0m14.9 0h0m49.7 0h0m79.5 0h0m29.8 0h0m89.5 0h0m24.8 0h0m19.9 0h0m9.9 0h0m39.8 0h0m14.9 0h0m19.9 0h0m5 0h0m9.9 0h0m29.8 0h0m34.8 0h0m14.9 0h0m49.7 0h0m64.6 0h0m-902 4.3h0m124.2 0h0m79.5 0h0m44.8 0h0m14.9 0h0m69.6 0h0m9.9 0h0m5 0h0m19.9 0h0m49.7 0h0m39.7 0h0m10 0h0m4.9 0h0m5 0h0m9.9 0h0m24.9 0h0m39.7 0h0m5 0h0m5 0h0m39.7 0h0m15 0h0m24.8 0h0m9.9 0h0m5 0h0m19.9 0h0m19.9 0h0m34.8 0h0m74.5 0h0m24.9 0h0m4.9 0h0m64.6 0h0m-882.1 4.3h0m49.7 0h0m19.8 0h0m10 0h0m124.2 0h0m44.8 0h0m14.9 0h0m24.8 0h0m49.7 0h0m5 0h0m34.8 0h0m59.6 0h0m34.8 0h0m54.7 0h0m44.7 0h0m44.7 0h0m15 0h0m4.9 0h0m14.9 0h0m39.8 0h0m49.7 0h0m19.9 0h0m74.5 0h0m49.7 0h0m-897.1 4.3h0m64.6 0h0m5 0h0m49.7 0h0m64.6 0h0m19.9 0h0m5 0h0m14.9 0h0m39.8 0h0m4.9 0h0m29.8 0h0m49.7 0h0m24.9 0h0m24.8 0h0m69.6 0h0m19.9 0h0m9.9 0h0m64.7 0h0m49.7 0h0m4.9 0h0m64.6 0h0m39.8 0h0m5 0h0m94.4 0h0m14.9 0h0m34.8 0h0m29.8 0h0m-882.2 4.3h0m19.9 0h0m14.9 0h0m14.9 0h0m44.8 0h0m9.9 0h0m14.9 0h0m14.9 0h0m29.8 0h0m5 0h0m29.8 0h0m10 0h0m39.7 0h0m10 0h0m89.4 0h0m188.9 0h0m79.5 0h0m59.7 0h0m19.8 0h0m5 0h0m19.9 0h0m119.3 0h0m29.8 0h0m-837.5 4.3h0m69.6 0h0m5 0h0m14.9 0h0m49.7 0h0m94.4 0h0m29.9 0h0m4.9 0h0m10 0h0m4.9 0h0m24.9 0h0m69.6 0h0m79.5 0h0m19.9 0h0m24.8 0h0m34.8 0h0m34.8 0h0m34.8 0h0m208.7 0h0m14.9 0h0m10 0h0m-847.4 4.3h0m39.7 0h0m24.9 0h0m14.9 0h0m149.1 0h0m54.7 0h0m104.3 0h0m10 0h0m5 0h0m4.9 0h0m203.8 0h0m59.6 0h0m29.9 0h0m9.9 0h0m24.8 0h0m124.3 0h0m-887.1 4.3h0m39.8 0h0m9.9 0h0m149.2 0h0m9.9 0h0m34.8 0h0m24.8 0h0m39.8 0h0m29.8 0h0m14.9 0h0m19.9 0h0m5 0h0m9.9 0h0m24.9 0h0m84.5 0h0m54.6 0h0m29.8 0h0m29.9 0h0m14.9 0h0m39.7 0h0m44.8 0h0m74.5 0h0m29.8 0h0m64.6 0h0m-887.1 4.3h0m19.9 0h0m19.9 0h0m99.4 0h0m24.8 0h0m39.8 0h0m19.8 0h0m19.9 0h0m34.8 0h0m243.5 0h0m15 0h0m109.3 0h0m5 0h0m139.1 0h0m29.8 0h0m15 0h0m49.7 0h0m9.9 0h0m-887.1 4.3h0m54.7 0h0m19.9 0h0m114.3 0h0m10 0h0m9.9 0h0m9.9 0h0m24.9 0h0m29.8 0h0m49.7 0h0m5 0h0m4.9 0h0m15 0h0m19.8 0h0m124.3 0h0m59.6 0h0m34.8 0h0m24.9 0h0m19.8 0h0m64.7 0h0m39.7 0h0m5 0h0m34.8 0h0m-713.2 4.3h0m4.9 0h0m15 0h0m19.8 0h0m5 0h0m99.4 0h0m5 0h0m39.7 0h0m104.4 0h0m54.7 0h0m24.8 0h0m10 0h0m64.6 0h0m14.9 0h0m34.8 0h0m129.2 0h0m64.6 0h0m9.9 0h0m10 0h0m9.9 0h0m5 0h0m49.7 0h0m19.9 0h0m-738.1 4.3h0m5 0h0m29.8 0h0m59.7 0h0m34.8 0h0m9.9 0h0m24.8 0h0m119.3 0h0m5 0h0m5 0h0m4.9 0h0m5 0h0m29.8 0h0m5 0h0m59.6 0h0m14.9 0h0m15 0h0m4.9 0h0m5 0h0m29.8 0h0m14.9 0h0m44.8 0h0m39.7 0h0m64.6 0h0m10 0h0m44.7 0h0m14.9 0h0m5 0h0m34.8 0h0m-862.3 4.3h0m24.8 0h0m44.7 0h0m44.8 0h0m19.9 0h0m44.7 0h0m54.7 0h0m24.8 0h0m139.2 0h0m29.8 0h0m14.9 0h0m29.8 0h0m5 0h0m34.8 0h0m44.7 0h0m14.9 0h0m84.5 0h0m24.9 0h0m69.5 0h0m29.9 0h0m24.8 0h0m49.7 0h0m19.9 0h0m-748 4.3h0m14.9 0h0m39.8 0h0m44.7 0h0m54.7 0h0m34.8 0h0m49.7 0h0m24.8 0h0m5 0h0m84.5 0h0m19.9 0h0m69.5 0h0m14.9 0h0m5 0h0m34.8 0h0m24.9 0h0m129.2 0h0m69.6 0h0m34.7 0h0m-822.5 4.3h0m5 0h0m9.9 0h0m5 0h0m39.7 0h0m39.8 0h0m59.6 0h0m10 0h0m134.2 0h0m9.9 0h0m149.1 0h0m19.9 0h0m74.5 0h0m15 0h0m24.8 0h0m34.8 0h0m29.8 0h0m119.3 0h0m29.8 0h0m-877.2 4.3h0m9.9 0h0m19.9 0h0m14.9 0h0m44.8 0h0m14.9 0h0m24.8 0h0m14.9 0h0m114.4 0h0m34.7 0h0m64.7 0h0m39.7 0h0m5 0h0m24.8 0h0m19.9 0h0m19.9 0h0m9.9 0h0m10 0h0m9.9 0h0m5 0h0m24.8 0h0m24.9 0h0m14.9 0h0m74.5 0h0m24.9 0h0m19.9 0h0m4.9 0h0m10 0h0m19.9 0h0m139.1 0h0m29.8 0h0m-902 4.3h0m9.9 0h0m5 0h0m49.7 0h0m19.9 0h0m4.9 0h0m5 0h0m5 0h0m154.1 0h0m24.8 0h0m24.9 0h0m24.8 0h0m29.8 0h0m49.7 0h0m174 0h0m49.7 0h0m79.5 0h0m-703.3 4.3h0m10 0h0m9.9 0h0m29.8 0h0m5 0h0m24.9 0h0m49.7 0h0m24.8 0h0m14.9 0h0m5 0h0m99.4 0h0m69.6 0h0m4.9 0h0m39.8 0h0m5 0h0m4.9 0h0m5 0h0m74.6 0h0m4.9 0h0m14.9 0h0m39.8 0h0m5 0h0m14.9 0h0m19.9 0h0m19.8 0h0m19.9 0h0m5 0h0m34.8 0h0m34.8 0h0m39.7 0h0m59.7 0h0m39.7 0h0m10 0h0m39.7 0h0m-827.5 4.3h0m89.5 0h0m89.4 0h0m24.9 0h0m9.9 0h0m84.5 0h0m19.9 0h0m34.8 0h0m24.8 0h0m15 0h0m39.7 0h0m69.6 0h0m124.2 0h0m39.8 0h0m14.9 0h0m5 0h0m39.7 0h0m-777.8 4.3h0m34.8 0h0m10 0h0m34.8 0h0m94.4 0h0m99.4 0h0m5 0h0m64.6 0h0m124.2 0h0m44.8 0h0m129.2 0h0m34.8 0h0m19.8 0h0m24.9 0h0m24.8 0h0m19.9 0h0m5 0h0m44.7 0h0m64.6 0h0m5 0h0m9.9 0h0m-867.2 4.4h0m14.9 0h0m119.3 0h0m29.8 0h0m39.7 0h0m174 0h0m14.9 0h0m119.3 0h0m54.7 0h0m64.6 0h0m9.9 0h0m29.8 0h0m14.9 0h0m34.8 0h0m24.9 0h0m9.9 0h0m39.8 0h0m39.7 0h0m39.8 0h0m-872.2 4.3h0m84.4 0h0m39.8 0h0m5 0h0m9.9 0h0m39.8 0h0m54.7 0h0m29.8 0h0m4.9 0h0m5 0h0m24.9 0h0m34.8 0h0m4.9 0h0m24.9 0h0m54.6 0h0m39.8 0h0m44.7 0h0m10 0h0m149.1 0h0m129.2 0h0m24.8 0h0m-827.5 4.3h0m34.8 0h0m39.8 0h0m9.9 0h0m29.8 0h0m15 0h0m59.6 0h0m9.9 0h0m10 0h0m134.2 0h0m14.9 0h0m4.9 0h0m54.7 0h0m24.9 0h0m19.8 0h0m15 0h0m14.9 0h0m19.8 0h0m49.7 0h0m94.5 0h0m34.8 0h0m59.6 0h0m14.9 0h0m59.7 0h0m4.9 0h0m19.9 0h0m-852.4 4.3h0m24.9 0h0m9.9 0h0m24.9 0h0m5 0h0m29.8 0h0m19.9 0h0m19.8 0h0m19.9 0h0m29.8 0h0m69.6 0h0m99.4 0h0m10 0h0m74.5 0h0m24.9 0h0m14.9 0h0m124.2 0h0m24.9 0h0m4.9 0h0m49.7 0h0m89.5 0h0m5 0h0m44.7 0h0m29.8 0h0m-862.3 4.3h0m34.8 0h0m19.9 0h0m39.8 0h0m29.8 0h0m64.6 0h0m14.9 0h0m34.8 0h0m29.8 0h0m9.9 0h0m34.8 0h0m24.9 0h0m9.9 0h0m79.5 0h0m5 0h0m69.6 0h0m9.9 0h0m10 0h0m64.6 0h0m54.7 0h0m49.7 0h0m34.7 0h0m64.7 0h0m9.9 0h0m39.8 0h0m24.8 0h0m24.9 0h0m-897.1 4.3h0m9.9 0h0m19.9 0h0m99.4 0h0m5 0h0m34.7 0h0m44.8 0h0m14.9 0h0m29.8 0h0m79.5 0h0m34.8 0h0m5 0h0m44.7 0h0m74.6 0h0m69.6 0h0m4.9 0h0m29.8 0h0m74.6 0h0m9.9 0h0m14.9 0h0m54.7 0h0m24.9 0h0m4.9 0h0m-752.9 4.3h0m9.9 0h0m44.7 0h0m69.6 0h0m5 0h0m24.8 0h0m24.9 0h0m29.8 0h0m34.8 0h0m44.7 0h0m69.6 0h0m59.7 0h0m59.6 0h0m19.9 0h0m19.9 0h0m9.9 0h0m24.8 0h0m5 0h0m10 0h0m9.9 0h0m44.7 0h0m19.9 0h0m44.7 0h0m34.8 0h0m14.9 0h0m5 0h0m5 0h0m19.9 0h0m49.7 0h0m4.9 0h0m-777.8 4.3h0m29.8 0h0m99.4 0h0m10 0h0m9.9 0h0m84.5 0h0m14.9 0h0m44.8 0h0m49.7 0h0m9.9 0h0m5 0h0m4.9 0h0m29.9 0h0m44.7 0h0m9.9 0h0m10 0h0m9.9 0h0m14.9 0h0m5 0h0m39.7 0h0m54.7 0h0m19.9 0h0m24.8 0h0m99.4 0h0m29.9 0h0m69.5 0h0m-882.1 4.3h0m64.6 0h0m19.9 0h0m39.7 0h0m59.7 0h0m49.7 0h0m39.7 0h0m19.9 0h0m5 0h0m59.6 0h0m19.9 0h0m14.9 0h0m49.7 0h0m24.8 0h0m24.9 0h0m173.9 0h0m19.9 0h0m5 0h0m5 0h0m19.8 0h0m10 0h0m14.9 0h0m5 0h0m59.6 0h0m34.8 0h0m44.7 0h0m-837.4 4.3h0m59.6 0h0m24.9 0h0m39.7 0h0m29.9 0h0m9.9 0h0m39.8 0h0m54.6 0h0m19.9 0h0m5 0h0m9.9 0h0m29.8 0h0m144.2 0h0m44.7 0h0m44.7 0h0m64.6 0h0m49.7 0h0m29.9 0h0m9.9 0h0m84.5 0h0m34.8 0h0m-782.8 4.3h0m29.8 0h0m84.5 0h0m59.6 0h0m29.9 0h0m29.8 0h0m29.8 0h0m59.6 0h0m59.7 0h0m14.9 0h0m34.8 0h0m14.9 0h0m54.7 0h0m9.9 0h0m29.8 0h0m14.9 0h0m19.9 0h0m24.9 0h0m9.9 0h0m5 0h0m69.6 0h0m19.8 0h0m5 0h0m9.9 0h0m19.9 0h0m-852.3 4.3h0m4.9 0h0m69.6 0h0m5 0h0m34.8 0h0m34.8 0h0m24.8 0h0m10 0h0m89.4 0h0m39.8 0h0m14.9 0h0m79.5 0h0m5 0h0m44.7 0h0m64.6 0h0m14.9 0h0m14.9 0h0m29.9 0h0m49.7 0h0m14.9 0h0m14.9 0h0m19.9 0h0m24.8 0h0m54.7 0h0m94.4 0h0m-847.4 4.3h0m10 0h0m4.9 0h0m54.7 0h0m24.9 0h0m19.8 0h0m74.6 0h0m24.8 0h0m94.5 0h0m29.8 0h0m29.8 0h0m64.6 0h0m5 0h0m24.8 0h0m24.9 0h0m5 0h0m39.7 0h0m10 0h0m79.5 0h0m24.8 0h0m59.7 0h0m39.7 0h0m74.6 0h0m4.9 0h0m10 0h0m34.8 0h0m-812.6 4.3h0m9.9 0h0m49.7 0h0m94.5 0h0m9.9 0h0m44.7 0h0m74.6 0h0m19.9 0h0m54.6 0h0m29.8 0h0m29.9 0h0m9.9 0h0m54.7 0h0m19.9 0h0m64.6 0h0m14.9 0h0m49.7 0h0m9.9 0h0m49.7 0h0m34.8 0h0m64.6 0h0m49.7 0h0m5 0h0m-792.7 4.3h0m94.4 0h0m5 0h0m84.5 0h0m14.9 0h0m129.2 0h0m29.8 0h0m14.9 0h0m5 0h0m14.9 0h0m44.7 0h0m114.3 0h0m94.5 0h0m-758 4.3h0m19.9 0h0m5 0h0m24.8 0h0m34.8 0h0m34.8 0h0m64.6 0h0m5 0h0m9.9 0h0m174 0h0m134.2 0h0m49.7 0h0m29.8 0h0m34.8 0h0m44.7 0h0m10 0h0m74.5 0h0m19.9 0h0m9.9 0h0m14.9 0h0m24.9 0h0m5 0h0m4.9 0h0m29.9 0h0m44.7 0h0m-907 4.3h0m39.7 0h0m59.7 0h0m59.6 0h0m5 0h0m29.8 0h0m5 0h0m24.8 0h0m9.9 0h0m24.9 0h0m69.6 0h0m44.7 0h0m5 0h0m4.9 0h0m5 0h0m29.8 0h0m39.8 0h0m9.9 0h0m29.9 0h0m24.8 0h0m54.7 0h0m59.6 0h0m10 0h0m34.7 0h0m39.8 0h0m19.9 0h0m39.7 0h0m89.5 0h0m5 0h0m-812.6 4.3h0m4.9 0h0m79.6 0h0m4.9 0h0m39.8 0h0m104.4 0h0m4.9 0h0m29.9 0h0m34.8 0h0m49.7 0h0m24.8 0h0m34.8 0h0m19.9 0h0m19.9 0h0m14.9 0h0m19.8 0h0m10 0h0m89.4 0h0m10 0h0m14.9 0h0m19.9 0h0m19.9 0h0m14.9 0h0m4.9 0h0m5 0h0m14.9 0h0m10 0h0m84.4 0h0m44.8 0h0m14.9 0h0m-842.4 4.3h0m14.9 0h0m74.5 0h0m5 0h0m5 0h0m4.9 0h0m29.9 0h0m4.9 0h0m5 0h0m203.8 0h0m34.8 0h0m14.9 0h0m24.8 0h0m64.6 0h0m39.8 0h0m9.9 0h0m10 0h0m19.8 0h0m223.7 0h0m-847.4 4.3h0m79.5 0h0m59.7 0h0m4.9 0h0m14.9 0h0m15 0h0m14.9 0h0m104.3 0h0m10 0h0m59.6 0h0m54.7 0h0m34.8 0h0m34.8 0h0m24.8 0h0m94.5 0h0m4.9 0h0m5 0h0m54.7 0h0m9.9 0h0m49.7 0h0m14.9 0h0m29.8 0h0m34.8 0h0m14.9 0h0m10 0h0m24.8 0h0m-832.5 4.3h0m99.4 0h0m24.9 0h0m34.8 0h0m39.7 0h0m188.9 0h0m19.9 0h0m39.7 0h0m15 0h0m34.7 0h0m39.8 0h0m39.8 0h0m4.9 0h0m14.9 0h0m15 0h0m14.9 0h0m14.9 0h0m24.8 0h0m10 0h0m14.9 0h0m14.9 0h0m14.9 0h0m5 0h0m84.5 0h0m19.8 0h0m-847.4 4.3h0m24.9 0h0m44.7 0h0m44.8 0h0m9.9 0h0m9.9 0h0m10 0h0m119.3 0h0m29.8 0h0m9.9 0h0m14.9 0h0m34.8 0h0m69.6 0h0m9.9 0h0m19.9 0h0m14.9 0h0m10 0h0m29.8 0h0m9.9 0h0m5 0h0m5 0h0m99.4 0h0m4.9 0h0m5 0h0m5 0h0m39.7 0h0m10 0h0m5 0h0m19.8 0h0m119.3 0h0m24.9 0h0m-872.3 4.3h0m104.4 0h0m9.9 0h0m14.9 0h0m29.9 0h0m29.8 0h0m164 0h0m9.9 0h0m54.7 0h0m69.6 0h0m94.4 0h0m5 0h0m34.8 0h0m14.9 0h0m24.8 0h0m19.9 0h0m19.9 0h0m54.7 0h0m54.6 0h0m5 0h0m29.8 0h0m-827.5 4.3h0m89.5 0h0m193.8 0h0m59.7 0h0m29.8 0h0m9.9 0h0m34.8 0h0m9.9 0h0m154.1 0h0m5 0h0m44.7 0h0m29.8 0h0m64.6 0h0m10 0h0m9.9 0h0m94.5 0h0m29.8 0h0m-842.4 4.4h0m69.5 0h0m5 0h0m74.6 0h0m104.3 0h0m49.7 0h0m44.8 0h0m19.8 0h0m5 0h0m5 0h0m124.2 0h0m84.5 0h0m89.5 0h0m9.9 0h0m34.8 0h0m34.8 0h0m84.5 0h0m14.9 0h0m-882.2 4.3h0m29.8 0h0m39.8 0h0m5 0h0m34.8 0h0m39.7 0h0m29.8 0h0m44.8 0h0m4.9 0h0m59.7 0h0m14.9 0h0m14.9 0h0m5 0h0m34.8 0h0m94.4 0h0m19.9 0h0m9.9 0h0m5 0h0m5 0h0m29.8 0h0m9.9 0h0m34.8 0h0m24.9 0h0m49.7 0h0m9.9 0h0m14.9 0h0m24.9 0h0m4.9 0h0m19.9 0h0m29.8 0h0m29.8 0h0m10 0h0m-807.6 4.3h0m9.9 0h0m5 0h0m54.6 0h0m109.4 0h0m39.7 0h0m119.3 0h0m109.4 0h0m49.7 0h0m9.9 0h0m34.8 0h0m9.9 0h0m10 0h0m4.9 0h0m44.8 0h0m79.5 0h0m39.7 0h0m-668.4 4.3h0m4.9 0h0m15 0h0m34.7 0h0m49.7 0h0m15 0h0m4.9 0h0m5 0h0m9.9 0h0m29.9 0h0m9.9 0h0m134.2 0h0m5 0h0m69.5 0h0m44.8 0h0m9.9 0h0m24.9 0h0m4.9 0h0m79.6 0h0m84.4 0h0m174 0h0m34.8 0h0m-892.1 4.3h0m14.9 0h0m34.8 0h0m9.9 0h0m24.9 0h0m9.9 0h0m9.9 0h0m44.8 0h0m49.7 0h0m29.8 0h0m54.7 0h0m29.8 0h0m24.8 0h0m49.7 0h0m49.7 0h0m10 0h0m24.8 0h0m14.9 0h0m109.4 0h0m69.5 0h0m10 0h0m34.8 0h0m99.4 0h0m29.8 0h0m14.9 0h0m-807.6 4.3h0m94.4 0h0m24.9 0h0m14.9 0h0m14.9 0h0m39.7 0h0m24.9 0h0m39.8 0h0m9.9 0h0m24.8 0h0m258.5 0h0m39.7 0h0m39.8 0h0m24.9 0h0m14.9 0h0m49.7 0h0m64.6 0h0m14.9 0h0m49.7 0h0m-847.4 4.3h0m29.8 0h0m149.1 0h0m19.9 0h0m14.9 0h0m14.9 0h0m5 0h0m39.7 0h0m5 0h0m19.9 0h0m5 0h0m34.8 0h0m74.5 0h0m24.9 0h0m34.7 0h0m164.1 0h0m9.9 0h0m19.9 0h0m14.9 0h0m14.9 0h0m19.9 0h0m109.3 0h0m-882.2 4.3h0m10 0h0m99.4 0h0m4.9 0h0m39.8 0h0m39.8 0h0m69.6 0h0m19.8 0h0m24.9 0h0m19.9 0h0m79.5 0h0m64.6 0h0m14.9 0h0m114.3 0h0m114.3 0h0m29.8 0h0m10 0h0m9.9 0h0m74.6 0h0m4.9 0h0m39.8 0h0m19.9 0h0m-887.2 4.3h0m59.7 0h0m19.9 0h0m9.9 0h0m44.7 0h0m5 0h0m9.9 0h0m39.8 0h0m49.7 0h0m19.9 0h0m14.9 0h0m39.7 0h0m39.8 0h0m14.9 0h0m29.8 0h0m10 0h0m64.6 0h0m64.6 0h0m29.8 0h0m34.8 0h0m34.8 0h0m19.9 0h0m19.9 0h0m74.5 0h0m34.8 0h0m19.9 0h0m39.7 0h0m-842.4 4.3h0m19.9 0h0m24.8 0h0m5 0h0m24.9 0h0m24.8 0h0m69.6 0h0m79.5 0h0m19.9 0h0m89.5 0h0m94.4 0h0m39.8 0h0m49.7 0h0m59.6 0h0m29.8 0h0m5 0h0m29.8 0h0m24.9 0h0m14.9 0h0m19.8 0h0m34.8 0h0m5 0h0m59.6 0h0m-792.7 4.3h0m14.9 0h0m54.7 0h0m59.6 0h0m24.9 0h0m9.9 0h0m24.9 0h0m84.5 0h0m64.6 0h0m5 0h0m4.9 0h0m14.9 0h0m54.7 0h0m24.9 0h0m94.4 0h0m9.9 0h0m44.8 0h0m19.8 0h0m39.8 0h0m24.8 0h0m5 0h0m14.9 0h0m5 0h0m14.9 0h0m69.6 0h0m14.9 0h0m39.8 0h0m-892.2 4.3h0m34.8 0h0m14.9 0h0m74.6 0h0m24.8 0h0m49.7 0h0m29.9 0h0m4.9 0h0m54.7 0h0m79.5 0h0m10 0h0m19.8 0h0m19.9 0h0m24.9 0h0m9.9 0h0m10 0h0m24.8 0h0m14.9 0h0m44.7 0h0m15 0h0m39.7 0h0m14.9 0h0m19.9 0h0m9.9 0h0m29.9 0h0m19.8 0h0m24.9 0h0m19.9 0h0m24.8 0h0m74.6 0h0m14.9 0h0m-807.6 4.3h0m34.7 0h0m29.9 0h0m4.9 0h0m5 0h0m29.8 0h0m10 0h0m124.2 0h0m178.9 0h0m5 0h0m29.8 0h0m14.9 0h0m183.9 0h0m14.9 0h0m10 0h0m69.6 0h0m19.8 0h0m84.5 0h0m-842.4 4.3h0m29.8 0h0m34.8 0h0m29.8 0h0m124.3 0h0m5 0h0m44.7 0h0m24.8 0h0m79.6 0h0m24.8 0h0m19.9 0h0m14.9 0h0m39.8 0h0m14.9 0h0m99.4 0h0m19.9 0h0m29.8 0h0m154 0h0m29.9 0h0" stroke="#5254aa"/><path d="M216.5 63.2h0m-2.5 4.3h0m96.9 21.5h0m5 8.6h0m-69.6 17.2h0m2.5 4.3h0m62.1 4.3h0m-27.3 4.3h0m-12.5 4.3h0m10 0h0m19.9 8.6h0m29.8 17.2h0m-52.2 116.3h0m22.4 47.3h0m69.5 60.3h0m14.9 25.8h0" stroke="#1cb8c4"/><path d="M221.4 63.2h0m106.9 4.3h0m-101.9 4.3h0m89.5 0h0m-84.5 8.6h0m178.9 8.6h0m-116.8 4.3h0m-49.7 8.6h0m119.3 0h0m-77.1 4.3h0m-2.4 4.3h0m539.2 4.3h0m-516.9 17.2h0m474.7 12.9h0m9.9 0h0m-183.9 8.6h0m-390.1 4.3h0m546.7 0h0m-390.2 4.3h0m387.7 0h0m-22.4 4.4h0m-429.9 4.3h0m-44.7 8.6h0m44.7 0h0m422.5 0h0m-7.5 4.3h0m-355.3 4.3h0m347.9 0h0m4.9 0h0m-400.1 4.3h0m-19.8 8.6h0m402.5 0h0m-2.5 4.3h0m-17.4 4.3h0m-360.3 4.3h0m357.9 8.6h0m-380.2 4.3h0m357.8 8.6h0m-429.9 4.3h0m101.9 4.3h0m4.9 0h0m318.1 0h0m-318.1 8.6h0m333 0h0m39.8 0h0m24.8 0h0m5 0h0m5 0h0m-589 4.3h0m174 0h0m318.1 0h0m9.9 0h0m19.9 0h0m29.8 0h0m-479.6 4.3h0m-77 4.3h0m129.2 0h0m502 0h0m-551.7 8.7h0m44.7 0h0m333 0h0m208.8 0h0m4.9 0h0m-539.2 4.3h0m-156.6 4.3h0m149.1 0h0m551.7 0h0m-484.6 4.3h0m253.5 0h0m-12.4 4.3h0m4.9 0h0m-216.2 4.3h0m-121.7 4.3h0m94.4 0h0m211.2 4.3h0m-290.7 4.3h0m84.5 0h0m-67.1 4.3h0m248.5 0h0m-226.2 4.3h0m49.7 0h0m183.9 0h0m-77 4.3h0m9.9 0h0m49.7 0h0m-57.1 4.3h0m19.9 0h0m14.9 0h0m9.9 0h0m-201.3 4.3h0m54.7 0h0m-37.3 12.9h0m44.8 0h0m0 8.6h0m4.9 8.6h0m0 8.6h0m-2.5 4.4h0m10 8.6h0m-5 8.6h0m5 0h0m0 8.6h0m-2.5 4.3h0m-241.1 21.5h0" stroke="#4e71ba"/><path d="M226.4 63.2h0m79.5 0h0m109.4 0h0m104.3 0h0m39.8 0h0m223.6 0h0m-459.7 4.3h0m10 0h0m238.5 0h0m29.8 0h0m84.5 0h0m149.1 0h0m44.8 0h0m-812.6 4.3h0m14.9 0h0m780.3 0h0m-758 4.3h0m218.7 0h0m616.3 0h0m-713.2 4.3h0m14.9 0h0m109.4 0h0m37.2 4.3h0m10 0h0m84.5 0h0m89.4 0h0m159.1 0h0m34.8 0h0m24.8 0h0m-743 4.3h0m188.8 0h0m387.7 0h0m-534.3 4.3h0m59.7 0h0m333 0h0m168.9 0h0m15 0h0m4.9 0h0m114.3 0h0m-728.1 4.3h0m233.6 0h0m5 0h0m223.6 0h0m34.8 0h0m372.8 0h0m-807.7 4.3h0m19.9 0h0m203.8 0h0m14.9 0h0m159.1 0h0m79.5 0h0m318.1 0h0m-792.8 4.3h0m288.3 0h0m164 0h0m34.8 0h0m208.7 0h0m24.9 0h0m109.3 0h0m-832.5 4.3h0m89.5 0h0m34.8 0h0m14.9 0h0m323.1 0h0m69.5 0h0m49.7 0h0m24.9 0h0m-534.3 4.3h0m114.3 0h0m174 0h0m39.7 0h0m84.5 0h0m129.2 0h0m-598.8 4.3h0m497 0h0m104.3 0h0m19.9 0h0m14.9 0h0m-643.6 4.3h0m64.6 0h0m293.2 0h0m29.9 0h0m69.5 0h0m-395.1 4.3h0m179 0h0m223.6 0h0m84.5 0h0m94.4 0h0m44.8 0h0m89.4 0h0m-832.5 4.3h0m19.9 0h0m94.4 0h0m298.2 0h0m104.4 0h0m223.7 0h0m-608.9 4.3h0m169 0h0m10 0h0m69.5 0h0m273.4 0h0m79.5 0h0m-628.7 4.3h0m188.9 0h0m24.8 0h0m-330.5 4.3h0m208.8 0h0m487 0h0m-345.4 4.3h0m323 0h0m34.8 0h0m-638.6 4.3h0m34.8 0h0m114.3 0h0m298.2 0h0m144.1 0h0m154.1 0h0m-822.5 4.3h0m288.2 0h0m104.4 0h0m308.1 0h0m-514.4 4.3h0m34.8 0h0m492.1 0h0m24.8 0h0m104.4 0h0m-733.1 4.4h0m114.3 0h0m49.7 0h0m5 0h0m44.7 0h0m54.7 0h0m9.9 0h0m154.1 0h0m342.9 0h0m-797.7 4.3h0m303.2 0h0m174 0h0m129.2 0h0m14.9 0h0m-489.6 4.3h0m14.9 0h0m29.9 0h0m134.2 0h0m154 0h0m64.6 0h0m69.6 0h0m129.2 0h0m-588.9 4.3h0m34.8 0h0m59.6 0h0m457.3 0h0m-608.9 4.3h0m39.8 0h0m39.8 0h0m19.8 0h0m89.5 0h0m308.1 0h0m164 0h0m-658.5 4.3h0m24.9 0h0m29.8 0h0m124.2 0h0m114.4 0h0m173.9 0h0m-544.2 4.3h0m64.6 0h0m39.8 0h0m44.7 0h0m29.8 0h0m-111.8 4.3h0m24.8 0h0m59.7 0h0m4.9 0h0m114.4 0h0m24.8 0h0m387.7 0h0m4.9 0h0m59.7 0h0m34.8 0h0m-613.8 4.3h0m64.6 0h0m203.7 0h0m19.9 0h0m29.8 0h0m74.6 0h0m-628.7 4.3h0m198.8 0h0m24.8 0h0m15 0h0m223.6 0h0m357.8 0h0m-812.6 4.3h0m114.4 0h0m29.8 0h0m39.7 0h0m10 0h0m9.9 0h0m24.9 0h0m69.5 0h0m288.3 0h0m218.7 0h0m24.8 0h0m-688.3 4.3h0m5 0h0m99.4 0h0m49.7 0h0m84.5 0h0m114.3 0h0m14.9 0h0m109.3 0h0m178.9 0h0m19.9 0h0m-633.7 4.3h0m109.4 0h0m4.9 0h0m5 0h0m14.9 0h0m104.4 0h0m9.9 0h0m243.6 0h0m173.9 0h0m-743 4.3h0m44.7 0h0m64.6 0h0m64.7 0h0m39.7 0h0m44.7 0h0m362.9 0h0m114.3 0h0m-708.3 4.3h0m308.2 0h0m39.7 0h0m-350.4 4.3h0m24.9 0h0m59.6 0h0m273.4 0h0m243.5 0h0m-718.1 4.3h0m134.1 0h0m24.9 0h0m14.9 0h0m49.7 0h0m228.6 0h0m59.7 0h0m24.8 0h0m124.3 0h0m-594 4.3h0m29.9 0h0m452.2 0h0m169 0h0m139.2 0h0m-842.4 4.3h0m29.8 0h0m144.1 0h0m10 0h0m24.8 0h0m139.2 0h0m14.9 0h0m193.8 0h0m-449.8 4.3h0m5 0h0m64.6 0h0m39.8 0h0m104.3 0h0m183.9 0h0m104.4 0h0m124.2 0h0m-733 4.3h0m4.9 0h0m104.4 0h0m64.6 0h0m432.4 0h0m5 0h0m-678.4 4.3h0m119.2 0h0m29.9 0h0m24.8 0h0m328 0h0m44.8 0h0m9.9 0h0m74.6 0h0m14.9 0h0m4.9 0h0m29.9 0h0m19.8 0h0m15 0h0m4.9 0h0m19.9 0h0m19.9 0h0m-762.9 4.3h0m183.9 0h0m164 0h0m208.7 0h0m144.2 0h0m4.9 0h0m34.8 0h0m94.4 0h0m-782.7 4.3h0m183.9 0h0m154 0h0m19.9 0h0m318.1 0h0m39.8 0h0m124.2 0h0m-882.2 4.4h0m174 0h0m94.4 0h0m79.5 0h0m19.9 0h0m29.8 0h0m54.7 0h0m99.4 0h0m169 0h0m44.7 0h0m-688.3 4.3h0m24.8 0h0m64.6 0h0m362.8 0h0m193.9 0h0m19.8 0h0m-668.4 4.3h0m104.3 0h0m104.4 0h0m258.5 0h0m14.9 0h0m29.8 0h0m134.2 0h0m34.8 0h0m44.7 0h0m-628.7 4.3h0m9.9 0h0m104.4 0h0m119.3 0h0m154.1 0h0m44.7 0h0m159 0h0m10 0h0m-698.3 4.3h0m109.3 0h0m89.5 0h0m4.9 0h0m64.7 0h0m173.9 0h0m352.9 0h0m14.9 0h0m-867.3 4.3h0m29.8 0h0m10 0h0m566.6 0h0m84.5 0h0m-524.4 4.3h0m104.4 0h0m29.8 0h0m183.9 0h0m119.3 0h0m-434.9 4.3h0m9.9 0h0m15 0h0m79.5 0h0m29.8 0h0m417.5 0h0m44.7 0h0m69.6 0h0m-762.9 4.3h0m64.6 0h0m124.2 0h0m49.7 0h0m164.1 0h0m-295.8 4.3h0m39.8 0h0m24.9 0h0m34.7 0h0m49.7 0h0m-171.4 4.3h0m39.7 0h0m19.9 0h0m49.7 0h0m14.9 0h0m49.7 0h0m14.9 0h0m24.9 0h0m139.1 0h0m99.4 0h0m183.9 0h0m-743 4.3h0m134.2 0h0m29.8 0h0m74.6 0h0m54.7 0h0m94.4 0h0m-166.5 4.3h0m34.8 0h0m238.5 0h0m238.6 0h0m9.9 0h0m-777.8 4.3h0m258.5 0h0m109.3 0h0m54.7 0h0m69.6 0h0m69.5 0h0m-588.9 4.3h0m169 0h0m134.2 0h0m64.6 0h0m4.9 0h0m15 0h0m24.8 0h0m248.5 0h0m149.1 0h0m-623.7 4.3h0m4.9 0h0m54.7 0h0m89.5 0h0m34.8 0h0m149.1 0h0m183.9 0h0m144.1 0h0m-733.1 4.3h0m34.8 0h0m178.9 0h0m49.7 0h0m34.8 0h0m134.2 0h0m69.6 0h0m9.9 0h0m14.9 0h0m233.6 0h0m-842.4 4.3h0m109.3 0h0m124.3 0h0m208.7 0h0m64.6 0h0m84.5 0h0m124.3 0h0m-593.9 4.3h0m109.3 0h0m34.8 0h0m278.3 0h0m14.9 0h0m188.9 0h0m-703.3 4.3h0m203.8 0h0m293.2 0h0m14.9 0h0m15 0h0m14.9 0h0m223.6 0h0m-748 4.3h0m149.1 0h0m362.8 0h0m14.9 0h0m114.4 0h0m-633.7 4.3h0m29.8 0h0m352.9 0h0m253.4 0h0m109.4 0h0m-718.2 4.3h0m149.1 0h0m5 0h0m9.9 0h0m34.8 0h0m303.2 0h0m164 0h0m-668.5 4.3h0m203.8 0h0m218.7 0h0m178.9 0h0m19.9 0h0m49.7 0h0m-797.7 4.4h0m39.8 0h0m238.5 0h0m139.2 0h0m139.1 0h0m248.5 0h0m-688.3 4.3h0m154.1 0h0m159 0h0m144.1 0h0m5 0h0m-519.4 4.3h0m656.1 0h0m129.2 0h0m19.9 0h0m-469.7 4.3h0m342.9 0h0m-415 4.3h0m333 0h0m79.6 0h0m-415 4.3h0m119.2 0h0m59.7 0h0m34.8 0h0m323 0h0m-738 4.3h0m362.8 0h0m74.5 0h0m24.9 0h0m34.8 0h0m14.9 0h0m139.1 0h0m54.7 0h0m-812.6 4.3h0m233.6 0h0m516.9 0h0m-723.1 4.3h0m59.6 0h0m99.4 0h0m258.4 0h0m34.8 0h0m283.3 0h0m10 0h0m39.7 0h0m-723.1 4.3h0m59.6 0h0m154.1 0h0m119.3 0h0m208.7 0h0m54.7 0h0m-708.2 4.3h0m104.3 0h0m159.1 0h0m64.6 0h0m9.9 0h0m59.7 0h0m437.3 0h0m-733.1 4.3h0m154.1 0h0m84.5 0h0m49.7 0h0m84.5 0h0m79.5 0h0m54.7 0h0m5 0h0m94.4 0h0m119.3 0h0m34.8 0h0m19.8 0h0m-449.8 4.3h0m84.5 0h0m89.5 0h0m24.8 0h0m84.5 0h0m-638.6 4.3h0m9.9 0h0m5 0h0m690.8 0h0m-718.1 4.3h0m9.9 0h0m5 0h0m263.4 0h0m69.6 0h0m44.7 0h0m159 0h0m218.7 0h0m-772.8 4.3h0m4.9 0h0m5 0h0m5 0h0m64.6 0h0m79.5 0h0m114.3 0h0m164 0h0m154.1 0h0m-608.8 4.3h0m24.8 0h0m10 0h0m238.5 0h0m14.9 0h0m15 0h0m531.7 0h0m-623.7 4.3h0m-27.3 4.3h0m501.9 0h0m-464.6 4.3h0m-211.3 4.3h0m89.5 0h0m149.1 0h0m34.8 0h0m352.8 0h0m-658.5 4.3h0m39.8 0h0m203.8 0h0m417.4 0h0m109.4 0h0m44.7 0h0m-593.9 4.3h0m198.8 0h0m24.8 0h0m179 0h0m-464.7 4.3h0m79.5 0h0m34.8 0h0m159 0h0m188.9 0h0m29.8 0h0m178.9 0h0m-713.2 4.4h0m-2.5 4.3h0m233.6 0h0m313.1 0h0m169 0h0m-807.6 4.3h0m69.6 0h0m44.7 0h0m188.9 0h0m9.9 0h0m94.4 0h0m174 0h0m-554.2 4.3h0m447.3 0h0m144.2 0h0m-300.7 4.3h0m387.6 0h0m149.1 0h0m-733.1 4.3h0m99.5 0h0m79.5 0h0m19.9 0h0m303.1 0h0m-454.7 4.3h0m154 0h0m10 0h0m109.3 0h0m382.7 0h0m-643.6 4.3h0m298.2 0h0m119.3 0h0m109.3 0h0m34.8 0h0m-772.8 4.3h0m337.9 0h0m99.4 0h0m44.8 0h0m74.5 0h0m-395.1 4.3h0m198.8 0h0m9.9 0h0m29.9 0h0m9.9 0h0m154.1 0h0m24.8 0h0m59.7 0h0m39.7 0h0m19.9 0h0m-648.6 4.3h0m14.9 0h0m29.8 0h0m84.5 0h0m69.6 0h0m114.3 0h0m19.9 0h0m452.3 0h0m-817.6 4.3h0m5 0h0m169 0h0m49.7 0h0m59.6 0h0m64.6 0h0m139.2 0h0m44.7 0h0m-256 4.3h0m44.8 0h0m119.2 0h0m109.4 0h0m114.3 0h0m-420 4.3h0m238.6 0h0" stroke="#5262b1"/><path d="M296 63.2h0m29.8 0h0m104.4 0h0m79.5 0h0m154.1 0h0m-425 4.3h0m99.4 0h0m39.8 0h0m59.6 0h0m29.9 0h0m29.8 0h0m159 0h0m-603.8 4.3h0m84.4 0h0m54.7 0h0m44.7 0h0m104.4 0h0m129.2 0h0m79.6 0h0m9.9 0h0m29.8 0h0m89.5 0h0m34.8 0h0m144.1 0h0m-638.7 4.3h0m109.4 0h0m367.8 0h0m29.8 0h0m129.2 0h0m49.7 0h0m-723.1 4.3h0m39.7 0h0m174 0h0m29.8 0h0m59.6 0h0m179 0h0m-613.8 4.3h0m178.9 0h0m19.9 0h0m178.9 0h0m278.3 0h0m159.1 0h0m9.9 0h0m84.5 0h0m-857.3 4.3h0m84.4 0h0m94.5 0h0m74.5 0h0m74.6 0h0m59.6 0h0m5 0h0m69.6 0h0m34.8 0h0m208.7 0h0m-748 4.3h0m119.3 0h0m248.5 0h0m59.6 0h0m44.8 0h0m79.5 0h0m49.7 0h0m19.9 0h0m4.9 0h0m218.7 0h0m-549.2 4.3h0m482.1 0h0m-767.9 4.3h0m154.1 0h0m109.4 0h0m333 0h0m84.4 0h0m34.8 0h0m99.4 0h0m54.7 0h0m-782.8 4.3h0m59.7 0h0m39.7 0h0m159.1 0h0m506.9 0h0m-867.3 4.3h0m49.7 0h0m99.4 0h0m129.3 0h0m34.8 0h0m29.8 0h0m208.7 0h0m178.9 0h0m84.5 0h0m-713.2 4.3h0m29.8 0h0m149.1 0h0m15 0h0m14.9 0h0m34.8 0h0m64.6 0h0m24.8 0h0m283.3 0h0m-489.5 4.3h0m84.5 0h0m44.7 0h0m14.9 0h0m347.9 0h0m154.1 0h0m-872.3 4.3h0m263.4 0h0m19.9 0h0m19.9 0h0m5 0h0m183.9 0h0m24.8 0h0m109.3 0h0m39.8 0h0m99.4 0h0m49.7 0h0m-534.3 4.3h0m278.4 0h0m44.7 0h0m19.9 0h0m74.5 0h0m154.1 0h0m-857.3 4.3h0m14.9 0h0m253.4 0h0m29.9 0h0m4.9 0h0m10 0h0m34.8 0h0m283.2 0h0m238.6 0h0m-713.2 4.3h0m59.7 0h0m14.9 0h0m9.9 0h0m34.8 0h0m29.8 0h0m5 0h0m14.9 0h0m84.5 0h0m14.9 0h0m5 0h0m313.1 0h0m144.1 0h0m-872.2 4.3h0m104.3 0h0m54.7 0h0m19.9 0h0m74.5 0h0m24.9 0h0m253.5 0h0m208.7 0h0m94.4 0h0m-658.5 4.3h0m5 0h0m29.8 0h0m39.8 0h0m29.8 0h0m24.8 0h0m10 0h0m9.9 0h0m114.3 0h0m129.2 0h0m134.2 0h0m-628.7 4.3h0m59.7 0h0m44.7 0h0m64.6 0h0m9.9 0h0m14.9 0h0m19.9 0h0m10 0h0m19.8 0h0m10 0h0m19.9 0h0m4.9 0h0m14.9 0h0m149.1 0h0m129.3 0h0m59.6 0h0m104.4 0h0m9.9 0h0m-638.6 4.3h0m4.9 0h0m64.7 0h0m173.9 0h0m79.5 0h0m109.4 0h0m64.6 0h0m188.8 0h0m-837.4 4.3h0m129.2 0h0m19.9 0h0m24.8 0h0m49.7 0h0m5 0h0m178.9 0h0m54.7 0h0m5 0h0m34.8 0h0m203.7 0h0m-668.4 4.3h0m89.4 0h0m44.8 0h0m14.9 0h0m79.5 0h0m69.6 0h0m74.5 0h0m99.4 0h0m84.5 0h0m159 0h0m19.9 0h0m14.9 0h0m49.7 0h0m-842.4 4.4h0m139.2 0h0m9.9 0h0m39.8 0h0m29.8 0h0m59.6 0h0m54.7 0h0m9.9 0h0m169 0h0m44.8 0h0m114.3 0h0m-688.4 4.3h0m19.9 0h0m109.3 0h0m24.9 0h0m19.9 0h0m4.9 0h0m5 0h0m19.9 0h0m5 0h0m9.9 0h0m54.7 0h0m9.9 0h0m10 0h0m4.9 0h0m164 0h0m64.6 0h0m149.1 0h0m54.7 0h0m-668.5 4.3h0m64.7 0h0m24.8 0h0m24.9 0h0m44.7 0h0m34.8 0h0m4.9 0h0m10 0h0m5 0h0m9.9 0h0m9.9 0h0m5 0h0m223.7 0h0m293.2 0h0m-842.4 4.3h0m64.6 0h0m74.5 0h0m14.9 0h0m19.9 0h0m19.9 0h0m9.9 0h0m19.9 0h0m14.9 0h0m5 0h0m9.9 0h0m15 0h0m24.8 0h0m9.9 0h0m54.7 0h0m10 0h0m183.8 0h0m24.9 0h0m84.5 0h0m24.8 0h0m-519.3 4.3h0m14.9 0h0m34.8 0h0m84.5 0h0m19.8 0h0m114.3 0h0m10 0h0m109.3 0h0m174 0h0m54.6 0h0m-623.7 4.3h0m9.9 0h0m10 0h0m14.9 0h0m44.7 0h0m5 0h0m14.9 0h0m19.9 0h0m94.4 0h0m5 0h0m178.9 0h0m19.9 0h0m19.9 0h0m14.9 0h0m84.5 0h0m4.9 0h0m39.8 0h0m134.2 0h0m-708.2 4.3h0m14.9 0h0m4.9 0h0m5 0h0m19.9 0h0m9.9 0h0m5 0h0m5 0h0m4.9 0h0m5 0h0m74.6 0h0m64.6 0h0m9.9 0h0m188.9 0h0m89.4 0h0m74.6 0h0m-564.1 4.3h0m39.8 0h0m14.9 0h0m4.9 0h0m24.9 0h0m69.6 0h0m14.9 0h0m49.7 0h0m89.4 0h0m69.6 0h0m164 0h0m10 0h0m14.9 0h0m64.6 0h0m99.4 0h0m-753 4.3h0m10 0h0m39.7 0h0m89.5 0h0m29.8 0h0m338 0h0m-579 4.3h0m24.8 0h0m39.8 0h0m4.9 0h0m5 0h0m5 0h0m74.5 0h0m19.9 0h0m19.9 0h0m5 0h0m14.9 0h0m64.6 0h0m188.8 0h0m293.3 0h0m-723.2 4.3h0m39.8 0h0m14.9 0h0m24.9 0h0m54.6 0h0m39.8 0h0m14.9 0h0m144.1 0h0m49.7 0h0m54.7 0h0m233.6 0h0m-628.7 4.3h0m49.7 0h0m9.9 0h0m19.9 0h0m19.9 0h0m5 0h0m288.2 0h0m14.9 0h0m10 0h0m44.7 0h0m119.3 0h0m49.7 0h0m-733.1 4.3h0m44.7 0h0m29.8 0h0m10 0h0m14.9 0h0m24.8 0h0m5 0h0m24.9 0h0m29.8 0h0m5 0h0m9.9 0h0m298.2 0h0m59.6 0h0m24.9 0h0m119.3 0h0m19.8 0h0m15 0h0m9.9 0h0m19.9 0h0m-792.7 4.3h0m64.6 0h0m144.1 0h0m129.2 0h0m14.9 0h0m44.8 0h0m29.8 0h0m44.7 0h0m44.7 0h0m89.5 0h0m129.2 0h0m59.7 0h0m44.7 0h0m-693.3 4.3h0m49.7 0h0m4.9 0h0m10 0h0m29.8 0h0m273.4 0h0m4.9 0h0m5 0h0m69.6 0h0m134.2 0h0m-564.1 4.3h0m34.8 0h0m4.9 0h0m10 0h0m44.7 0h0m5 0h0m54.6 0h0m124.3 0h0m129.2 0h0m-593.9 4.3h0m29.8 0h0m79.5 0h0m44.8 0h0m9.9 0h0m14.9 0h0m14.9 0h0m24.9 0h0m4.9 0h0m24.9 0h0m74.5 0h0m144.2 0h0m149.1 0h0m74.5 0h0m109.4 0h0m89.4 0h0m-663.5 4.3h0m54.7 0h0m119.3 0h0m139.1 0h0m84.5 0h0m149.1 0h0m99.4 0h0m-857.3 4.3h0m59.6 0h0m124.3 0h0m14.9 0h0m278.3 0h0m19.9 0h0m69.6 0h0m14.9 0h0m34.8 0h0m14.9 0h0m119.3 0h0m99.4 0h0m-812.6 4.3h0m104.3 0h0m24.9 0h0m14.9 0h0m29.8 0h0m10 0h0m9.9 0h0m74.6 0h0m218.6 0h0m34.8 0h0m19.9 0h0m10 0h0m4.9 0h0m14.9 0h0m10 0h0m19.9 0h0m19.8 0h0m5 0h0m5 0h0m-593.9 4.3h0m99.4 0h0m19.8 0h0m333 0h0m49.7 0h0m34.8 0h0m-454.7 4.3h0m9.9 0h0m24.9 0h0m54.6 0h0m104.4 0h0m49.7 0h0m149.1 0h0m39.8 0h0m24.8 0h0m29.8 0h0m54.7 0h0m79.5 0h0m5 0h0m39.7 0h0m-752.9 4.3h0m34.8 0h0m59.6 0h0m54.7 0h0m9.9 0h0m5 0h0m5 0h0m29.8 0h0m24.8 0h0m293.3 0h0m14.9 0h0m54.6 0h0m79.6 0h0m4.9 0h0m-713.2 4.3h0m49.7 0h0m64.6 0h0m15 0h0m19.8 0h0m34.8 0h0m29.9 0h0m19.8 0h0m19.9 0h0m64.6 0h0m79.5 0h0m104.4 0h0m5 0h0m19.9 0h0m69.5 0h0m10 0h0m49.7 0h0m-554.2 4.4h0m14.9 0h0m24.9 0h0m213.7 0h0m308.1 0h0m14.9 0h0m-693.3 4.3h0m34.8 0h0m14.9 0h0m203.8 0h0m402.6 0h0m-623.8 4.3h0m94.5 0h0m263.4 0h0m193.8 0h0m149.1 0h0m59.6 0h0m-638.6 4.3h0m49.7 0h0m34.8 0h0m178.9 0h0m39.8 0h0m34.8 0h0m278.3 0h0m59.6 0h0m-807.6 4.3h0m208.7 0h0m39.8 0h0m178.9 0h0m39.8 0h0m-459.8 4.3h0m114.4 0h0m4.9 0h0m79.6 0h0m54.6 0h0m193.9 0h0m-380.3 4.3h0m49.7 0h0m19.9 0h0m24.9 0h0m14.9 0h0m288.2 0h0m-534.2 4.3h0m283.3 0h0m34.8 0h0m19.8 0h0m253.5 0h0m34.8 0h0m29.8 0h0m174 0h0m-817.6 4.3h0m198.8 0h0m114.3 0h0m94.4 0h0m69.6 0h0m34.8 0h0m29.8 0h0m238.6 0h0m44.7 0h0m19.9 0h0m-842.4 4.3h0m44.7 0h0m44.7 0h0m74.6 0h0m19.9 0h0m19.9 0h0m154 0h0m-345.4 4.3h0m49.7 0h0m134.2 0h0m14.9 0h0m99.4 0h0m9.9 0h0m134.2 0h0m44.8 0h0m69.5 0h0m154.1 0h0m-728.1 4.3h0m298.2 0h0m44.7 0h0m94.5 0h0m49.7 0h0m109.3 0h0m109.4 0h0m-708.3 4.3h0m99.4 0h0m139.2 0h0m19.9 0h0m9.9 0h0m44.7 0h0m79.6 0h0m39.7 0h0m39.8 0h0m273.3 0h0m59.7 0h0m-569.1 4.3h0m69.6 0h0m59.6 0h0m10 0h0m34.8 0h0m49.7 0h0m24.8 0h0m-439.8 4.3h0m39.7 0h0m169 0h0m39.8 0h0m89.4 0h0m5 0h0m9.9 0h0m10 0h0m4.9 0h0m24.9 0h0m-350.4 4.3h0m169 0h0m154.1 0h0m347.9 0h0m-758 4.3h0m109.4 0h0m397.6 0h0m54.6 0h0m94.5 0h0m74.5 0h0m-723.1 4.3h0m253.5 0h0m99.4 0h0m173.9 0h0m5 0h0m14.9 0h0m89.4 0h0m49.7 0h0m159.1 0h0m-718.2 4.3h0m183.9 0h0m14.9 0h0m149.1 0h0m109.4 0h0m124.2 0h0m74.6 0h0m64.6 0h0m-579 4.3h0m4.9 0h0m283.3 0h0m39.8 0h0m34.8 0h0m89.4 0h0m14.9 0h0m-683.3 4.3h0m54.6 0h0m19.9 0h0m139.2 0h0m4.9 0h0m24.9 0h0m64.6 0h0m59.6 0h0m124.3 0h0m5 0h0m39.7 0h0m49.7 0h0m34.8 0h0m5 0h0m178.9 0h0m-663.5 4.3h0m74.6 0h0m14.9 0h0m337.9 0h0m5 0h0m5 0h0m9.9 0h0m54.7 0h0m49.7 0h0m-628.7 4.3h0m99.4 0h0m84.5 0h0m84.5 0h0m119.2 0h0m59.7 0h0m19.9 0h0m283.2 0h0m-782.7 4.3h0m54.6 0h0m94.5 0h0m44.7 0h0m14.9 0h0m5 0h0m114.3 0h0m74.5 0h0m10 0h0m54.7 0h0m-499.5 4.4h0m74.5 0h0m164 0h0m427.4 0h0m104.4 0h0m59.7 0h0m-772.9 4.3h0m10 0h0m4.9 0h0m69.6 0h0m19.9 0h0m34.8 0h0m49.7 0h0m14.9 0h0m477.1 0h0m-718.2 4.3h0m218.7 0h0m64.6 0h0m104.4 0h0m427.4 0h0m-892.1 4.3h0m174 0h0m149.1 0h0m4.9 0h0m129.3 0h0m34.7 0h0m15 0h0m198.8 0h0m-598.9 4.3h0m139.1 0h0m34.8 0h0m278.3 0h0m89.5 0h0m79.5 0h0m139.2 0h0m-613.8 4.3h0m59.6 0h0m169 0h0m99.4 0h0m-544.2 4.3h0m24.8 0h0m49.7 0h0m5 0h0m49.7 0h0m188.9 0h0m198.8 0h0m164 0h0m-648.6 4.3h0m183.9 0h0m447.3 0h0m5 0h0m134.1 0h0m39.8 0h0m-792.7 4.3h0m149.1 0h0m124.2 0h0m-315.6 4.3h0m193.9 0h0m288.2 0h0m29.9 0h0m29.8 0h0m64.6 0h0m5 0h0m24.8 0h0m9.9 0h0m104.4 0h0m-708.2 4.3h0m84.5 0h0m14.9 0h0m99.4 0h0m154.1 0h0m24.8 0h0m169 0h0m-574.1 4.3h0m39.8 0h0m69.6 0h0m64.6 0h0m74.6 0h0m168.9 0h0m5 0h0m74.6 0h0m-474.7 4.3h0m213.7 0h0m34.8 0h0m49.7 0h0m377.7 0h0m39.8 0h0m94.4 0h0m-877.2 4.3h0m169 0h0m29.8 0h0m149.1 0h0m149.1 0h0m84.5 0h0m169 0h0m84.5 0h0m39.7 0h0m-698.2 4.3h0m44.7 0h0m39.7 0h0m10 0h0m14.9 0h0m14.9 0h0m24.9 0h0m84.4 0h0m19.9 0h0m129.2 0h0m-574 4.3h0m338 0h0m9.9 0h0m119.3 0h0m164 0h0m9.9 0h0m-593.9 4.3h0m198.8 0h0m437.4 0h0m-693.3 4.3h0m183.9 0h0m159 0h0m14.9 0h0m218.7 0h0m248.5 0h0m64.6 0h0m14.9 0h0m-663.5 4.3h0m49.7 0h0m109.4 0h0m39.7 0h0m377.7 0h0m74.6 0h0m-757.9 4.3h0m104.3 0h0m84.5 0h0m39.8 0h0m218.7 0h0m49.7 0h0m39.7 0h0m5 0h0m188.9 0h0m-782.8 4.3h0m49.7 0h0m59.6 0h0m14.9 0h0m39.8 0h0m79.5 0h0m-325.5 4.3h0m49.7 0h0m9.9 0h0m258.5 0h0m29.8 0h0m54.6 0h0m-365.3 4.3h0m179 0h0m248.5 0h0m208.7 0h0m109.3 0h0m10 0h0m114.3 0h0m-797.7 4.3h0m64.6 0h0m183.9 0h0m208.8 0h0m337.9 0h0m-842.4 4.4h0m119.3 0h0m109.3 0h0m218.7 0h0m308.1 0h0m-743 4.3h0m54.7 0h0m79.5 0h0m124.3 0h0m69.5 0h0m427.5 0h0m49.7 0h0m-847.4 4.3h0m64.6 0h0m34.8 0h0m173.9 0h0m49.7 0h0m278.3 0h0m104.4 0h0m29.8 0h0m59.7 0h0m-703.3 4.3h0m89.5 0h0m49.7 0h0m29.8 0h0m64.6 0h0m54.7 0h0m333 0h0m-673.5 4.3h0m183.9 0h0m14.9 0h0m99.4 0h0m10 0h0m4.9 0h0m347.9 0h0m-688.3 4.3h0m29.8 0h0m288.3 0h0m14.9 0h0m288.3 0h0m109.3 0h0m-648.6 4.3h0m64.6 0h0m387.7 0h0m29.8 0h0m9.9 0h0m193.9 0h0m-767.9 4.3h0m84.5 0h0m497 0h0m79.5 0h0m10 0h0m24.8 0h0m44.7 0h0m94.5 0h0m-877.2 4.3h0m69.5 0h0m5 0h0m44.7 0h0m318.1 0h0m342.9 0h0m94.5 0h0m19.9 0h0m-887.2 4.3h0m109.3 0h0m49.7 0h0m283.3 0h0m29.9 0h0m64.6 0h0m39.7 0h0m64.6 0h0m119.3 0h0m49.7 0h0m34.8 0h0m49.7 0h0m-882.2 4.3h0m129.3 0h0m114.3 0h0m44.7 0h0m24.8 0h0m49.7 0h0m-300.6 4.3h0m19.8 0h0m174 0h0m64.6 0h0m24.9 0h0m104.3 0h0m10 0h0m144.1 0h0m64.6 0h0m-683.4 4.3h0m5 0h0m14.9 0h0m19.9 0h0m208.7 0h0m104.4 0h0m34.8 0h0m144.1 0h0m84.5 0h0m39.8 0h0m228.6 0h0m-683.4 4.3h0m258.5 0h0m89.4 0h0m104.4 0h0m99.4 0h0m99.4 0h0" stroke="#5459ac"/><path d="M335.7 63.2h0m-124.2 8.6h0m82 4.3h0m14.9 0h0m104.4 8.6h0m-126.8 4.3h0m-42.2 4.3h0m44.7 0h0m-42.2 12.9h0m59.6 0h0m-62.1 21.5h0m564.1 4.3h0m-516.9 8.6h0m37.3 12.9h0m429.9 4.3h0m-457.2 8.7h0m447.3 0h0m-15 8.6h0m-422.4 8.6h0m12.4 21.5h0m89.5 17.2h0m263.4 0h0m-454.8 21.5h0m442.4 8.6h0m9.9 0h0m-42.2 4.3h0m129.2 0h0m-616.3 8.6h0m186.4 4.4h0m288.2 0h0m179 0h0m-509.5 4.3h0m539.3 4.3h0m-226.2 4.3h0m-12.4 4.3h0m-27.3 12.9h0m-2.5 4.3h0m-216.2 4.3h0m183.9 8.6h0m-176.4 4.3h0m121.7 4.3h0m-114.3 8.6h0m12.4 30.1h0m-4.9 17.3h0m17.4 21.5h0m4.9 0h0m-253.4 25.8h0m250.9 4.3h0" stroke="#4b80c1"/><path d="M340.7 63.2h0m7.5 4.3h0m-27.4 4.3h0m-22.3 4.3h0m-59.7 17.2h0m72.1 4.3h0m-2.5 4.3h0m57.2 4.3h0m-52.2 4.3h0m49.7 8.6h0m-121.8 4.3h0m576.5 0h0m-509.4 4.3h0m497 0h0m-564.1 4.3h0m556.7 8.6h0m-2.5 4.3h0m-193.9 8.6h0m179 0h0m-34.8 8.6h0m-429.9 4.4h0m427.4 0h0m-477.1 8.6h0m457.2 0h0m-2.5 4.3h0m-474.6 12.9h0m54.7 0h0m79.5 0h0m-2.5 4.3h0m323 0h0m-380.2 4.3h0m372.8 0h0m-390.2 12.9h0m-72 4.3h0m99.4 0h0m357.8 0h0m-459.7 4.3h0m101.9 4.3h0m337.9 0h0m-447.3 8.6h0m79.6 0h0m303.1 0h0m37.3 12.9h0m5 0h0m-330.5 4.3h0m9.9 0h0m372.8 0h0m4.9 0h0m14.9 0h0m29.9 0h0m-459.8 4.3h0m372.8 0h0m49.7 0h0m14.9 0h0m-400.1 4.3h0m432.4 0h0m5 0h0m19.8 0h0m-559.1 4.3h0m104.4 0h0m293.2 0h0m149.1 0h0m-544.2 4.4h0m109.3 0h0m278.4 0h0m173.9 0h0m5 0h0m-191.4 4.3h0m10 0h0m5 0h0m-489.6 4.3h0m139.2 0h0m-146.7 4.3h0m472.2 0h0m5 0h0m9.9 0h0m-489.5 4.3h0m119.2 0h0m124.3 8.6h0m218.7 0h0m-206.3 4.3h0m198.8 0h0m-231.1 4.3h0m203.8 0h0m-270.9 4.3h0m119.3 0h0m5 0h0m139.1 0h0m-251 4.3h0m59.7 0h0m69.6 0h0m124.2 0h0m-255.9 4.3h0m9.9 0h0m5 0h0m114.3 0h0m109.3 0h0m10 0h0m-106.9 4.3h0m-72.1 4.3h0m89.5 0h0m-79.5 8.6h0m74.5 0h0m-121.7 4.3h0m290.7 4.3h0m-275.8 4.3h0m39.7 0h0m318.1 8.6h0m-320.5 12.9h0m7.4 4.4h0m-193.8 8.6h0m-7.5 4.3h0m193.9 0h0m9.9 0h0m-206.3 4.3h0m-2.5 4.3h0m206.3 4.3h0m9.9 0h0m-221.1 4.3h0m216.2 4.3h0m-226.2 4.3h0m228.7 0h0m4.9 0h0m-7.4 12.9h0m2.5 4.3h0m-265.9 12.9h0m278.3 0h0m32.3 64.6h0" stroke="#4f6ab6"/><path d="M218.9 67.5h0m106.9 4.3h0m-96.9 4.3h0m188.9 8.6h0m-186.4 4.3h0m2.5 4.3h0m7.4 4.3h0m22.4 4.3h0m17.4 4.3h0m19.9 0h0m57.1 4.3h0m-54.7 8.6h0m-54.6 17.2h0m9.9 0h0m109.4 0h0m419.9 4.3h0m-579 12.9h0m2.5 4.3h0m124.2 0h0m34.8 0h0m-52.1 4.3h0m432.3 0h0m5 0h0m-487.1 8.7h0m4.9 0h0m44.8 0h0m417.4 0h0m5 0h0m-429.9 4.3h0m417.5 0h0m-2.5 4.3h0m-469.7 4.3h0m62.2 4.3h0m-2.5 4.3h0m7.4 4.3h0m382.7 0h0m5 0h0m-385.2 12.9h0m362.8 0h0m-2.5 4.3h0m5 0h0m-280.8 4.3h0m-32.3 4.3h0m2.5 4.3h0m283.3 8.6h0m-439.9 4.3h0m437.4 0h0m-12.4 4.3h0m-10 8.6h0m129.2 8.6h0m10 0h0m-161.5 4.3h0m9.9 0h0m-484.6 4.4h0m661 0h0m-474.6 4.3h0m9.9 0h0m472.2 0h0m-579 4.3h0m44.7 0h0m49.7 0h0m9.9 0h0m268.4 0h0m-265.9 4.3h0m-4.9 8.6h0m4.9 0h0m238.6 0h0m-12.4 4.3h0m-7.5 4.3h0m-305.6 4.3h0m139.1 0h0m151.6 4.3h0m5 0h0m-196.3 4.3h0m183.8 0h0m-186.3 4.3h0m169 0h0m-161.6 4.3h0m99.4 0h0m10 0h0m9.9 0h0m19.9 0h0m5 0h0m14.9 0h0m-37.3 4.3h0m14.9 0h0m9.9 0h0m-146.6 4.3h0m-44.7 8.6h0m54.7 0h0m0 17.2h0m7.4 21.6h0m17.4 30.1h0m-246 12.9h0m238.6 0h0m4.9 0h0m-2.5 4.3h0" stroke="#4c78be"/><path d="M353.1 67.5h0m-32.3 12.9h0m-7.4 4.3h0m5 0h0m-59.7 17.2h0m101.9 4.3h0m-106.9 4.3h0m109.4 0h0m-54.7 8.6h0m-27.3 4.3h0m-42.3 4.3h0m12.5 4.3h0m47.2 12.9h0m34.8 8.6h0m-32.3 4.3h0m29.8 77.5h0m-37.3 21.5h0m7.5 13h0m-7.5 4.3h0" stroke="#2aaed6"/><path d="M216.5 71.8h0m101.9 4.3h0m-27.4 12.9h0m29.8 0h0m-62.1 4.3h0m59.7 0h0m-39.8 17.2h0m9.9 17.2h0m12.5 4.3h0m7.4 12.9h0m-94.4 8.6h0m106.8 13h0m-17.4 4.3h0m111.9 47.3h0m-32.3 4.3h0m-64.6 25.8h0m-37.3 12.9h0m4.9 0h0m-4.9 8.7h0m9.9 0h0m32.3 4.3h0m-37.3 4.3h0" stroke="#1fb2d2"/><path d="M221.4 71.8h0m12.5 12.9h0m7.4 21.5h0m10 0h0m86.9 12.9h0m5 0h0m467.2 8.6h0m-439.9 4.3h0m432.4 0h0m-12.4 4.3h0m9.9 0h0m-7.4 4.3h0m-7.5 4.3h0m2.5 4.3h0m-22.3 4.3h0m9.9 0h0m-355.4 4.3h0m347.9 0h0m-166.5 4.3h0m-330.5 4.4h0m166.5 4.3h0m288.3 0h0m5 0h0m-499.5 4.3h0m69.6 0h0m415 4.3h0m-350.4 4.3h0m9.9 0h0m39.8 0h0m-111.9 4.3h0m10 0h0m64.6 0h0m226.1 4.3h0m99.4 0h0m5 0h0m-459.7 4.3h0m69.6 0h0m377.7 0h0m-484.6 4.3h0m24.8 0h0m5 0h0m84.5 0h0m372.8 0h0m-464.7 4.3h0m372.7 0h0m-370.3 4.3h0m94.5 0h0m-32.3 4.3h0m382.7 0h0m-77.1 4.3h0m69.6 0h0m5 0h0m4.9 0h0m-355.3 4.3h0m64.6 0h0m270.9 4.3h0m-484.6 4.3h0m44.7 0h0m429.9 4.3h0m14.9 0h0m-370.2 4.3h0m29.8 0h0m-161.5 4.3h0m161.5 4.3h0m315.6 4.3h0m14.9 0h0m94.4 0h0m-116.8 4.3h0m14.9 0h0m19.9 0h0m44.8 0h0m19.8 0h0m10 0h0m9.9 0h0m-603.8 4.3h0m69.5 0h0m551.7 0h0m-633.7 4.3h0m646.1 0h0m22.4 4.4h0m9.9 0h0m-688.3 4.3h0m203.8 0h0m-106.9 4.3h0m367.8 0h0m14.9 0h0m208.7 0h0m-583.9 4.3h0m34.8 0h0m566.5 0h0m-713.2 4.3h0m477.2 0h0m233.5 0h0m-588.9 4.3h0m99.4 0h0m228.6 0h0m19.9 0h0m-345.4 4.3h0m89.4 0h0m233.6 0h0m5 0h0m-191.3 4.3h0m183.9 0h0m-320.6 4.3h0m9.9 0h0m139.2 0h0m169 0h0m-156.6 4.3h0m124.3 0h0m19.8 0h0m-285.7 4.3h0m258.4 0h0m-22.4 4.3h0m-141.6 4.3h0m67.1 4.3h0m59.6 0h0m2.5 4.3h0m-186.4 4.3h0m57.2 4.3h0m2.5 4.3h0m-42.3 4.3h0m293.3 0h0m4.9 0h0m14.9 0h0m24.9 0h0m-330.5 4.3h0m34.8 0h0m283.3 0h0m9.9 0h0m29.8 0h0m-340.4 4.3h0m352.9 0h0m-360.4 4.3h0m5 0h0m5 8.6h0m-161.6 4.4h0m174 8.6h0m-181.4 4.3h0m198.8 8.6h0m-211.2 4.3h0m-14.9 17.2h0m-12.5 4.3h0m253.5 8.6h0m0 8.6h0m-2.5 4.3h0m22.4 47.4h0m-2.5 4.3h0m24.8 17.2h0" stroke="#5066b4"/><path d="M350.7 71.8h0m-37.3 4.3h0m-19.9 8.6h0m121.8 4.3h0m-151.6 21.5h0m9.9 0h0m14.9 0h0m-7.4 4.3h0m-14.9 17.2h0m29.8 0h0m79.5 25.8h0m-39.8 77.5h0m-109.3 8.6h0m94.4 8.6h0m-44.7 8.6h0m0 8.7h0m14.9 8.6h0" stroke="#14b5cf"/><path d="M296 80.4h0m19.9 8.6h0m-14.9 8.6h0m2.4 47.3h0m-4.9 8.6h0m4.9 0h0" stroke="#35beab"/><path d="M305.9 80.4h0m-42.2 12.9h0m34.8 0h0m-27.4 12.9h0m39.8 0h0m-54.7 25.8h0m5 0h0m-17.4 4.3h0m29.8 0h0m89.5 51.7h0m27.3 38.7h0m-62.1 4.3h0m313.1 25.8h0m-342.9 8.6h0m-27.4 4.4h0m34.8 0h0m-22.3 4.3h0m14.9 0h0m-27.4 4.3h0" stroke="#3aa4d2"/><path d="M310.9 80.4h0m-7.5 47.3h0m-9.9 25.8h0m14.9 8.6h0m32.3 64.6h0" stroke="#7cc466"/><path d="M315.9 80.4h0m-7.5 12.9h0m-7.4 30.1h0m-7.5 21.5h0m2.5 4.3h0m9.9 8.6h0m32.3 73.2h0" stroke="#45bf9e"/><path d="M298.5 84.7h0m24.8 0h0m-49.7 17.2h0m12.4 12.9h0m12.5 12.9h0m89.4 94.7h0" stroke="#58c08a"/><path d="M303.4 84.7h0m10 8.6h0m-67.1 4.3h0m57.1 12.9h0m-4.9 8.6h0m39.7 120.5h0" stroke="#6bc276"/><path d="M308.4 84.7h0m-2.5 4.3h0m-14.9 25.8h0m5 43h0m2.5 4.3h0m0 94.7h0" stroke="#8dc655"/><path d="M301 89h0m-2.5 12.9h0m9.9 8.6h0m-19.9 8.6h0m531.8 0h0m-514.4 4.3h0m-57.1 4.3h0m29.8 0h0m62.1 107.6h0m-47.2 30.1h0m84.5 103.3h0" stroke="#25bcb8"/><path d="M248.8 93.3h0m-7.5 21.5h0m49.7 8.6h0m-37.3 12.9h0m62.2 47.4h0m377.7 25.8h0m-367.8 8.6h0m59.6 8.6h0m-89.4 25.8h0m0 25.9h0m44.7 17.2h0m-2.5 4.3h0m19.9 25.8h0m94.4 0h0m-84.4 34.4h0m17.3 56h0m2.5 12.9h0m2.5 4.3h0" stroke="#4a90c9"/><path d="M303.4 93.3h0m-32.3 4.3h0m12.5 4.3h0m27.3 12.9h0m-64.6 17.2h0m29.8 0h0m27.3 30.1h0m29.9 60.3h0m2.4 4.3h0m-34.7 25.8h0m-22.4 4.3h0m462.2 0h0m-449.8 4.3h0m213.7 60.3h0m-139.1 25.8h0" stroke="#499acd"/><path d="M305.9 97.6h0m-52.2 4.3h0m24.9 0h0m-17.4 4.3h0m14.9 0h0m14.9 0h0m526.8 8.6h0m-2.4 4.3h0m-507 17.2h0m469.7 12.9h0m4.9 0h0m-12.4 4.3h0m-166.5 4.3h0m-298.2 8.7h0m0 8.6h0m407.6 17.2h0m-17.4 12.9h0m-367.8 8.6h0m338 17.2h0m-15 17.2h0m-320.5 4.3h0m347.9 0h0m14.9 0h0m19.9 0h0m-382.7 8.6h0m298.2 0h0m183.9 8.7h0m-509.5 4.3h0m29.9 8.6h0m250.9 4.3h0m-238.5 17.2h0m164 17.2h0m-139.2 34.4h0m5 25.9h0" stroke="#4a87c5"/><path d="M303.4 101.9h0m-42.2 12.9h0m-2.5 4.3h0m5 0h0m5 0h0m-17.4 4.3h0m19.8 0h0m-2.4 4.3h0" stroke="#f0e22f"/><path d="M293.5 110.5h0m-7.5 12.9h0m19.9 17.2h0" stroke="#d3b92c"/><path d="M298.5 110.5h0m39.7 111.9h0m-4.9 8.6h0m0 8.6h0" stroke="#acc83a"/><path d="M251.3 114.8h0m4.9 0h0m10 0h0m4.9 0h0m5 0h0m-22.4 4.3h0m19.9 0h0m-17.4 4.3h0m5 0h0m5 0h0m9.9 0h0m-22.4 4.3h0m19.9 0h0" stroke="#eee42f"/><path d="M296 114.8h0m5 0h0m-37.3 12.9h0m34.8 8.6h0m4.9 0h0m-7.4 4.3h0" stroke="#f6bc3a"/><path d="M278.6 119.1h0m34.8 0h0m-17.4 4.3h0m-5 8.6h0" stroke="#e2b633"/><path d="M293.5 119.1h0" stroke="#f3dc2e"/><path d="M258.7 127.7h0m42.3 21.5h0" stroke="#fbc63a"/><path d="M293.5 127.7h0" stroke="#f2b33a"/><path d="M308.4 153.5h0" stroke="#f2df2e"/><path d="M310.9 157.8h0" stroke="#c0c033"/><path d="M383 368.7h0" stroke="#f8d034"/><path d="M380.5 373.1h0" stroke="#f5da2e"/></g></g>
</defs>
<text x="482.2" y="36.1" font-size="33.3" text-anchor="middle" fill="#000" >Activity map</text>
<rect x="45" y="61" width="915" height="474" fill="#524fa7"/>
<g clip-path="url(#cpA)"><use href="#actc"/></g>
<rect x="75" y="501" width="154" height="14" fill="#fff"/>
<text x="92" y="483.7" font-size="33.3" fill="#fff">500 <tspan font-family="'Liberation Serif', 'Times New Roman', serif">&#956;</tspan>m</text>
<rect x="921" y="346" width="29" height="152" fill="url(#gA)" stroke="#000" stroke-width="2"/>
<text x="908" y="359.3" font-size="29" text-anchor="end" fill="#fff" >0</text>
<text x="908" y="435.3" font-size="29" text-anchor="end" fill="#fff" >&#8722;5</text>
<text x="908" y="511.3" font-size="29" text-anchor="end" fill="#fff" >&#8722;10</text>
<text x="918" y="323" font-size="29" fill="#fff"><tspan font-family="'Liberation Serif', 'Times New Roman', serif">&#956;</tspan>V</text>
<text x="479" y="591" font-size="33.3" text-anchor="middle" fill="#000" >Extracted axonal paths</text>
<rect x="48" y="610" width="909" height="471" fill="#524fa7"/>
<g clip-path="url(#cpE)"><use href="#actc" transform="translate(2.5,550.5)"/></g>
<g clip-path="url(#cpE)"><g fill="none" stroke-width="13.2" stroke-linecap="round"><path d="M338.1 624.6h0M351.4 619.3h0M362.0 619.3h0M409.7 632.5h0M413.7 636.5h0M355.4 645.8h0M369.9 645.8h0M362.0 655.0h0M367.3 663.0h0M362.0 668.3h0M369.9 667.0h0" stroke="#4862b2"/><path d="M266.6 800.8h0M266.6 811.4h0M262.6 822.0h0M249.4 824.6h0M245.4 831.3h0M248.1 836.6h0M240.1 840.5h0M216.8 827.3h0M240.1 841.3h0" stroke="#3f48a0"/><path d="M224.2 787.5h0M224.2 795.5h0M227.4 800.8h0M235.3 813.5h0M242.8 810.1h0M249.4 814.0h0M255.2 814.0h0M171.2 809.3h0M165.9 818.5h0M154.0 814.0h0M148.7 815.4h0M143.4 819.3h0M138.1 823.3h0M135.4 828.6h0M123.5 835.8h0M118.2 839.2h0M118.2 841.3h0" stroke="#5ab4de"/><path d="M356.2 734.0h0M369.1 739.0h0M366.8 752.3h0M387.2 742.5h0M389.8 747.8h0M364.1 765.0h0M374.4 765.0h0M380.5 765.0h0M400.4 729.2h0M408.4 734.0h0M413.7 738.5h0M419.0 743.8h0M425.6 747.8h0" stroke="#6ec6da"/><path d="M244.6 734.0h0M244.6 743.0h0M244.6 752.3h0M265.3 734.0h0M280.4 734.0h0M280.4 742.5h0M278.0 747.8h0M224.7 769.8h0M260.0 769.8h0M260.0 778.8h0M262.1 783.6h0M260.0 788.1h0" stroke="#ee7e22"/><path d="M607.8 712.0h0M612.8 739.0h0M636.1 751.8h0M641.4 751.8h0M645.4 757.1h0M652.0 761.0h0M633.5 761.0h0M632.1 766.3h0M633.5 774.3h0M666.6 761.0h0" stroke="#7cccae"/><path d="M644.1 800.8h0M658.6 800.8h0M674.0 800.8h0M693.1 800.8h0M691.8 806.1h0M705.0 800.8h0M711.6 806.1h0M719.6 810.1h0M731.5 806.1h0M738.1 806.1h0M744.7 800.8h0M746.1 807.4h0M747.4 814.0h0M765.9 810.1h0M775.2 808.7h0M775.2 819.3h0M785.8 810.1h0M800.4 808.7h0M804.4 815.4h0M813.6 814.6h0M808.3 823.3h0M816.3 827.3h0M813.6 832.6h0" stroke="#006b3a"/><path d="M595.0 893.8h0M610.9 893.0h0M616.2 894.3h0M612.8 898.8h0M638.8 898.3h0M649.4 898.3h0M656.0 898.3h0M666.6 893.8h0M670.6 907.6h0M674.5 907.6h0M685.1 904.9h0M693.1 898.3h0M693.1 907.6h0M699.7 907.6h0M776.5 880.3h0M781.8 880.3h0M792.4 875.8h0M792.4 880.3h0M799.1 880.3h0M804.4 875.8h0" stroke="#8b3f95"/><path d="M404.4 881.1h0M404.4 889.8h0M397.8 885.6h0M387.2 903.1h0M359.3 925.3h0M364.6 934.1h0M373.9 925.3h0M381.9 930.1h0M395.1 934.1h0M379.2 942.8h0M384.5 951.3h0M384.5 960.6h0M383.2 969.8h0M387.2 975.1h0M384.5 983.1h0M397.8 983.1h0M387.2 991.6h0M407.0 1044.6h0M412.3 1054.1h0M422.1 1054.1h0M440.2 1067.3h0M445.5 1074.5h0M452.1 1075.8h0" stroke="#93cd6e"/><path d="M262.6 827.3h0M279.8 822.0h0M252.0 844.5h0M252.6 845.3h0M242.8 854.6h0M236.7 872.3h0M239.3 885.0h0M232.2 889.8h0M199.0 912.1h0M188.4 919.5h0M185.8 925.3h0M185.8 932.7h0M188.4 938.6h0M173.9 947.3h0M168.6 956.1h0" stroke="#f5b82a"/><path d="M318.3 783.0h0M318.3 800.8h0M324.9 814.0h0M324.9 819.3h0M336.8 814.0h0M340.8 819.3h0M346.9 823.3h0M331.5 832.0h0M335.5 847.1h0M336.3 850.1h0M343.4 863.3h0M347.4 867.8h0M354.0 871.8h0M358.0 876.6h0M364.6 881.1h0" stroke="#eadf2a"/><path d="M338.9 783.6h0M348.7 800.8h0M359.3 809.3h0M364.1 819.3h0M391.9 847.1h0M391.9 850.1h0M405.7 854.6h0M415.0 863.3h0M422.9 867.8h0M462.7 858.5h0M460.0 863.3h0M475.9 872.3h0M494.5 876.6h0M503.7 876.6h0" stroke="#bdd631"/><path d="M818.9 663.8h0M821.6 676.2h0M826.9 676.2h0M828.2 682.9h0M826.9 686.8h0M836.2 685.5h0M844.6 690.3h0M821.6 695.3h0M815.0 698.8h0M805.7 703.3h0M796.4 712.0h0M788.5 717.3h0M781.8 716.5h0M752.7 725.8h0M736.8 734.5h0M727.5 734.5h0M716.9 743.8h0M714.3 747.8h0M707.7 752.6h0M702.4 761.0h0M699.7 766.3h0M686.5 769.8h0M679.3 765.0h0M667.9 774.3h0M666.6 769.0h0M650.7 778.8h0M646.7 796.8h0M648.0 800.8h0M638.8 808.7h0M634.8 806.1h0M625.5 814.0h0M612.8 827.3h0M600.3 832.0h0M592.4 836.6h0M554.8 841.1h0M544.2 848.5h0M554.8 841.3h0M544.7 850.1h0M538.9 858.5h0M529.3 867.3h0M516.3 871.8h0M503.6 876.6h0" stroke="#c8d935"/><path d="M371.8 707.5h0M389.8 712.0h0M407.0 707.5h0M415.0 712.0h0M430.1 721.3h0M442.8 734.0h0M442.8 742.5h0M430.1 757.1h0M422.9 761.6h0M415.0 765.8h0M424.3 765.0h0M415.0 774.3h0M427.4 814.6h0M407.0 840.5h0M407.0 847.1h0M219.7 920.8h0M260.0 911.5h0M267.9 907.6h0M371.3 858.5h0M407.0 842.6h0M407.0 850.1h0M403.1 867.8h0M401.7 873.1h0M395.1 880.3h0M320.9 883.7h0M316.9 893.0h0M315.6 887.7h0M379.2 898.3h0M369.9 907.6h0M375.2 907.6h0M354.0 916.3h0M359.3 916.3h0M395.1 916.3h0" stroke="#e5482a"/><path d="M275.3 796.8h0M295.7 805.5h0M301.8 805.5h0M316.2 805.5h0M270.0 832.0h0M277.2 827.3h0M287.8 827.3h0M290.4 822.0h0M387.2 832.0h0M356.7 847.1h0M362.0 847.1h0M293.1 863.3h0M301.0 867.8h0M306.3 867.8h0M316.9 867.8h0M323.6 867.8h0M310.3 876.6h0M328.9 889.0h0M336.8 894.3h0M233.5 907.6h0M238.2 907.6h0M356.7 850.1h0M362.0 850.1h0" stroke="#dc2626"/></g></g>
<rect x="70.5" y="1045.4" width="153" height="14.6" fill="#fff"/>
<text x="87" y="1025.5" font-size="33.3" fill="#fff">500 <tspan font-family="'Liberation Serif', 'Times New Roman', serif">&#956;</tspan>m</text>
<rect x="915" y="900" width="29" height="154" fill="url(#gA)"/>
<text x="900.9" y="913.3" font-size="29" text-anchor="end" fill="#fff" >0</text>
<text x="900.9" y="989.3" font-size="29" text-anchor="end" fill="#fff" >&#8722;5</text>
<text x="900.9" y="1065.3" font-size="29" text-anchor="end" fill="#fff" >&#8722;10</text>
<text x="906" y="876.3" font-size="29" fill="#fff"><tspan font-family="'Liberation Serif', 'Times New Roman', serif">&#956;</tspan>V</text>
<rect x="48" y="610.4" width="909" height="470.4" fill="none" stroke="#000" stroke-width="2"/>
<text x="1479.7" y="36" font-size="33.3" text-anchor="middle" fill="#000" >Latency map</text>
<g><g fill="none" stroke-width="5.8" stroke-linecap="round" ><path d="M1194.6 57.9h0m4.9 0h0m10 0h0m5 0h0m-12.5 4.3h0m5 0h0m-7.5 4.3h0m10 0h0m166.5 4.3h0m-24.9 17.2h0m-7.4 4.3h0m4.9 0h0m-37.2 4.3h0m34.8 0h0m4.9 0h0m5 0h0m-42.2 4.3h0m-84.5 8.6h0m2.4 4.4h0m111.9 4.3h0m4.9 0h0m10 0h0m5 0h0m4.9 0h0m-22.3 4.3h0m4.9 0h0m5 0h0m14.9 0h0m-91.9 4.3h0m74.5 0h0m-12.4 4.3h0m5 0h0m9.9 0h0m9.9 0h0m-116.8 4.3h0m94.5 0h0m4.9 0h0m5 0h0m5 0h0m5 0h0m12.4 4.3h0m-126.8 4.3h0m146.7 4.3h0m7.4 4.3h0m5 0h0m14.9 0h0m-37.3 4.3h0m19.9 0h0m5 0h0m-27.4 4.3h0m5 0h0m-141.6 4.3h0m139.1 0h0m10 0h0m24.8 0h0m-176.4 4.3h0m29.8 0h0m109.3 0h0m10 0h0m24.8 0h0m5 0h0m-191.4 4.3h0m5 0h0m5 0h0m9.9 0h0m10 0h0m14.9 0h0m104.3 0h0m5 0h0m29.8 0h0m-186.3 4.3h0m4.9 0h0m5 0h0m29.8 0h0m5 0h0m114.3 0h0m29.8 0h0m5 0h0m5 0h0m4.9 0h0m5 0h0m-211.2 4.3h0m4.9 0h0m24.9 0h0m14.9 0h0m149.1 0h0m9.9 0h0m-166.4 4.3h0m159 0h0m5 0h0m4.9 0h0m-211.2 4.3h0m39.8 0h0m109.3 0h0m5 0h0m34.8 0h0m4.9 0h0m10 0h0m-196.3 4.3h0m193.8 0h0m-201.3 4.3h0m9.9 0h0m129.3 0h0m-131.7 4.3h0m124.2 0h0m5 0h0m5 0h0m4.9 0h0m-67.1 4.3h0m49.7 0h0m5 0h0m5 0h0m9.9 0h0m5 0h0m-77.1 4.3h0m5 0h0m114.3 0h0m-42.2 4.4h0m2.5 4.3h0m4.9 0h0m5 0h0m19.9 0h0m5 0h0m-164.1 17.2h0m5 0h0m5 0h0m5 0h0m9.9 0h0m5 0h0m4.9 0h0m5 0h0m-57.2 4.3h0m5 0h0m5 0h0m19.9 0h0m4.9 0h0m5 0h0m5 0h0m4.9 0h0m10 0h0m5 0h0m-67.1 4.3h0m4.9 0h0m10 0h0m4.9 0h0m5 0h0m14.9 0h0m5 0h0m5 0h0m9.9 0h0m-57.2 4.3h0m15 0h0m14.9 0h0m24.8 0h0m10 0h0m4.9 0h0m-67.1 4.3h0m10 0h0m19.9 0h0m9.9 0h0m5 0h0m4.9 0h0m10 0h0m-62.2 4.3h0m10 0h0m19.9 0h0m4.9 0h0m19.9 0h0m-47.2 4.3h0m19.9 0h0m5 0h0m4.9 0h0m10 0h0m4.9 0h0m-52.2 4.3h0m19.9 0h0m19.9 0h0m-27.3 4.3h0m9.9 0h0m10 0h0m-17.4 4.3h0m4.9 0h0m5 0h0m5 0h0m9.9 0h0m-42.2 4.3h0m4.9 0h0m5 0h0m9.9 0h0m10 0h0m-27.4 4.3h0m10 0h0m5 0h0m4.9 0h0m5 0h0m104.4 0h0m-131.7 4.3h0m14.9 0h0m79.5 0h0m44.7 0h0m-42.2 4.3h0m72 4.3h0m5 0h0m-72.1 4.3h0m79.6 0h0m14.9 0h0m4.9 0h0m-201.2 4.3h0m114.3 0h0m54.6 0h0m-62.1 4.3h0m59.7 0h0m-171.5 4.3h0m119.3 0h0m4.9 0h0m69.6 0h0m-191.3 4.4h0m114.3 0h0m9.9 0h0m10 0h0m4.9 0h0m34.8 0h0m5 0h0m-181.4 4.3h0m5 0h0m119.2 0h0m5 0h0m5 0h0m5 0h0m4.9 0h0m-146.6 4.3h0m5 0h0m124.2 0h0m34.8 8.6h0m17.4 21.5h0" stroke="#f4b83a"/><path d="M1204.5 57.9h0m7.5 4.3h0m164 0h0m4.9 0h0m-186.3 4.3h0m9.9 0h0m169 0h0m-27.3 21.5h0m9.9 0h0m-52.2 4.3h0m49.7 0h0m5 0h0m-17.4 4.3h0m2.5 4.3h0m-17.4 4.3h0m14.9 0h0m2.5 4.3h0m-2.5 4.4h0m5 0h0m14.9 8.6h0m4.9 0h0m-22.3 4.3h0m4.9 0h0m10 0h0m5 0h0m4.9 0h0m-17.4 4.3h0m10 0h0m-82 4.3h0m94.4 0h0m5 0h0m-17.4 4.3h0m4.9 0h0m5 0h0m2.5 4.3h0m5 0h0m12.4 21.5h0m34.8 0h0m-37.3 4.3h0m9.9 0h0m29.9 0h0m-37.3 4.3h0m5 0h0m4.9 0h0m19.9 0h0m5 0h0m4.9 0h0m-193.8 8.6h0m188.9 0h0m9.9 0h0m-211.2 4.3h0m5 0h0m208.7 0h0m-211.2 4.3h0m4.9 0h0m149.1 0h0m39.8 0h0m9.9 0h0m-62.1 4.3h0m-141.6 4.3h0m139.1 0h0m54.7 0h0m-196.3 4.3h0m193.8 0h0m-206.2 4.3h0m154 0h0m54.7 0h0m-151.6 30.2h0m24.9 0h0m-47.2 4.3h0m4.9 0h0m5 0h0m29.8 0h0m-62.1 4.3h0m34.8 0h0m5 0h0m19.8 0h0m10 0h0m4.9 0h0m-62.1 4.3h0m5 0h0m9.9 0h0m14.9 0h0m5 0h0m5 0h0m4.9 0h0m10 0h0m-62.1 4.3h0m9.9 0h0m29.8 0h0m19.9 0h0m-52.2 4.3h0m19.9 0h0m14.9 0h0m5 0h0m4.9 0h0m-52.1 4.3h0m4.9 0h0m19.9 0h0m19.9 0h0m-27.3 4.3h0m9.9 0h0m5 0h0m4.9 0h0m10 0h0m-47.2 4.3h0m19.8 0h0m10 0h0m9.9 0h0m-2.5 4.3h0m-47.2 4.3h0m5 0h0m19.9 0h0m9.9 0h0m10 0h0m-42.3 4.3h0m5 0h0m9.9 0h0m-2.5 4.3h0m5 0h0m9.9 0h0m69.6 0h0m10 0h0m44.7 0h0m-52.2 4.3h0m9.9 0h0m5 0h0m39.8 0h0m9.9 0h0m5 0h0m5 0h0m-72.1 4.3h0m5 0h0m4.9 0h0m59.7 0h0m-57.2 4.3h0m59.7 0h0m4.9 0h0m5 0h0m-72.1 4.3h0m5 0h0m54.7 0h0m9.9 0h0m5 0h0m-181.4 4.3h0m114.3 0h0m59.6 0h0m5 0h0m5 0h0m-72.1 4.3h0m54.7 0h0m4.9 0h0m5 0h0m-57.1 4.4h0m9.9 0h0m39.8 0h0m14.9 0h0m-17.4 4.3h0m9.9 0h0m-12.4 4.3h0m5 0h0m-7.5 4.3h0m5 0h0" stroke="#edb438"/><path d="M1219.4 57.9h0m5 0h0m5 0h0m4.9 0h0m14.9 0h0m34.8 0h0m-67.1 4.3h0m5 0h0m5 0h0m4.9 0h0m49.7 0h0m24.9 0h0m-87 4.3h0m10 0h0m64.6 0h0m4.9 0h0m5 0h0m5 0h0m-96.9 4.3h0m9.9 0h0m5 0h0m19.9 0h0m34.7 0h0m15 0h0m4.9 0h0m5 0h0m5 0h0m-87 4.3h0m5 0h0m14.9 0h0m14.9 0h0m5 0h0m19.8 0h0m10 0h0m9.9 0h0m5 0h0m5 0h0m-97 4.3h0m10 0h0m9.9 0h0m5 0h0m9.9 0h0m5 0h0m5 0h0m24.8 0h0m5 0h0m14.9 0h0m5 0h0m4.9 0h0m-96.9 4.3h0m14.9 0h0m5 0h0m9.9 0h0m34.8 0h0m19.9 0h0m14.9 0h0m-101.9 4.3h0m14.9 0h0m15 0h0m4.9 0h0m5 0h0m5 0h0m4.9 0h0m14.9 0h0m19.9 0h0m10 0h0m4.9 0h0m-91.9 4.3h0m5 0h0m4.9 0h0m5 0h0m5 0h0m4.9 0h0m10 0h0m9.9 0h0m10 0h0m4.9 0h0m10 0h0m4.9 0h0m10 0h0m5 0h0m-87 4.3h0m4.9 0h0m5 0h0m5 0h0m5 0h0m24.8 0h0m5 0h0m4.9 0h0m5 0h0m5 0h0m5 0h0m4.9 0h0m5 0h0m-67.1 4.3h0m5 0h0m34.8 0h0m4.9 0h0m14.9 0h0m5 0h0m14.9 0h0m-96.9 4.3h0m5 0h0m4.9 0h0m5 0h0m10 0h0m34.7 0h0m5 0h0m5 0h0m5 0h0m4.9 0h0m5 0h0m9.9 0h0m-77 4.3h0m5 0h0m4.9 0h0m34.8 0h0m10 0h0m19.9 0h0m-87 4.4h0m9.9 0h0m39.8 0h0m4.9 0h0m10 0h0m5 0h0m4.9 0h0m-72 4.3h0m9.9 0h0m5 0h0m9.9 0h0m5 0h0m9.9 0h0m29.8 0h0m15 0h0m-87 4.3h0m4.9 0h0m10 0h0m5 0h0m4.9 0h0m10 0h0m4.9 0h0m24.9 0h0m5 0h0m4.9 0h0m5 0h0m-87 4.3h0m5 0h0m5 0h0m4.9 0h0m14.9 0h0m5 0h0m5 0h0m5 0h0m4.9 0h0m5 0h0m9.9 0h0m5 0h0m5 0h0m4.9 0h0m5 0h0m5 0h0m5 0h0m-87 4.3h0m14.9 0h0m5 0h0m9.9 0h0m14.9 0h0m9.9 0h0m5 0h0m5 0h0m9.9 0h0m5 0h0m-52.2 4.3h0m5 0h0m5 0h0m4.9 0h0m5 0h0m34.8 0h0m-57.2 4.3h0m5 0h0m39.8 0h0m4.9 0h0m5 0h0m5 0h0m-37.3 4.3h0m5 0h0m9.9 0h0m5 0h0m4.9 0h0m5 0h0m10 0h0m4.9 0h0m-67.1 4.3h0m29.8 0h0m10 0h0m5 0h0m9.9 0h0m9.9 0h0m10 0h0m14.9 0h0m-57.2 4.3h0m10 0h0m9.9 0h0m29.8 0h0m-52.2 4.3h0m5 0h0m5 0h0m5 0h0m4.9 0h0m5 0h0m9.9 0h0m-17.4 4.3h0m5 0h0m5 0h0m9.9 0h0m5 0h0m-42.3 4.3h0m10 0h0m5 0h0m9.9 0h0m5 0h0m34.8 0h0m-52.2 4.3h0m19.9 0h0m-7.5 4.3h0m14.9 0h0m-32.3 4.3h0m5 0h0m4.9 0h0m24.9 0h0m-22.4 4.3h0m5 0h0m-12.4 4.3h0m9.9 0h0m-7.4 4.3h0m9.9 0h0m5 0h0m4.9 0h0m-12.4 4.3h0m5 0h0m9.9 0h0m-17.4 4.3h0m14.9 0h0m5 0h0m-7.4 4.3h0m-7.5 4.3h0m5 0h0m4.9 0h0m-7.4 4.3h0m9.9 0h0m-7.4 4.4h0m4.9 0h0m5 0h0m-22.4 4.3h0m10 0h0m5 0h0m4.9 0h0m-7.4 4.3h0m14.9 8.6h0m2.5 4.3h0m-17.4 4.3h0m14.9 0h0" stroke="#f1e02f"/><path d="M1239.3 57.9h0m39.8 0h0m-2.5 4.3h0m-52.2 4.3h0m59.6 0h0m-77 4.3h0m9.9 0h0m14.9 0h0m-17.3 4.3h0m4.9 0h0m14.9 0h0m5 0h0m9.9 0h0m5 0h0m24.9 0h0m9.9 0h0m9.9 0h0m-77 4.3h0m74.6 0h0m4.9 0h0m-77 4.3h0m19.9 0h0m9.9 0h0m34.8 0h0m5 0h0m4.9 0h0m10 0h0m5 0h0m-92 4.3h0m5 0h0m9.9 0h0m5 0h0m44.7 0h0m5 0h0m5 0h0m9.9 0h0m-52.2 4.3h0m34.8 0h0m-67.1 4.3h0m29.8 0h0m5 0h0m5 0h0m4.9 0h0m49.7 0h0m-91.9 4.3h0m9.9 0h0m14.9 0h0m44.8 0h0m-17.4 4.3h0m34.8 0h0m9.9 0h0m-96.9 4.3h0m9.9 0h0m39.8 0h0m5 0h0m9.9 0h0m9.9 0h0m5 0h0m5 0h0m-62.1 4.4h0m24.8 0h0m14.9 0h0m19.9 0h0m5 0h0m-77.1 4.3h0m14.9 0h0m39.8 0h0m5 0h0m9.9 0h0m5 0h0m-72.1 4.3h0m34.8 0h0m14.9 0h0m24.9 0h0m4.9 0h0m-72 4.3h0m74.5 0h0m-87 4.3h0m5 0h0m14.9 0h0m14.9 0h0m10 0h0m34.8 0h0m4.9 0h0m-32.3 4.3h0m5 0h0m14.9 0h0m14.9 0h0m-42.2 4.3h0m4.9 0h0m5 0h0m5 0h0m24.8 0h0m-7.4 4.3h0m29.8 0h0m5 0h0m-57.2 4.3h0m14.9 0h0m10 0h0m9.9 0h0m9.9 0h0m-32.3 4.3h0m10 0h0m5 0h0m29.8 0h0m-32.3 4.3h0m9.9 0h0m14.9 0h0m5 0h0m-57.2 4.3h0m44.8 0h0m14.9 0h0m-57.2 4.3h0m14.9 0h0m14.9 0h0m5 0h0m5 0h0m4.9 0h0m5 0h0m-47.2 4.3h0m9.9 0h0m5 0h0m5 0h0m9.9 0h0m5 0h0m5 0h0m4.9 0h0m-42.2 4.3h0m5 0h0m34.7 0h0m5 0h0m5 0h0m-37.3 4.3h0m24.9 0h0m4.9 0h0m5 0h0m-47.2 4.3h0m5 0h0m29.8 0h0m4.9 0h0m10 0h0m5 0h0m-47.3 4.3h0m29.9 0h0m9.9 0h0m-37.3 4.3h0m34.8 0h0m10 0h0m-47.3 4.3h0m15 0h0m9.9 0h0m5 0h0m-22.4 4.3h0m5 0h0m14.9 0h0m19.9 0h0m-37.3 4.3h0m9.9 0h0m5 0h0m5 0h0m19.8 0h0m-27.3 4.3h0m9.9 0h0m-17.3 4.3h0m14.9 0h0m9.9 0h0m9.9 0h0m-42.2 4.4h0m-2.5 4.3h0m29.8 0h0m-17.4 4.3h0m10 0h0m-17.4 4.3h0m5 0h0m4.9 0h0m5 0h0m-17.4 4.3h0m9.9 0h0m5 0h0m-22.4 4.3h0m5 0h0m5 0h0m-2.5 4.3h0m9.9 0h0m5 0h0m9.9 0h0" stroke="#f2de2e"/><path d="M1244.3 57.9h0m-10 8.6h0m44.8 0h0m7.4 4.3h0m5 0h0m-22.4 4.3h0m5 0h0m-42.3 4.3h0m15 0h0m-17.4 4.3h0m29.8 0h0m17.4 4.3h0m-57.2 4.3h0m44.8 0h0m-34.8 8.6h0m44.7 0h0m14.9 0h0m19.9 0h0m-67.1 4.3h0m0 8.7h0m9.9 0h0m5 8.6h0m-17.4 4.3h0m22.4 4.3h0m34.8 0h0m-2.5 4.3h0m4.9 0h0m-27.3 4.3h0m-17.4 4.3h0m29.8 0h0m-7.4 4.3h0m2.5 4.3h0m9.9 0h0m29.8 0h0m-29.8 8.6h0m5 0h0m19.9 0h0m-29.9 8.6h0m2.5 4.3h0m14.9 0h0m-14.9 8.6h0m34.8 8.6h0" stroke="#efe22f"/><path d="M1274.1 57.9h0m49.7 0h0m5 0h0m4.9 0h0m10 0h0m9.9 0h0m5 0h0m-47.2 4.3h0m14.9 0h0m9.9 0h0m-62.1 4.3h0m39.8 0h0m9.9 0h0m9.9 0h0m5 0h0m-87 4.3h0m64.6 0h0m10 0h0m4.9 0h0m-12.4 4.3h0m10 0h0m4.9 0h0m17.4 64.6h0m2.5 4.3h0m-161.5 4.3h0m159 0h0m5 0h0m5 0h0m4.9 0h0m10 0h0m-27.4 4.3h0m10 0h0m5 0h0m14.9 0h0m-17.4 4.3h0m9.9 0h0m-17.4 4.3h0m5 0h0m5 0h0m4.9 0h0m-17.4 4.3h0m10 0h0m9.9 0h0m9.9 0h0m-32.3 4.3h0m5 0h0m5 0h0m5 0h0m4.9 0h0m5 0h0m5 0h0m-27.4 4.3h0m10 0h0m4.9 0h0m-17.4 4.3h0m5 0h0m5 0h0m14.9 0h0m-22.4 4.3h0m5 0h0m5 0h0m-12.5 4.3h0m10 0h0m9.9 0h0m5 0h0m-22.4 4.3h0m5 0h0m9.9 0h0m-17.4 4.3h0m5 0h0m5 0h0m5 0h0" stroke="#f8d034"/><path d="M1308.9 57.9h0m29.8 0h0m9.9 0h0m-32.3 4.3h0m2.5 4.3h0m10 0h0m-5 8.6h0m-2.5 4.3h0m5 0h0m4.9 0h0" stroke="#f6d82f"/><path d="M1313.9 57.9h0m4.9 0h0m-67.1 4.3h0m5 0h0m64.6 0h0m9.9 0h0m10 0h0m5 0h0m-97 4.3h0m15 0h0m4.9 0h0m-7.4 4.3h0m4.9 0h0m10 0h0m44.7 0h0m14.9 0h0m-129.2 68.9h0m5 0h0m144.1 0h0m-151.6 4.3h0m144.1 0h0m10 0h0m5 0h0m4.9 0h0m-171.4 4.3h0m173.9 0h0m-176.4 4.3h0m159 0h0m14.9 0h0m5 0h0m-22.4 4.3h0m5 0h0m19.9 0h0m4.9 0h0m-32.3 4.3h0m24.9 0h0m5 0h0m-22.4 4.3h0m9.9 0h0m10 0h0m-109.4 8.6h0m89.5 0h0m14.9 0h0m5 0h0m-12.4 4.3h0m4.9 0h0m-2.5 4.3h0m5 0h0m5 0h0m-22.4 4.3h0m10 0h0m-97 4.3h0m94.5 0h0m-10 8.6h0m5 0h0m-47.2 47.4h0m5 0h0m4.9 0h0m5 0h0m9.9 0h0m14.9 0h0m-42.2 4.3h0m5 0h0m4.9 0h0m5 0h0m9.9 0h0m5 0h0m5 0h0m5 0h0m4.9 0h0m-47.2 4.3h0m10 0h0m4.9 0h0m-12.4 4.3h0m24.8 0h0m5 0h0m10 0h0m4.9 0h0m5 0h0m-47.2 4.3h0m5 0h0m4.9 0h0m10 0h0m9.9 0h0m5 0h0m4.9 0h0m5 0h0m-37.3 4.3h0m5 0h0m5 0h0m9.9 0h0m5 0h0m5 0h0m-27.4 4.3h0m5 0h0m5 0h0m-7.5 4.3h0m-2.5 4.3h0" stroke="#fac839"/><path d="M1197.1 62.2h0m64.6 0h0m4.9 0h0m5 0h0m-57.1 4.3h0m39.7 0h0m5 0h0m-2.5 4.3h0m14.9 0h0m64.6 34.4h0m32.3 30.2h0m-166.5 4.3h0m-7.4 4.3h0m4.9 0h0m201.3 4.3h0m-211.2 4.3h0m52.2 12.9h0m-2.5 4.3h0m39.8 0h0m-22.4 4.3h0m14.9 0h0m9.9 0h0m-27.3 4.3h0m5 0h0m5 0h0m14.9 0h0m4.9 0h0m-22.3 4.3h0m4.9 0h0m10 0h0m4.9 0h0m-47.2 4.3h0m24.9 0h0m9.9 0h0m5 0h0m-49.7 8.6h0m193.8 0h0m-114.3 8.6h0m119.3 0h0m-121.8 13h0m34.8 25.8h0m5 0h0m5 0h0m-106.9 4.3h0m64.6 0h0m24.9 0h0m9.9 0h0m5 0h0m-17.4 4.3h0m-17.4 4.3h0m14.9 0h0m5 0h0m4.9 0h0m5 0h0m5 0h0m4.9 0h0m5 0h0m-42.2 4.3h0m4.9 0h0m5 0h0m5 0h0m14.9 0h0m-17.4 4.3h0m9.9 0h0m-22.3 4.3h0m39.7 0h0m-77 4.3h0m39.8 0h0m29.8 0h0m4.9 0h0m-106.8 4.3h0m74.5 0h0m10 0h0m-2.5 4.3h0m-2.5 4.3h0m5 0h0" stroke="#f8c03a"/><path d="M1378.5 66.5h0m0 8.6h0m-129.3 137.7h0m131.7 81.8h0m2.5 4.3h0m29.9 8.6h0m2.4 4.3h0m-7.4 4.3h0m5 0h0m-15 8.7h0" stroke="#e0b632"/><path d="M1395.9 70.8h0m-42.3 142h0m10 0h0m-7.5 4.4h0m-2.5 4.3h0m14.9 0h0m5 0h0m-17.4 4.3h0m9.9 0h0m-203.7 25.8h0m94.4 0h0m-124.3 8.6h0m5 0h0m5 0h0m5 0h0m9.9 0h0m89.5 0h0m-116.8 4.3h0m14.9 0h0m99.4 0h0m-10 8.6h0m5 0h0m303.2 8.6h0m4.9 0h0m-151.5 4.3h0m139.1 0h0m5 0h0m-315.6 4.3h0m169 0h0m139.1 0h0m-2.5 4.3h0m-12.4 4.3h0m14.9 0h0m-146.6 4.3h0m5 0h0m134.2 0h0m4.9 0h0m-17.3 4.3h0m9.9 0h0m5 0h0m-12.5 4.3h0m5 0h0m5 0h0m-7.5 4.3h0m5 0h0m5 0h0m-146.7 13h0m2.5 4.3h0m-223.6 60.2h0m-2.5 4.3h0m-5 8.6h0" stroke="#7cc466"/><path d="M1398.3 75.1h0m2.5 4.3h0m29.8 129.1h0m-62.1 4.3h0m-2.5 4.4h0m-2.4 4.3h0m-226.2 30.1h0m5 0h0m5 0h0m-12.5 4.3h0m10 0h0m4.9 0h0m10 0h0m-7.5 4.3h0m-17.4 4.3h0m14.9 0h0m5 0h0m385.2 12.9h0m-146.6 4.3h0m126.7 12.9h0m9.9 17.2h0m-17.3 4.3h0m22.3 4.4h0m14.9 0h0m-233.6 8.6h0m47.3 38.7h0m4.9 0h0m5 0h0m9.9 0h0m-17.4 4.3h0m14.9 0h0m5 0h0m5 0h0m-27.3 4.3h0m9.9 0h0m5 0h0m4.9 0h0m-7.4 4.3h0m9.9 0h0m-17.4 4.3h0m5 0h0m9.9 0h0m10 0h0m-231.1 4.3h0m193.8 0h0m19.9 0h0m4.9 0h0m5 0h0m5 0h0m-236.1 12.9h0" stroke="#6ec273"/><path d="M1274.1 92.3h0m109.3 86.1h0m0 8.6h0m-134.2 34.5h0m-2.4 4.3h0m0 8.6h0m-2.5 4.3h0m156.5 55.9h0m-119.3 8.6h0m5 0h0m5 0h0m9.9 0h0m-12.4 4.3h0m5 0h0m14.9 0h0m-17.4 4.3h0m5 0h0m9.9 0h0m159 0h0m5 0h0m-2.5 4.3h0m14.9 0h0m2.5 4.4h0m-114.3 8.6h0m19.9 8.6h0m-19.9 8.6h0m14.9 0h0m-206.2 4.3h0m2.4 4.3h0m188.9 0h0m9.9 0h0m10 0h0m-211.2 4.3h0m9.9 0h0m188.9 0h0m9.9 0h0m-216.2 4.3h0m5 0h0m193.8 0h0m9.9 0h0m-211.2 4.3h0m5 0h0m-2.5 4.3h0m2.5 4.3h0" stroke="#a4c841"/><path d="M1348.6 100.9h0m5 0h0m-7.4 4.3h0m9.9 0h0m-7.5 4.3h0m2.5 4.4h0m57.2 64.5h0m2.5 4.3h0m4.9 0h0m-2.4 4.3h0m-29.9 8.6h0m5 0h0m5 0h0m4.9 0h0m-17.4 4.3h0m10 0h0m5 0h0m19.8 0h0m-37.2 4.3h0m4.9 0h0m5 0h0m9.9 0h0m5 0h0m10 0h0m-27.4 4.3h0m14.9 0h0m5 0h0m5 0h0m4.9 0h0m-17.4 4.3h0m5 0h0m-22.4 4.4h0m10 0h0m5 0h0m4.9 0h0m10 0h0m4.9 0h0m-206.2 12.9h0m2.5 4.3h0m4.9 8.6h0m2.5 4.3h0m193.9 0h0m-196.4 4.3h0m5 0h0m-17.4 4.3h0m10 0h0m4.9 0h0m193.9 0h0m4.9 0h0m-211.2 4.3h0m14.9 0h0m5 0h0m-32.3 4.3h0m4.9 0h0m15 0h0m4.9 0h0m-2.5 4.3h0m10 0h0m216.2 30.1h0m64.6 8.6h0m-12.4 4.3h0m4.9 0h0m10 0h0m-14.9 8.7h0m-121.8 12.9h0" stroke="#c3bf32"/><path d="M1358.6 100.9h0m-5 8.6h0m5 0h0m-2.5 4.4h0m22.4 64.5h0m34.8 0h0m-32.4 4.3h0m-168.9 43.1h0m2.5 4.3h0m34.7 0h0m-7.4 4.3h0m-27.3 4.3h0m12.4 12.9h0m188.8 0h0m-221.1 4.3h0m4.9 0h0m24.9 0h0m-32.3 4.3h0m5 0h0m4.9 0h0m10 0h0m4.9 0h0m-12.4 4.3h0m5 0h0m14.9 0h0m-12.4 4.3h0m9.9 0h0m2.5 4.3h0m164 17.2h0m-99.4 8.6h0m159 0h0m-151.5 4.3h0m149.1 0h0m4.9 0h0m5 0h0m54.7 0h0m-226.2 4.3h0m14.9 0h0m5 0h0m149.1 0h0m5 0h0m5 0h0m39.7 0h0m-216.2 4.3h0m14.9 0h0m159.1 0h0m14.9 0h0m29.8 0h0m-211.2 4.3h0m4.9 0h0m174 0h0m5 0h0m9.9 0h0m5 0h0m4.9 0h0m5 0h0m5 0h0m-17.4 4.4h0m9.9 0h0m5 0h0m5 0h0m-134.2 8.6h0m-5 8.6h0m5 0h0m4.9 0h0m-7.4 4.3h0m5 0h0m4.9 0h0m5 0h0m5 0h0m-17.4 4.3h0m4.9 0h0m10 0h0m-22.4 4.3h0m5 0h0m5 0h0m4.9 0h0m5 0h0m-12.4 4.3h0m9.9 0h0m-211.2 4.3h0m193.8 0h0m5 0h0m9.9 0h0m-17.4 4.3h0m10 0h0m9.9 0h0m-208.7 17.2h0" stroke="#b3c538"/><path d="M1351.1 105.2h0m10 8.7h0m17.4 81.7h0m24.8 0h0m5 0h0m5 0h0m-27.4 4.3h0m14.9 0h0m5 0h0m5 0h0m-17.4 4.3h0m14.9 0h0m-161.5 4.3h0m134.1 0h0m10 0h0m5 0h0m-17.4 4.3h0m4.9 0h0m5 0h0m5 0h0m14.9 0h0m5 0h0m-27.4 4.4h0m19.9 0h0m-27.3 73.1h0m4.9 0h0" stroke="#d3b92c"/><path d="M1589.7 105.2h0m2.5 4.3h0m186.3 142.1h0m10 0h0m5 0h0m4.9 0h0m5 0h0m5 0h0m-32.3 4.3h0m9.9 0h0m5 0h0m4.9 0h0m5 0h0m5 0h0m5 0h0m-22.4 4.3h0m14.9 0h0m-22.4 4.3h0m10 0h0m4.9 0h0m10 0h0m-12.4 4.3h0m19.8 0h0m-12.4 4.3h0m10 0h0m-589 73.2h0m2.5 4.3h0" stroke="#5164b3"/><path d="M1594.7 105.2h0m198.8 17.3h0m14.9 8.6h0m4.9 0h0m-7.4 4.3h0m5 0h0m-15 8.6h0m5 0h0m-14.9 103.3h0m-2.5 4.3h0m-2.5 4.3h0m-2.5 4.3h0m29.9 0h0m4.9 0h0m-12.4 4.3h0m10 0h0m-27.4 4.3h0m14.9 0h0m5 0h0m5 0h0m-12.5 4.3h0m10 0h0m-598.9 90.4h0" stroke="#5261b1"/><path d="M1808.4 105.2h0m2.5 4.3h0m4.9 0h0m-7.4 4.4h0m4.9 0h0m-2.4 4.3h0m2.4 4.3h0m5 0h0m-7.4 4.3h0m4.9 0h0m17.4 4.3h0m-129.2 154.9h0m82 30.1h0m-22.4 4.4h0m5 0h0m5 0h0m14.9 0h0" stroke="#5458ab"/><path d="M1813.3 105.2h0m2.5 13h0m5 8.6h0m-29.8 189.3h0" stroke="#5356aa"/><path d="M1788.5 122.5h0m9.9 17.2h0m5 0h0m5 0h0m-109.4 137.7h0m2.5 4.3h0" stroke="#535dae"/><path d="M1346.2 139.7h0m-10 8.6h0m10 0h0m-22.4 4.3h0m5 0h0m9.9 0h0m-12.4 4.3h0m4.9 0h0m15 0h0m-12.5 4.3h0m7.5 4.3h0m-2.5 4.3h0m5 0h0m-17.4 4.3h0m19.9 0h0m-2.5 4.3h0m-7.5 4.3h0m-12.4 4.3h0m9.9 0h0m10 0h0m-17.4 4.3h0m4.9 0h0m12.5 12.9h0m-17.4 4.3h0m9.9 0h0m5 0h0m5 0h0m-22.4 4.3h0m9.9 0h0m10 0h0m-17.4 4.4h0m4.9 0h0m-7.4 4.3h0m5 0h0m-27.4 4.3h0m5 0h0m14.9 0h0m9.9 0h0m-27.3 4.3h0m24.9 0h0m-17.4 4.3h0m2.5 4.3h0m4.9 0h0m5 0h0m-22.4 4.3h0" stroke="#f4dc2e"/><path d="M1587.2 144h0m14.9 34.4h0m2.5 4.3h0m104.4 0h0m-12.5 4.3h0m10 0h0m-7.5 4.3h0m5 0h0m-12.4 4.3h0m4.9 0h0m-12.4 4.3h0m5 0h0m19.9 43.1h0m-2.5 4.3h0m-12.4 4.3h0m4.9 0h0m5 0h0m9.9 0h0m-12.4 4.3h0m5 0h0m-397.6 68.9h0m-2.5 12.9h0m0 60.2h0" stroke="#469cce"/><path d="M1592.2 144h0m2.5 4.3h0m-7.5 4.3h0m5 0h0m4.9 0h0m119.3 17.2h0m7.5 4.3h0m-19.9 8.6h0m-2.5 4.3h0m10 0h0m-17.4 4.3h0m7.4 56h0m10 0h0m-2.5 4.3h0m9.9 0h0m-34.8 86.1h0m-7.4 4.3h0m4.9 0h0m5 0h0m-7.5 4.3h0m10 0h0m-439.9 4.3h0m432.4 0h0m5 0h0m-444.8 4.3h0m5 0h0m432.3 0h0m5 0h0m5 0h0m-439.9 4.3h0m179 146.3h0" stroke="#4994ca"/><path d="M1597.1 144h0m57.2 30.1h0m57.2 4.3h0m2.4 4.3h0m7.5 56h0m5 0h0m-12.5 4.3h0m2.5 4.3h0m5 0h0m-42.3 90.4h0m5 8.6h0m-429.9 4.3h0m422.5 0h0m-425 4.3h0m-7.4 4.3h0m9.9 0h0m-7.4 4.3h0m4.9 0h0m174 146.3h0m9.9 8.6h0m2.5 4.3h0m2.5 4.4h0" stroke="#4a8cc7"/><path d="M1713.9 148.3h0m69.6 0h0m5 0h0m-2.5 4.3h0m-17.4 4.3h0m5 0h0m2.5 4.3h0m-10 94.7h0m5 0h0m-7.5 4.3h0m5 0h0m-42.2 81.8h0m-19.9 8.6h0m5 0h0" stroke="#4e72ba"/><path d="M1718.9 148.3h0m-2.5 4.3h0m64.6 0h0m-32.3 99h0m5 0h0m5 0h0m4.9 0h0m5 0h0m5 0h0m-32.3 4.3h0m4.9 0h0m10 0h0m5 0h0m-7.5 4.3h0m5 0h0m-39.8 86.1h0" stroke="#4c78be"/><path d="M1768.6 148.3h0m9.9 8.6h0m5 0h0m-12.4 4.3h0m9.9 0h0m-7.4 99h0m2.5 4.3h0m-44.8 68.9h0m5 0h0m-12.4 12.9h0m-407.6 8.6h0m-12.4 4.3h0" stroke="#4f6cb7"/><path d="M1773.6 148.3h0m9.9 111.9h0m10 0h0m4.9 0h0m-12.4 4.3h0m2.5 4.3h0m-57.2 56h0m2.5 4.3h0m5 0h0m-427.4 25.8h0m-12.5 4.3h0m10 0h0m9.9 0h0" stroke="#5068b5"/><path d="M1192.1 156.9h0m166.5 55.9h0m14.9 0h0m-22.4 4.4h0m10 0h0m9.9 0h0m-12.4 4.3h0m2.5 4.3h0m-111.9 30.1h0m5 0h0m5 0h0m-7.5 4.3h0m-2.5 4.3h0m-12.4 4.3h0m5 0h0m-14.9 8.6h0m4.9 0h0m5 0h0m151.6 21.5h0m134.2 0h0m5 0h0m-12.5 4.3h0m5 0h0m-131.7 4.3h0m129.2 0h0m-131.7 4.3h0m5 0h0m-2.5 4.3h0m-2.5 4.4h0m5 0h0m124.2 0h0m-126.7 4.3h0m-2.5 4.3h0m-7.4 4.3h0" stroke="#8ac658"/><path d="M1704 165.5h0m-29.8 8.6h0m17.4 64.6h0m44.7 8.6h0m5 0h0m4.9 0h0m-7.4 4.3h0m-2.5 4.3h0m14.9 0h0m-2.5 4.3h0" stroke="#4b7fc1"/><path d="M1743.8 165.5h0m-67.1 4.3h0m37.2 4.3h0m5 0h0m-47.2 4.3h0m44.7 0h0m-47.2 4.3h0m5 0h0m14.9 51.7h0m-2.5 4.3h0m-2.5 4.3h0m5 0h0m29.8 0h0m5 0h0m4.9 0h0m5 0h0m-7.4 4.3h0m4.9 0h0m-2.5 4.3h0m5 0h0m10 0h0m-313.2 258.2h0m2.5 4.3h0" stroke="#4a85c4"/><path d="M1592.2 169.8h0m17.4 12.9h0m79.5 8.6h0m-7.5 4.3h0m5 0h0m-7.5 4.3h0m-2.4 4.3h0m-7.5 4.3h0m5 0h0m-7.5 4.3h0m27.4 30.2h0m-7.5 4.3h0m5 0h0m4.9 0h0m-12.4 4.3h0m5 0h0m-382.7 77.5h0m-2.5 4.3h0m0 8.6h0m5 0h0m-34.8 25.8h0m-2.5 4.3h0m5 0h0m39.7 25.8h0" stroke="#3aa4d2"/><path d="M1378.5 187h0m-131.7 30.2h0m-2.5 12.9h0m154 60.2h0m-14.9 34.5h0m-206.2 30.1h0m9.9 0h0m-9.9 17.2h0" stroke="#97c74c"/><path d="M1624.5 191.3h0m4.9 0h0m-12.4 4.3h0m5 0h0m5 0h0m4.9 0h0m5 0h0m-22.4 4.3h0m10 0h0m9.9 0h0m5 0h0m-17.4 4.3h0m19.9 0h0m29.8 0h0m9.9 0h0m-67.1 4.3h0m29.9 0h0m34.7 0h0m-17.3 4.3h0m-47.3 4.4h0m2.5 4.3h0m-2.5 4.3h0m47.3 12.9h0m14.9 0h0m4.9 8.6h0m-24.8 94.7h0m9.9 0h0m-2.5 4.3h0m10 0h0m-17.4 4.3h0m14.9 0h0m-402.6 17.2h0m5 8.6h0m5 0h0m32.3 21.5h0m82 81.8h0" stroke="#2dacd5"/><path d="M1666.7 195.6h0m5 0h0m5 0h0m14.9 8.6h0m-7.5 4.3h0m5 0h0m5 0h0m-12.5 4.3h0m5 0h0m-12.4 4.4h0m4.9 0h0m5 0h0m-7.4 4.3h0m9.9 0h0m5 0h0m-10 8.6h0m-27.3 4.3h0m-2.5 4.3h0m14.9 0h0m-27.3 4.3h0m5 0h0m9.9 0h0m5 0h0m4.9 0h0m2.5 4.3h0m-27.3 90.4h0m2.5 4.3h0m-251 133.4h0m22.4 21.5h0" stroke="#1ab3d1"/><path d="M1589.7 199.9h0m9.9 0h0m-12.4 4.3h0m5 0h0m4.9 0h0m59.7 0h0m-7.5 4.3h0m5 0h0m-7.5 4.3h0m-7.4 4.4h0m5 0h0m-12.5 12.9h0m5 0h0m-7.5 4.3h0m5 0h0m-7.4 4.3h0m4.9 0h0m5 0h0m-24.8 17.2h0m-2.5 4.3h0m4.9 0h0m-236 4.3h0m-2.5 4.3h0m4.9 0h0m-12.4 4.3h0m-251 4.3h0m248.5 0h0m-260.9 4.3h0m238.6 8.6h0m14.9 8.6h0m223.6 34.5h0m19.9 0h0m5 0h0m-7.5 4.3h0m5 0h0m-2.5 4.3h0m5 0h0m-193.8 60.2h0m4.9 0h0m7.5 4.3h0m-328 34.5h0" stroke="#25bcb8"/><path d="M1594.7 199.9h0m47.2 12.9h0m-12.5 13h0m5 0h0m-7.4 4.3h0m-253.5 43h0m-265.9 4.3h0m5 0h0m258.4 0h0m238.6 60.3h0m22.3 4.3h0m14.9 0h0m-12.4 4.3h0m5 0h0m-216.2 55.9h0m0 8.6h0" stroke="#1eb9c2"/><path d="M1619.5 199.9h0m9.9 0h0m39.8 0h0m5 0h0m-57.2 4.3h0m19.9 0h0m29.8 0h0m19.9 0h0m-67.1 4.3h0m19.9 0h0m24.8 0h0m-52.1 4.3h0m4.9 0h0m54.7 0h0m5 0h0m14.9 0h0m-72.1 4.4h0m49.7 0h0m19.9 0h0m5 0h0m-72.1 4.3h0m59.6 0h0m-62.1 4.3h0m59.6 0h0m5 0h0m5 0h0m-2.5 4.3h0m5 0h0m-42.3 4.3h0m10 0h0m24.8 0h0m-42.2 4.3h0m14.9 0h0m14.9 0h0m9.9 0h0m-32.3 4.3h0m19.9 0h0m5 0h0m4.9 0h0m-7.4 4.3h0m5 0h0m-17.4 90.4h0m4.9 0h0m-2.4 4.3h0m9.9 0h0m-12.4 4.3h0m9.9 0h0m-7.4 4.3h0m4.9 0h0m7.5 4.3h0m-278.3 129.1h0m2.4 4.3h0m5 0h0m2.5 4.3h0m5 0h0" stroke="#23b0d4"/><path d="M1582.2 230.1h0m12.5 38.7h0m-17.4 4.3h0m4.9 0h0m10 0h0m4.9 0h0m-17.4 4.3h0m5 0h0m-17.4 4.3h0m-7.4 4.3h0m-223.7 51.7h0m-7.4 4.3h0m4.9 0h0m5 0h0m14.9 0h0m5 0h0m9.9 0h0m-27.3 4.3h0m5 0h0m4.9 0h0m5 0h0m9.9 0h0m39.8 0h0m5 0h0m-82 4.3h0m19.8 0h0m10 0h0m-22.4 4.3h0m5 0h0m5 0h0m4.9 0h0m14.9 0h0m-27.3 4.3h0m9.9 0h0m5 0h0m-22.4 4.3h0m5 0h0m10 0h0m-7.5 4.3h0m-7.5 4.3h0m-2.4 4.3h0m4.9 0h0m5 0h0" stroke="#4ec094"/><path d="M1639.4 234.4h0m5 0h0m2.4 4.3h0m-22.3 4.3h0m4.9 0h0m5 0h0m0 94.7h0m10 0h0m4.9 0h0m5 0h0m-32.3 4.3h0m5 0h0m9.9 0h0m14.9 0h0m-7.4 4.3h0m4.9 0h0m5 0h0" stroke="#17b6cb"/><path d="M1622 247.3h0m5 0h0m-12.5 4.3h0m5 0h0m5 0h0m-7.5 4.3h0m-12.4 4.3h0m-253.5 34.4h0m5 0h0m-2.5 4.3h0m5 94.7h0m5 0h0m9.9 0h0m9.9 0h0m10 0h0m-22.4 4.3h0m9.9 0h0m5 0h0m5 0h0m-27.3 4.3h0m9.9 0h0m9.9 0h0m-17.4 4.3h0m10 0h0m4.9 0h0m5 0h0m-2.5 4.3h0m-17.4 4.3h0m5 0h0m5 0h0m4.9 0h0m5 0h0m-7.4 4.3h0m4.9 0h0m-12.4 4.4h0m5 0h0m4.9 0h0m-12.4 4.3h0m10 0h0m4.9 0h0m-2.5 4.3h0m5 0h0" stroke="#32bdad"/><path d="M1139.9 255.9h0m14.9 0h0m382.7 25.8h0m-12.4 12.9h0m-121.8 47.4h0m5 0h0m-29.8 25.8h0m9.9 0h0m-17.4 4.3h0m5 0h0m12.4 4.3h0m-27.3 4.3h0m4.9 0h0m5 0h0m9.9 0h0m10 0h0m-32.3 4.3h0m5 0h0m14.9 0h0m9.9 0h0m-27.3 4.3h0m4.9 0h0m29.9 0h0" stroke="#5ec183"/><path d="M1602.1 264.5h0m5 0h0m-7.5 4.3h0m-12.4 4.3h0m-12.4 4.3h0m14.9 0h0m-251 12.9h0m7.5 4.3h0m-19.9 43.1h0m4.9 0h0m32.4 4.3h0m-32.4 4.3h0m5 0h0m24.9 0h0m-27.4 4.3h0m5 0h0m5 0h0m9.9 0h0m10 0h0m-32.4 4.3h0m24.9 0h0m5 0h0m-27.4 4.3h0m10 0h0m14.9 0h0m5 0h0m-22.4 4.3h0m-12.4 4.3h0m4.9 0h0m10 0h0m-7.5 4.3h0m5 0h0m27.3 21.5h0m10 0h0m9.9 0h0m-27.3 4.3h0m4.9 0h0m2.5 4.3h0m10 0h0m9.9 0h0m-17.4 4.3h0m-2.5 4.3h0m5 0h0m5 0h0m-10 8.6h0m5 8.7h0m-2.5 4.3h0m5 0h0" stroke="#40bea2"/><path d="M1696.5 273.1h0m99.4 43h0m-17.4 4.4h0m5 0h0m-7.4 4.3h0m4.9 0h0" stroke="#545aac"/></g></g>
<rect x="1039" y="56.4" width="913" height="472.1" fill="none" stroke="#000" stroke-width="1.8"/>
<rect x="1056.5" y="492" width="153" height="14" fill="#000"/>
<text x="1073.5" y="474.8" font-size="33.3">500 <tspan font-family="'Liberation Serif', 'Times New Roman', serif">&#956;</tspan>m</text>
<rect x="1909" y="341" width="28" height="152" fill="url(#gA)" stroke="#000" stroke-width="2"/>
<text x="1895.5" y="391.5" font-size="29.5" text-anchor="end" fill="#000" >5</text>
<text x="1895.5" y="506" font-size="29.5" text-anchor="end" fill="#000" >0</text>
<text x="1897" y="330" font-size="29.5" text-anchor="start" fill="#000" >ms</text>
<text x="1478" y="591.5" font-size="33.3" text-anchor="middle" fill="#000" >AP propagation velocity</text>
<defs><clipPath id="cpV"><rect x="1100" y="600" width="800" height="460"/></clipPath></defs>
<g clip-path="url(#cpV)">
<line x1="1143.0" y1="1039.2" x2="1882.0" y2="607.9" stroke="#e0302a" stroke-width="2"/>
<line x1="1143.0" y1="1038.5" x2="1882.0" y2="612.0" stroke="#e4472b" stroke-width="2"/>
<line x1="1143.0" y1="1034.5" x2="1882.0" y2="626.4" stroke="#f5a01f" stroke-width="2"/>
<line x1="1143.0" y1="1039.2" x2="1882.0" y2="641.8" stroke="#e9d92f" stroke-width="2"/>
<line x1="1143.0" y1="1008.8" x2="1882.0" y2="643.9" stroke="#bdd631" stroke-width="2"/>
<line x1="1143.0" y1="1026.6" x2="1882.0" y2="664.9" stroke="#8fca62" stroke-width="2"/>
<line x1="1143.0" y1="1039.2" x2="1882.0" y2="680.7" stroke="#6fc6a4" stroke-width="2"/>
<line x1="1143.0" y1="1033.7" x2="1882.0" y2="695.4" stroke="#5cc4e4" stroke-width="2"/>
<line x1="1143.0" y1="1036.2" x2="1882.0" y2="697.9" stroke="#5ab2dc" stroke-width="2"/>
<path d="M1257.5 992.6h0M1270.2 986.7h0M1283.0 982.8h0M1295.7 979.9h0M1308.4 976.0h0M1321.2 971.1h0M1333.9 966.2h0M1346.6 961.3h0" stroke="#7e3f9e" stroke-width="13.2" stroke-linecap="round" fill="none"/>
<path d="M1206.6 1015.1h0M1218.3 1013.2h0M1231.1 1010.2h0M1244.8 1006.3h0M1257.5 1001.4h0M1372.1 941.7h0M1372.1 940.5h0" stroke="#3c48a5" stroke-width="13.2" stroke-linecap="round" fill="none"/>
<path d="M1333.9 953.4h0M1359.3 942.7h0M1372.1 936.8h0M1384.8 930.9h0M1398.5 928.0h0M1410.3 922.1h0M1423.0 912.3h0M1435.7 909.4h0M1448.5 908.4h0M1359.4 941.6h0M1385.9 928.9h0M1397.5 927.8h0M1410.1 922.0h0M1435.5 909.4h0M1448.2 908.2h0M1486.2 872.5h0M1500.0 870.2h0M1525.3 862.1h0M1538.0 859.8h0M1550.7 854.1h0M1563.4 851.8h0" stroke="#006838" stroke-width="13.2" stroke-linecap="round" fill="none"/>
<path d="M1168.4 1036.7h0M1180.1 1032.8h0M1231.1 1001.4h0M1308.4 961.3h0M1321.2 959.3h0M1346.6 950.5h0" stroke="#72c9a8" stroke-width="13.2" stroke-linecap="round" fill="none"/>
<path d="M1206.6 1003.4h0M1257.5 979.9h0M1270.2 976.0h0M1333.9 944.6h0" stroke="#62c8da" stroke-width="13.2" stroke-linecap="round" fill="none"/>
<path d="M1155.7 1026.9h0M1167.4 1020.0h0M1180.1 1015.1h0M1192.9 1011.2h0M1218.3 997.5h0M1244.8 988.7h0M1283.0 955.4h0M1295.7 949.5h0M1308.4 944.6h0M1321.2 940.7h0M1333.9 937.8h0M1346.6 932.9h0M1359.3 930.9h0M1372.1 927.0h0M1397.5 919.2h0M1423.0 917.2h0M1435.7 914.3h0M1307.6 942.8h0M1332.9 938.2h0M1346.8 933.5h0M1359.4 930.1h0M1372.1 927.8h0M1397.5 918.6h0M1422.8 916.3h0M1435.5 915.1h0" stroke="#5ab4de" stroke-width="13.2" stroke-linecap="round" fill="none"/>
<path d="M1192.9 1005.3h0M1218.3 985.8h0M1231.1 981.8h0M1244.8 974.0h0M1372.1 912.3h0M1384.8 905.5h0M1398.5 903.5h0M1372.1 912.8h0M1384.8 906.4h0M1397.5 904.1h0M1512.7 846.0h0M1525.3 841.4h0M1538.0 837.9h0M1550.7 834.5h0M1563.4 832.2h0M1576.0 829.4h0" stroke="#9ccf6e" stroke-width="13.2" stroke-linecap="round" fill="none"/>
<path d="M1167.4 1015.1h0M1180.1 1008.3h0M1192.9 997.5h0M1257.5 962.3h0M1269.3 955.4h0M1294.7 947.6h0" stroke="#fbb92a" stroke-width="13.2" stroke-linecap="round" fill="none"/>
<path d="M1269.3 962.3h0M1308.4 953.4h0" stroke="#f28c28" stroke-width="13.2" stroke-linecap="round" fill="none"/>
<path d="M1206.6 995.6h0M1359.3 925.0h0" stroke="#ebde2e" stroke-width="13.2" stroke-linecap="round" fill="none"/>
<path d="M1218.3 982.8h0M1231.1 976.0h0M1244.8 972.0h0M1269.3 946.6h0M1283.0 942.7h0M1308.4 921.1h0M1321.2 917.2h0M1333.9 909.4h0M1346.6 902.5h0M1359.3 895.7h0M1372.1 889.8h0M1384.8 883.9h0M1269.6 946.2h0M1282.3 942.8h0M1307.6 923.2h0M1320.3 917.4h0M1332.9 910.5h0M1346.8 902.4h0M1359.4 895.5h0M1372.1 888.6h0M1384.8 881.7h0M1422.8 859.8h0M1435.5 855.2h0M1448.2 847.8h0M1460.8 837.9h0M1473.5 830.3h0M1486.2 827.1h0M1500.0 819.5h0M1512.7 816.0h0M1525.3 806.4h0M1538.0 796.0h0M1563.4 785.6h0M1576.0 781.0h0M1588.7 772.9h0M1601.4 769.5h0M1614.1 764.2h0M1627.9 759.6h0M1641.7 756.1h0M1639.0 757.5h0M1652.6 748.8h0M1665.3 743.0h0M1691.5 733.2h0M1742.1 715.0h0M1754.7 712.1h0M1767.4 707.5h0M1780.6 699.4h0M1793.3 694.3h0M1806.0 691.4h0M1818.7 688.5h0M1844.0 671.2h0M1856.7 663.7h0M1869.4 660.5h0M1882.6 657.7h0" stroke="#bed630" stroke-width="13.2" stroke-linecap="round" fill="none"/>
<path d="M1270.2 969.1h0M1283.0 964.2h0M1295.7 958.3h0M1321.2 935.8h0M1346.6 915.3h0M1359.3 911.3h0M1320.3 934.7h0M1346.8 915.1h0M1359.4 911.7h0M1372.1 900.1h0M1384.8 897.8h0M1397.5 895.5h0M1410.1 887.5h0M1435.5 873.6h0M1448.2 865.6h0M1460.8 862.1h0M1473.5 853.4h0M1486.2 850.6h0M1512.7 827.1h0M1550.7 791.8h0M1601.4 759.6h0M1614.1 756.6h0M1626.7 754.3h0M1729.4 698.3h0M1754.7 696.0h0M1767.4 685.6h0M1678.0 721.0h0M1691.5 715.2h0" stroke="#e5482a" stroke-width="13.2" stroke-linecap="round" fill="none"/>
<path d="M1143.0 1039.2h0M1157.8 1037.7h0M1168.4 1025.9h0M1180.1 1023.9h0M1192.9 1018.1h0M1206.6 1013.2h0M1231.1 992.6h0M1257.5 969.1h0M1294.7 933.9h0M1308.4 929.0h0M1320.2 925.0h0M1333.9 920.1h0M1345.6 915.3h0M1359.3 911.3h0M1372.1 900.6h0M1384.8 897.6h0M1397.5 896.6h0M1411.2 888.8h0M1294.9 933.5h0M1307.6 928.9h0M1320.3 924.3h0M1332.9 919.7h0M1397.5 899.0h0M1410.1 893.2h0M1486.2 840.2h0" stroke="#dd2a26" stroke-width="13.2" stroke-linecap="round" fill="none"/>
<line x1="1143.0" y1="1039.2" x2="1882.0" y2="704.4" stroke="#006a38" stroke-width="2"/>
<line x1="1143.0" y1="1031.8" x2="1882.0" y2="709.8" stroke="#7b3f9c" stroke-width="2"/>
<line x1="1143.0" y1="1036.5" x2="1882.0" y2="756.9" stroke="#4050a8" stroke-width="2"/>
<line x1="1143.0" y1="1039.2" x2="1882.0" y2="764.5" stroke="#3846a0" stroke-width="2"/>
</g>
<path d="M1143 607.2V1039.2H1882.6M1290.8 1039.2v-8M1438.6 1039.2v-8M1586.4 1039.2v-8M1734.2 1039.2v-8M1882.0 1039.2v-8M1143 965.0h8M1143 890.8h8M1143 816.6h8M1143 742.4h8M1143 668.2h8" stroke="#000" stroke-width="2" fill="none"/>
<text x="1143" y="1081.6" font-size="33.3" text-anchor="middle" fill="#000" >0</text>
<text x="1290.8" y="1081.6" font-size="33.3" text-anchor="middle" fill="#000" >1</text>
<text x="1438.6" y="1081.6" font-size="33.3" text-anchor="middle" fill="#000" >2</text>
<text x="1586.4" y="1081.6" font-size="33.3" text-anchor="middle" fill="#000" >3</text>
<text x="1734.2" y="1081.6" font-size="33.3" text-anchor="middle" fill="#000" >4</text>
<text x="1882" y="1081.6" font-size="33.3" text-anchor="middle" fill="#000" >5</text>
<text x="1123.5" y="1050.1" font-size="33.3" text-anchor="end" fill="#000" >0</text>
<text x="1123.5" y="975.9" font-size="33.3" text-anchor="end" fill="#000" >0.5</text>
<text x="1123.5" y="901.7" font-size="33.3" text-anchor="end" fill="#000" >1</text>
<text x="1123.5" y="827.5" font-size="33.3" text-anchor="end" fill="#000" >1.5</text>
<text x="1123.5" y="753.3" font-size="33.3" text-anchor="end" fill="#000" >2</text>
<text x="1123.5" y="679.1" font-size="33.3" text-anchor="end" fill="#000" >2.5</text>
<text x="1512.5" y="1128.2" font-size="33.3" text-anchor="middle" fill="#000" >Latency [ms]</text>
<text transform="translate(1047.8,823.5) rotate(-90)" font-size="33.3" text-anchor="middle">Distance [mm]</text>
<text x="1209" y="653.7" font-size="33"><tspan font-style="italic">v</tspan> = 487 &#177; 67 mm/s</text>
<path d="M134.65 1730.30V1392.67h14.89V1730.30zM151.39 1730.30V1480.84h14.89V1730.30zM168.12 1730.30V1547.51h14.89V1730.30zM184.85 1730.30V1543.21h14.89V1730.30zM201.59 1730.30V1601.27h14.89V1730.30zM218.32 1730.30V1646.43h14.89V1730.30zM235.05 1730.30V1663.63h14.89V1730.30zM251.79 1730.30V1657.18h14.89V1730.30zM268.52 1730.30V1676.54h14.89V1730.30zM285.25 1730.30V1715.25h14.89V1730.30zM301.99 1730.30V1708.80h14.89V1730.30zM318.72 1730.30V1710.95h14.89V1730.30zM335.45 1730.30V1723.85h14.89V1730.30zM352.19 1730.30V1721.70h14.89V1730.30zM385.65 1730.30V1728.15h14.89V1730.30z" fill="#79aad3"/>
<path d="M284.3 1730.3v-8M284.3 1300.2v8M451.7 1730.3v-8M451.7 1300.2v8M117.0 1730.3h8M619.0 1730.3h-8M117.0 1622.8h8M619.0 1622.8h-8M117.0 1515.2h8M619.0 1515.2h-8M117.0 1407.7h8M619.0 1407.7h-8M117.0 1300.2h8M619.0 1300.2h-8" stroke="#000" stroke-width="1.8" fill="none"/>
<rect x="117.0" y="1300.2" width="502.0" height="430.1" fill="none" stroke="#000" stroke-width="1.8"/>
<text x="115.5" y="1768.3" font-size="29" text-anchor="middle" fill="#000" >0</text>
<text x="282.8" y="1768.3" font-size="29" text-anchor="middle" fill="#000" >10</text>
<text x="450.2" y="1768.3" font-size="29" text-anchor="middle" fill="#000" >20</text>
<text x="617.5" y="1768.3" font-size="29" text-anchor="middle" fill="#000" >30</text>
<text x="101.8" y="1741.2" font-size="29" text-anchor="end" fill="#000" >0</text>
<text x="101.8" y="1633.7" font-size="29" text-anchor="end" fill="#000" >50</text>
<text x="101.8" y="1526.2" font-size="29" text-anchor="end" fill="#000" >100</text>
<text x="101.8" y="1418.6" font-size="29" text-anchor="end" fill="#000" >150</text>
<text x="101.8" y="1311.1" font-size="29" text-anchor="end" fill="#000" >200</text>
<text x="367.9" y="1237.3" font-size="29" text-anchor="middle" fill="#000" >No. segments per neuron</text>
<text y="1278.8" font-size="29"><tspan x="255" font-weight="bold" font-style="italic">&#956;</tspan><tspan> = 4.1,</tspan><tspan x="377" font-weight="bold" font-style="italic">&#963;</tspan><tspan> = 3.1</tspan></text>
<text x="368" y="1813.4" font-size="29" text-anchor="middle" fill="#000" >No. segments</text>
<text transform="translate(29.4,1514.0) rotate(-90)" font-size="29" text-anchor="middle">Neuron count</text>
<path d="M818.47 1730.30V1648.52h11.11V1730.30zM830.96 1730.30V1605.48h11.11V1730.30zM843.45 1730.30V1476.36h11.11V1730.30zM855.94 1730.30V1416.11h11.11V1730.30zM868.42 1730.30V1355.85h11.11V1730.30zM880.91 1730.30V1360.16h11.11V1730.30zM893.40 1730.30V1433.32h11.11V1730.30zM905.89 1730.30V1497.88h11.11V1730.30zM918.37 1730.30V1532.32h11.11V1730.30zM930.86 1730.30V1571.05h11.11V1730.30zM943.35 1730.30V1605.48h11.11V1730.30zM955.84 1730.30V1648.52h11.11V1730.30zM968.32 1730.30V1652.83h11.11V1730.30zM980.81 1730.30V1687.26h11.11V1730.30zM993.30 1730.30V1687.26h11.11V1730.30zM1005.79 1730.30V1682.96h11.11V1730.30zM1018.27 1730.30V1700.17h11.11V1730.30zM1030.76 1730.30V1721.69h11.11V1730.30zM1043.25 1730.30V1704.48h11.11V1730.30zM1055.74 1730.30V1721.69h11.11V1730.30zM1068.22 1730.30V1721.69h11.11V1730.30zM1080.71 1730.30V1713.08h11.11V1730.30zM1105.69 1730.30V1726.00h11.11V1730.30zM1118.17 1730.30V1726.00h11.11V1730.30zM1130.66 1730.30V1726.00h11.11V1730.30zM1155.64 1730.30V1726.00h11.11V1730.30zM1168.12 1730.30V1726.00h11.11V1730.30zM1255.54 1730.30V1726.00h11.11V1730.30z" fill="#79aad3"/>
<path d="M930.2 1730.3v-8M930.2 1299.9v8M1055.0 1730.3v-8M1055.0 1299.9v8M1179.9 1730.3v-8M1179.9 1299.9v8M805.3 1730.3h8M1304.8 1730.3h-8M805.3 1644.2h8M1304.8 1644.2h-8M805.3 1558.1h8M1304.8 1558.1h-8M805.3 1472.1h8M1304.8 1472.1h-8M805.3 1386.0h8M1304.8 1386.0h-8M805.3 1299.9h8M1304.8 1299.9h-8" stroke="#000" stroke-width="1.8" fill="none"/>
<rect x="805.3" y="1299.9" width="499.5" height="430.4" fill="none" stroke="#000" stroke-width="1.8"/>
<text x="803.8" y="1768.3" font-size="29" text-anchor="middle" fill="#000" >0</text>
<text x="928.7" y="1768.3" font-size="29" text-anchor="middle" fill="#000" >1000</text>
<text x="1053.5" y="1768.3" font-size="29" text-anchor="middle" fill="#000" >2000</text>
<text x="1178.4" y="1768.3" font-size="29" text-anchor="middle" fill="#000" >3000</text>
<text x="1303.3" y="1768.3" font-size="29" text-anchor="middle" fill="#000" >4000</text>
<text x="790.1" y="1741.2" font-size="29" text-anchor="end" fill="#000" >0</text>
<text x="790.1" y="1655.1" font-size="29" text-anchor="end" fill="#000" >20</text>
<text x="790.1" y="1569" font-size="29" text-anchor="end" fill="#000" >40</text>
<text x="790.1" y="1483" font-size="29" text-anchor="end" fill="#000" >60</text>
<text x="790.1" y="1396.9" font-size="29" text-anchor="end" fill="#000" >80</text>
<text x="790.1" y="1310.8" font-size="29" text-anchor="end" fill="#000" >100</text>
<text x="1055.4" y="1237.5" font-size="29" text-anchor="middle" fill="#000" >Longest axon length</text>
<text y="1278.6" font-size="29"><tspan x="840.3" font-weight="bold" font-style="italic">&#956;</tspan><tspan> = 786.2 <tspan font-family="'Liberation Serif', 'Times New Roman', serif">&#956;</tspan>m</tspan><tspan x="1067.1" font-weight="bold" font-style="italic">&#963;</tspan><tspan> = 448.1 <tspan font-family="'Liberation Serif', 'Times New Roman', serif">&#956;</tspan>m</tspan></text>
<text x="1055" y="1812.8" font-size="29" text-anchor="middle" fill="#000" >Longest axon length [<tspan font-family="'Liberation Serif', 'Times New Roman', serif">&#956;</tspan>m]</text>
<text transform="translate(726.2,1514.0) rotate(-90)" font-size="29" text-anchor="middle">Neuron count</text>
<path d="M1488.35 1727.80V1480.43h8.89V1727.80zM1498.34 1727.80V1301.18h8.89V1727.80zM1508.32 1727.80V1466.09h8.89V1727.80zM1518.31 1727.80V1462.51h8.89V1727.80zM1528.29 1727.80V1527.04h8.89V1727.80zM1538.28 1727.80V1519.87h8.89V1727.80zM1548.27 1727.80V1580.82h8.89V1727.80zM1558.25 1727.80V1562.89h8.89V1727.80zM1568.24 1727.80V1641.76h8.89V1727.80zM1578.22 1727.80V1638.17h8.89V1727.80zM1588.21 1727.80V1652.51h8.89V1727.80zM1598.20 1727.80V1688.37h8.89V1727.80zM1608.18 1727.80V1684.78h8.89V1727.80zM1618.17 1727.80V1681.19h8.89V1727.80zM1628.15 1727.80V1702.70h8.89V1727.80zM1638.14 1727.80V1699.12h8.89V1727.80zM1648.13 1727.80V1717.04h8.89V1727.80zM1658.11 1727.80V1720.63h8.89V1727.80zM1668.10 1727.80V1699.12h8.89V1727.80zM1678.08 1727.80V1720.63h8.89V1727.80zM1688.07 1727.80V1724.21h8.89V1727.80zM1698.06 1727.80V1709.88h8.89V1727.80zM1708.04 1727.80V1724.21h8.89V1727.80zM1757.97 1727.80V1724.21h8.89V1727.80zM1767.96 1727.80V1724.21h8.89V1727.80zM1777.94 1727.80V1724.21h8.89V1727.80zM1787.93 1727.80V1724.21h8.89V1727.80zM1847.85 1727.80V1724.21h8.89V1727.80zM1927.73 1727.80V1724.21h8.89V1727.80z" fill="#79aad3"/>
<path d="M1612.6 1727.8v-8M1612.6 1297.6v8M1737.4 1727.8v-8M1737.4 1297.6v8M1862.3 1727.8v-8M1862.3 1297.6v8M1487.8 1727.8h8M1987.1 1727.8h-8M1487.8 1656.1h8M1987.1 1656.1h-8M1487.8 1584.4h8M1987.1 1584.4h-8M1487.8 1512.7h8M1987.1 1512.7h-8M1487.8 1441.0h8M1987.1 1441.0h-8M1487.8 1369.3h8M1987.1 1369.3h-8M1487.8 1297.6h8M1987.1 1297.6h-8" stroke="#000" stroke-width="1.8" fill="none"/>
<rect x="1487.8" y="1297.6" width="499.3" height="430.2" fill="none" stroke="#000" stroke-width="1.8"/>
<text x="1486.3" y="1765.8" font-size="29" text-anchor="middle" fill="#000" >0</text>
<text x="1740.9" y="1765.8" font-size="29" text-anchor="middle" fill="#000" >10000</text>
<text x="1973.6" y="1765.8" font-size="29" text-anchor="middle" fill="#000" >20000</text>
<text x="1472.6" y="1738.7" font-size="29" text-anchor="end" fill="#000" >0</text>
<text x="1472.6" y="1667" font-size="29" text-anchor="end" fill="#000" >20</text>
<text x="1472.6" y="1595.3" font-size="29" text-anchor="end" fill="#000" >40</text>
<text x="1472.6" y="1523.6" font-size="29" text-anchor="end" fill="#000" >60</text>
<text x="1472.6" y="1451.9" font-size="29" text-anchor="end" fill="#000" >80</text>
<text x="1472.6" y="1380.2" font-size="29" text-anchor="end" fill="#000" >100</text>
<text x="1472.6" y="1308.5" font-size="29" text-anchor="end" fill="#000" >120</text>
<text x="1719.9" y="1236.8" font-size="29" text-anchor="middle" fill="#000" >Total extension of axonal arbor</text>
<text y="1278.8" font-size="29"><tspan x="1509" font-weight="bold" font-style="italic">&#956;</tspan><tspan> = 2221.9 <tspan font-family="'Liberation Serif', 'Times New Roman', serif">&#956;</tspan>m</tspan><tspan x="1747.6" font-weight="bold" font-style="italic">&#963;</tspan><tspan> = 2045.6 <tspan font-family="'Liberation Serif', 'Times New Roman', serif">&#956;</tspan>m</tspan></text>
<text x="1736.6" y="1811.5" font-size="29" text-anchor="middle" fill="#000" >Total extension of axonal arbor [<tspan font-family="'Liberation Serif', 'Times New Roman', serif">&#956;</tspan>m]</text>
<text transform="translate(1401.5,1514.6) rotate(-90)" font-size="29" text-anchor="middle">Neuron count</text>
<path d="M176.96 2406.40V2402.96h11.16V2406.40zM189.50 2406.40V2399.52h11.16V2406.40zM202.03 2406.40V2396.08h11.16V2406.40zM214.57 2406.40V2382.31h11.16V2406.40zM227.10 2406.40V2358.23h11.16V2406.40zM239.64 2406.40V2339.30h11.16V2406.40zM252.17 2406.40V2313.50h11.16V2406.40zM264.71 2406.40V2244.68h11.16V2406.40zM277.24 2406.40V2198.23h11.16V2406.40zM289.78 2406.40V2179.31h11.16V2406.40zM302.31 2406.40V2120.81h11.16V2406.40zM314.85 2406.40V2039.95h11.16V2406.40zM327.38 2406.40V2036.51h11.16V2406.40zM339.92 2406.40V2043.40h11.16V2406.40zM352.45 2406.40V2005.55h11.16V2406.40zM364.99 2406.40V2050.28h11.16V2406.40zM377.52 2406.40V2093.29h11.16V2406.40zM390.06 2406.40V2105.33h11.16V2406.40zM402.59 2406.40V2136.30h11.16V2406.40zM415.13 2406.40V2162.10h11.16V2406.40zM427.66 2406.40V2201.67h11.16V2406.40zM440.20 2406.40V2289.41h11.16V2406.40zM452.73 2406.40V2275.65h11.16V2406.40zM465.27 2406.40V2318.66h11.16V2406.40zM477.80 2406.40V2356.51h11.16V2406.40zM490.34 2406.40V2382.31h11.16V2406.40zM502.87 2406.40V2384.03h11.16V2406.40zM515.41 2406.40V2401.24h11.16V2406.40z" fill="#79aad3"/>
<polyline points="163.7,2404.1 166.0,2403.8 168.3,2403.5 170.5,2403.2 172.8,2402.8 175.0,2402.3 177.3,2401.9 179.5,2401.3 181.8,2400.7 184.0,2400.1 186.3,2399.4 188.6,2398.6 190.8,2397.7 193.1,2396.8 195.3,2395.8 197.6,2394.7 199.8,2393.4 202.1,2392.1 204.4,2390.7 206.6,2389.1 208.9,2387.4 211.1,2385.6 213.4,2383.7 215.6,2381.6 217.9,2379.3 220.1,2376.9 222.4,2374.3 224.7,2371.5 226.9,2368.5 229.2,2365.3 231.4,2362.0 233.7,2358.4 235.9,2354.6 238.2,2350.6 240.5,2346.3 242.7,2341.8 245.0,2337.1 247.2,2332.2 249.5,2327.0 251.7,2321.5 254.0,2315.8 256.2,2309.9 258.5,2303.7 260.8,2297.2 263.0,2290.6 265.3,2283.6 267.5,2276.5 269.8,2269.1 272.0,2261.5 274.3,2253.7 276.6,2245.7 278.8,2237.6 281.1,2229.2 283.3,2220.7 285.6,2212.1 287.8,2203.3 290.1,2194.5 292.3,2185.6 294.6,2176.6 296.9,2167.6 299.1,2158.5 301.4,2149.5 303.6,2140.6 305.9,2131.7 308.1,2122.9 310.4,2114.2 312.7,2105.7 314.9,2097.4 317.2,2089.3 319.4,2081.4 321.7,2073.8 323.9,2066.5 326.2,2059.5 328.4,2052.8 330.7,2046.6 333.0,2040.7 335.2,2035.3 337.5,2030.3 339.7,2025.8 342.0,2021.7 344.2,2018.1 346.5,2015.1 348.8,2012.6 351.0,2010.6 353.3,2009.2 355.5,2008.3 357.8,2008.0 360.0,2008.2 362.3,2009.0 364.6,2010.3 366.8,2012.2 369.1,2014.6 371.3,2017.6 373.6,2021.0 375.8,2025.0 378.1,2029.4 380.3,2034.4 382.6,2039.7 384.9,2045.5 387.1,2051.7 389.4,2058.3 391.6,2065.2 393.9,2072.5 396.1,2080.0 398.4,2087.8 400.7,2095.9 402.9,2104.2 405.2,2112.7 407.4,2121.3 409.7,2130.1 411.9,2139.0 414.2,2147.9 416.4,2156.9 418.7,2165.9 421.0,2175.0 423.2,2184.0 425.5,2192.9 427.7,2201.8 430.0,2210.5 432.2,2219.2 434.5,2227.7 436.8,2236.1 439.0,2244.3 441.3,2252.3 443.5,2260.2 445.8,2267.8 448.0,2275.2 450.3,2282.4 452.5,2289.3 454.8,2296.1 457.1,2302.5 459.3,2308.8 461.6,2314.8 463.8,2320.5 466.1,2326.0 468.3,2331.3 470.6,2336.3 472.9,2341.0 475.1,2345.5 477.4,2349.8 479.6,2353.9 481.9,2357.7 484.1,2361.4 486.4,2364.8 488.6,2368.0 490.9,2371.0 493.2,2373.8 495.4,2376.4 497.7,2378.9 499.9,2381.2 502.2,2383.3 504.4,2385.3 506.7,2387.1 509.0,2388.8 511.2,2390.4 513.5,2391.9 515.7,2393.2 518.0,2394.4 520.2,2395.6 522.5,2396.6 524.7,2397.6 527.0,2398.4 529.3,2399.2 531.5,2400.0 533.8,2400.6 536.0,2401.2 538.3,2401.8 540.5,2402.3 542.8,2402.7 545.1,2403.1 547.3,2403.5 549.6,2403.8 551.8,2404.1 554.1,2404.3 556.3,2404.6 558.6,2404.8 560.8,2405.0 563.1,2405.1 565.4,2405.3 567.6,2405.4 569.9,2405.5 572.1,2405.7 574.4,2405.7 576.6,2405.8 578.9,2405.9 581.2,2406.0 583.4,2406.0 585.7,2406.1 587.9,2406.1 590.2,2406.2 592.4,2406.2 594.7,2406.2 596.9,2406.2 599.2,2406.3 601.5,2406.3 603.7,2406.3 606.0,2406.3 608.2,2406.3 610.5,2406.3 612.7,2406.3 615.0,2406.4" fill="none" stroke="#d92b2e" stroke-width="3.6" stroke-linejoin="round"/>
<path d="M364.3 2406.4v-8M364.3 1976.3v8M113.6 2406.4h8M615.0 2406.4h-8M113.6 2320.4h8M615.0 2320.4h-8M113.6 2234.4h8M615.0 2234.4h-8M113.6 2148.3h8M615.0 2148.3h-8M113.6 2062.3h8M615.0 2062.3h-8M113.6 1976.3h8M615.0 1976.3h-8" stroke="#000" stroke-width="1.8" fill="none"/>
<rect x="113.6" y="1976.3" width="501.4" height="430.1" fill="none" stroke="#000" stroke-width="1.8"/>
<text x="112.1" y="2444.4" font-size="29" text-anchor="middle" fill="#000" >0</text>
<text x="362.8" y="2444.4" font-size="29" text-anchor="middle" fill="#000" >500</text>
<text x="613.5" y="2444.4" font-size="29" text-anchor="middle" fill="#000" >1000</text>
<text x="98.4" y="2417.3" font-size="29" text-anchor="end" fill="#000" >0</text>
<text x="98.4" y="2331.3" font-size="29" text-anchor="end" fill="#000" >50</text>
<text x="98.4" y="2245.3" font-size="29" text-anchor="end" fill="#000" >100</text>
<text x="98.4" y="2159.2" font-size="29" text-anchor="end" fill="#000" >150</text>
<text x="98.4" y="2073.2" font-size="29" text-anchor="end" fill="#000" >200</text>
<text x="98.4" y="1987.2" font-size="29" text-anchor="end" fill="#000" >250</text>
<text x="364.8" y="1915.9" font-size="29" text-anchor="middle" fill="#000" >Velocity for all segments</text>
<text y="1956.4" font-size="29"><tspan x="123.4" font-weight="bold" font-style="italic">&#956;</tspan><tspan> = 487.4 mm/s,</tspan><tspan x="383.1" font-weight="bold" font-style="italic">&#963;</tspan><tspan> = 120.5 mm/s</tspan></text>
<text x="351.2" y="2487" font-size="29" text-anchor="middle" fill="#000" >Velocity [mm/s]</text>
<text transform="translate(22.3,2198.5) rotate(-90)" font-size="29" text-anchor="middle">Segment count</text>
<path d="M900.61 2406.40V2397.80h11.17V2406.40zM913.16 2406.40V2393.50h11.17V2406.40zM925.72 2406.40V2389.20h11.17V2406.40zM938.27 2406.40V2363.39h11.17V2406.40zM950.82 2406.40V2341.89h11.17V2406.40zM963.37 2406.40V2328.98h11.17V2406.40zM975.93 2406.40V2285.97h11.17V2406.40zM988.48 2406.40V2281.67h11.17V2406.40zM1001.03 2406.40V2212.86h11.17V2406.40zM1013.58 2406.40V2131.14h11.17V2406.40zM1026.14 2406.40V2032.21h11.17V2406.40zM1038.69 2406.40V2032.21h11.17V2406.40zM1051.24 2406.40V2101.03h11.17V2406.40zM1063.79 2406.40V2122.53h11.17V2406.40zM1076.35 2406.40V2217.16h11.17V2406.40zM1088.90 2406.40V2247.26h11.17V2406.40zM1101.45 2406.40V2260.17h11.17V2406.40zM1114.00 2406.40V2341.89h11.17V2406.40zM1126.56 2406.40V2363.39h11.17V2406.40zM1139.11 2406.40V2384.89h11.17V2406.40zM1151.66 2406.40V2389.20h11.17V2406.40zM1164.21 2406.40V2397.80h11.17V2406.40zM1176.77 2406.40V2397.80h11.17V2406.40z" fill="#79aad3"/>
<polyline points="849.7,2406.3 852.0,2406.3 854.2,2406.3 856.5,2406.3 858.7,2406.3 861.0,2406.2 863.3,2406.2 865.5,2406.1 867.8,2406.1 870.0,2406.0 872.3,2406.0 874.6,2405.9 876.8,2405.8 879.1,2405.7 881.3,2405.5 883.6,2405.4 885.9,2405.2 888.1,2405.0 890.4,2404.7 892.6,2404.5 894.9,2404.1 897.2,2403.8 899.4,2403.4 901.7,2402.9 903.9,2402.3 906.2,2401.7 908.5,2401.0 910.7,2400.2 913.0,2399.4 915.2,2398.4 917.5,2397.3 919.8,2396.0 922.0,2394.7 924.3,2393.1 926.5,2391.4 928.8,2389.6 931.1,2387.5 933.3,2385.3 935.6,2382.8 937.8,2380.1 940.1,2377.2 942.3,2374.0 944.6,2370.5 946.9,2366.8 949.1,2362.7 951.4,2358.4 953.6,2353.8 955.9,2348.8 958.2,2343.6 960.4,2338.0 962.7,2332.1 964.9,2325.9 967.2,2319.3 969.5,2312.4 971.7,2305.3 974.0,2297.8 976.2,2290.0 978.5,2282.0 980.8,2273.7 983.0,2265.3 985.3,2256.6 987.5,2247.7 989.8,2238.8 992.1,2229.7 994.3,2220.5 996.6,2211.4 998.8,2202.2 1001.1,2193.2 1003.4,2184.2 1005.6,2175.4 1007.9,2166.8 1010.1,2158.5 1012.4,2150.5 1014.6,2142.8 1016.9,2135.5 1019.2,2128.7 1021.4,2122.3 1023.7,2116.5 1025.9,2111.2 1028.2,2106.5 1030.5,2102.5 1032.7,2099.1 1035.0,2096.4 1037.2,2094.5 1039.5,2093.2 1041.8,2092.6 1044.0,2092.8 1046.3,2093.7 1048.5,2095.3 1050.8,2097.6 1053.1,2100.6 1055.3,2104.3 1057.6,2108.6 1059.8,2113.6 1062.1,2119.1 1064.4,2125.2 1066.6,2131.8 1068.9,2138.8 1071.1,2146.3 1073.4,2154.2 1075.7,2162.3 1077.9,2170.8 1080.2,2179.5 1082.4,2188.4 1084.7,2197.4 1087.0,2206.5 1089.2,2215.7 1091.5,2224.8 1093.7,2233.9 1096.0,2243.0 1098.2,2251.9 1100.5,2260.7 1102.8,2269.3 1105.0,2277.6 1107.3,2285.8 1109.5,2293.7 1111.8,2301.3 1114.1,2308.6 1116.3,2315.7 1118.6,2322.4 1120.8,2328.8 1123.1,2334.9 1125.4,2340.6 1127.6,2346.1 1129.9,2351.2 1132.1,2356.0 1134.4,2360.5 1136.7,2364.7 1138.9,2368.5 1141.2,2372.2 1143.4,2375.5 1145.7,2378.6 1148.0,2381.4 1150.2,2384.0 1152.5,2386.4 1154.7,2388.5 1157.0,2390.5 1159.3,2392.3 1161.5,2393.9 1163.8,2395.3 1166.0,2396.6 1168.3,2397.8 1170.6,2398.9 1172.8,2399.8 1175.1,2400.6 1177.3,2401.4 1179.6,2402.0 1181.8,2402.6 1184.1,2403.1 1186.4,2403.6 1188.6,2404.0 1190.9,2404.3 1193.1,2404.6 1195.4,2404.9 1197.7,2405.1 1199.9,2405.3 1202.2,2405.4 1204.4,2405.6 1206.7,2405.7 1209.0,2405.8 1211.2,2405.9 1213.5,2406.0 1215.7,2406.1 1218.0,2406.1 1220.3,2406.2 1222.5,2406.2 1224.8,2406.2 1227.0,2406.3 1229.3,2406.3 1231.6,2406.3 1233.8,2406.3 1236.1,2406.3 1238.3,2406.3 1240.6,2406.4 1242.9,2406.4 1245.1,2406.4 1247.4,2406.4 1249.6,2406.4 1251.9,2406.4 1254.2,2406.4 1256.4,2406.4 1258.7,2406.4 1260.9,2406.4 1263.2,2406.4 1265.4,2406.4 1267.7,2406.4 1270.0,2406.4 1272.2,2406.4 1274.5,2406.4 1276.7,2406.4 1279.0,2406.4 1281.3,2406.4 1283.5,2406.4 1285.8,2406.4 1288.0,2406.4 1290.3,2406.4 1292.6,2406.4 1294.8,2406.4 1297.1,2406.4 1299.3,2406.4 1301.6,2406.4" fill="none" stroke="#d92b2e" stroke-width="3.6" stroke-linejoin="round"/>
<path d="M1050.5 2406.4v-8M1050.5 1976.3v8M799.5 2406.4h8M1301.6 2406.4h-8M799.5 2320.4h8M1301.6 2320.4h-8M799.5 2234.4h8M1301.6 2234.4h-8M799.5 2148.3h8M1301.6 2148.3h-8M799.5 2062.3h8M1301.6 2062.3h-8M799.5 1976.3h8M1301.6 1976.3h-8" stroke="#000" stroke-width="1.8" fill="none"/>
<rect x="799.5" y="1976.3" width="502.1" height="430.1" fill="none" stroke="#000" stroke-width="1.8"/>
<text x="798" y="2444.4" font-size="29" text-anchor="middle" fill="#000" >0</text>
<text x="1049" y="2444.4" font-size="29" text-anchor="middle" fill="#000" >500</text>
<text x="1300.1" y="2444.4" font-size="29" text-anchor="middle" fill="#000" >1000</text>
<text x="784.3" y="2417.3" font-size="29" text-anchor="end" fill="#000" >0</text>
<text x="784.3" y="2331.3" font-size="29" text-anchor="end" fill="#000" >20</text>
<text x="784.3" y="2245.3" font-size="29" text-anchor="end" fill="#000" >40</text>
<text x="784.3" y="2159.2" font-size="29" text-anchor="end" fill="#000" >60</text>
<text x="784.3" y="2073.2" font-size="29" text-anchor="end" fill="#000" >80</text>
<text x="784.3" y="1987.2" font-size="29" text-anchor="end" fill="#000" >100</text>
<text x="1051.1" y="1915.9" font-size="29" text-anchor="middle" fill="#000" >Average velocity for all neurons</text>
<text y="1956.4" font-size="29"><tspan x="819.1" font-weight="bold" font-style="italic">&#956;</tspan><tspan> = 483.7 mm/s,</tspan><tspan x="1074.6" font-weight="bold" font-style="italic">&#963;</tspan><tspan> = 93.5 mm/s</tspan></text>
<text x="1051.8" y="2487" font-size="29" text-anchor="middle" fill="#000" >Average velocity [mm/s]</text>
<text transform="translate(716.0,2191.6) rotate(-90)" font-size="29" text-anchor="middle">Neuron count</text>
<path d="M1486.59 2406.40V2377.75h11.17V2406.40zM1499.14 2406.40V2327.62h11.17V2406.40zM1511.69 2406.40V2334.78h11.17V2406.40zM1524.23 2406.40V2263.17h11.17V2406.40zM1536.78 2406.40V2248.84h11.17V2406.40zM1549.33 2406.40V2256.01h11.17V2406.40zM1561.88 2406.40V2127.10h11.17V2406.40zM1574.42 2406.40V2098.45h11.17V2406.40zM1586.97 2406.40V2091.29h11.17V2406.40zM1599.52 2406.40V2105.61h11.17V2406.40zM1612.07 2406.40V2062.64h11.17V2406.40zM1624.61 2406.40V2041.16h11.17V2406.40zM1637.16 2406.40V2170.07h11.17V2406.40zM1649.71 2406.40V2191.55h11.17V2406.40zM1662.26 2406.40V2270.33h11.17V2406.40zM1674.80 2406.40V2284.65h11.17V2406.40zM1687.35 2406.40V2306.14h11.17V2406.40zM1699.90 2406.40V2320.46h11.17V2406.40zM1712.45 2406.40V2370.59h11.17V2406.40zM1724.99 2406.40V2349.11h11.17V2406.40zM1737.54 2406.40V2341.95h11.17V2406.40zM1750.09 2406.40V2370.59h11.17V2406.40zM1762.64 2406.40V2370.59h11.17V2406.40zM1775.18 2406.40V2384.91h11.17V2406.40zM1787.73 2406.40V2392.08h11.17V2406.40zM1800.28 2406.40V2377.75h11.17V2406.40zM1812.83 2406.40V2392.08h11.17V2406.40zM1825.37 2406.40V2399.24h11.17V2406.40zM1837.92 2406.40V2392.08h11.17V2406.40zM1963.40 2406.40V2399.24h11.17V2406.40z" fill="#79aad3"/>
<path d="M1611.4 2406.4v-8M1611.4 1976.7v8M1736.8 2406.4v-8M1736.8 1976.7v8M1862.3 2406.4v-8M1862.3 1976.7v8M1485.9 2406.4h8M1987.8 2406.4h-8M1485.9 2334.8h8M1987.8 2334.8h-8M1485.9 2263.2h8M1987.8 2263.2h-8M1485.9 2191.6h8M1987.8 2191.6h-8M1485.9 2119.9h8M1987.8 2119.9h-8M1485.9 2048.3h8M1987.8 2048.3h-8M1485.9 1976.7h8M1987.8 1976.7h-8" stroke="#000" stroke-width="1.8" fill="none"/>
<rect x="1485.9" y="1976.7" width="501.9" height="429.7" fill="none" stroke="#000" stroke-width="1.8"/>
<text x="1484.4" y="2444.4" font-size="29" text-anchor="middle" fill="#000" >0</text>
<text x="1609.9" y="2444.4" font-size="29" text-anchor="middle" fill="#000" >100</text>
<text x="1735.3" y="2444.4" font-size="29" text-anchor="middle" fill="#000" >200</text>
<text x="1860.8" y="2444.4" font-size="29" text-anchor="middle" fill="#000" >300</text>
<text x="1986.3" y="2444.4" font-size="29" text-anchor="middle" fill="#000" >400</text>
<text x="1470.7" y="2417.3" font-size="29" text-anchor="end" fill="#000" >0</text>
<text x="1470.7" y="2345.7" font-size="29" text-anchor="end" fill="#000" >10</text>
<text x="1470.7" y="2274.1" font-size="29" text-anchor="end" fill="#000" >20</text>
<text x="1470.7" y="2202.5" font-size="29" text-anchor="end" fill="#000" >30</text>
<text x="1470.7" y="2130.8" font-size="29" text-anchor="end" fill="#000" >40</text>
<text x="1470.7" y="2059.2" font-size="29" text-anchor="end" fill="#000" >50</text>
<text x="1470.7" y="1987.6" font-size="29" text-anchor="end" fill="#000" >60</text>
<text x="1736.9" y="1915.9" font-size="29" text-anchor="middle" fill="#000" >STD velocity for all neurons</text>
<text y="1956.4" font-size="29"><tspan x="1502.5" font-weight="bold" font-style="italic">&#956;</tspan><tspan> = 106.4 mm/s,</tspan><tspan x="1763.1" font-weight="bold" font-style="italic">&#963;</tspan><tspan> = 53.5 mm/s</tspan></text>
<text x="1723.8" y="2487" font-size="29" text-anchor="middle" fill="#000" >Velocity std [mm/s]</text>
<text transform="translate(1413.7,2191.7) rotate(-90)" font-size="29" text-anchor="middle">Neuron count</text>
</svg>
</body></html>
